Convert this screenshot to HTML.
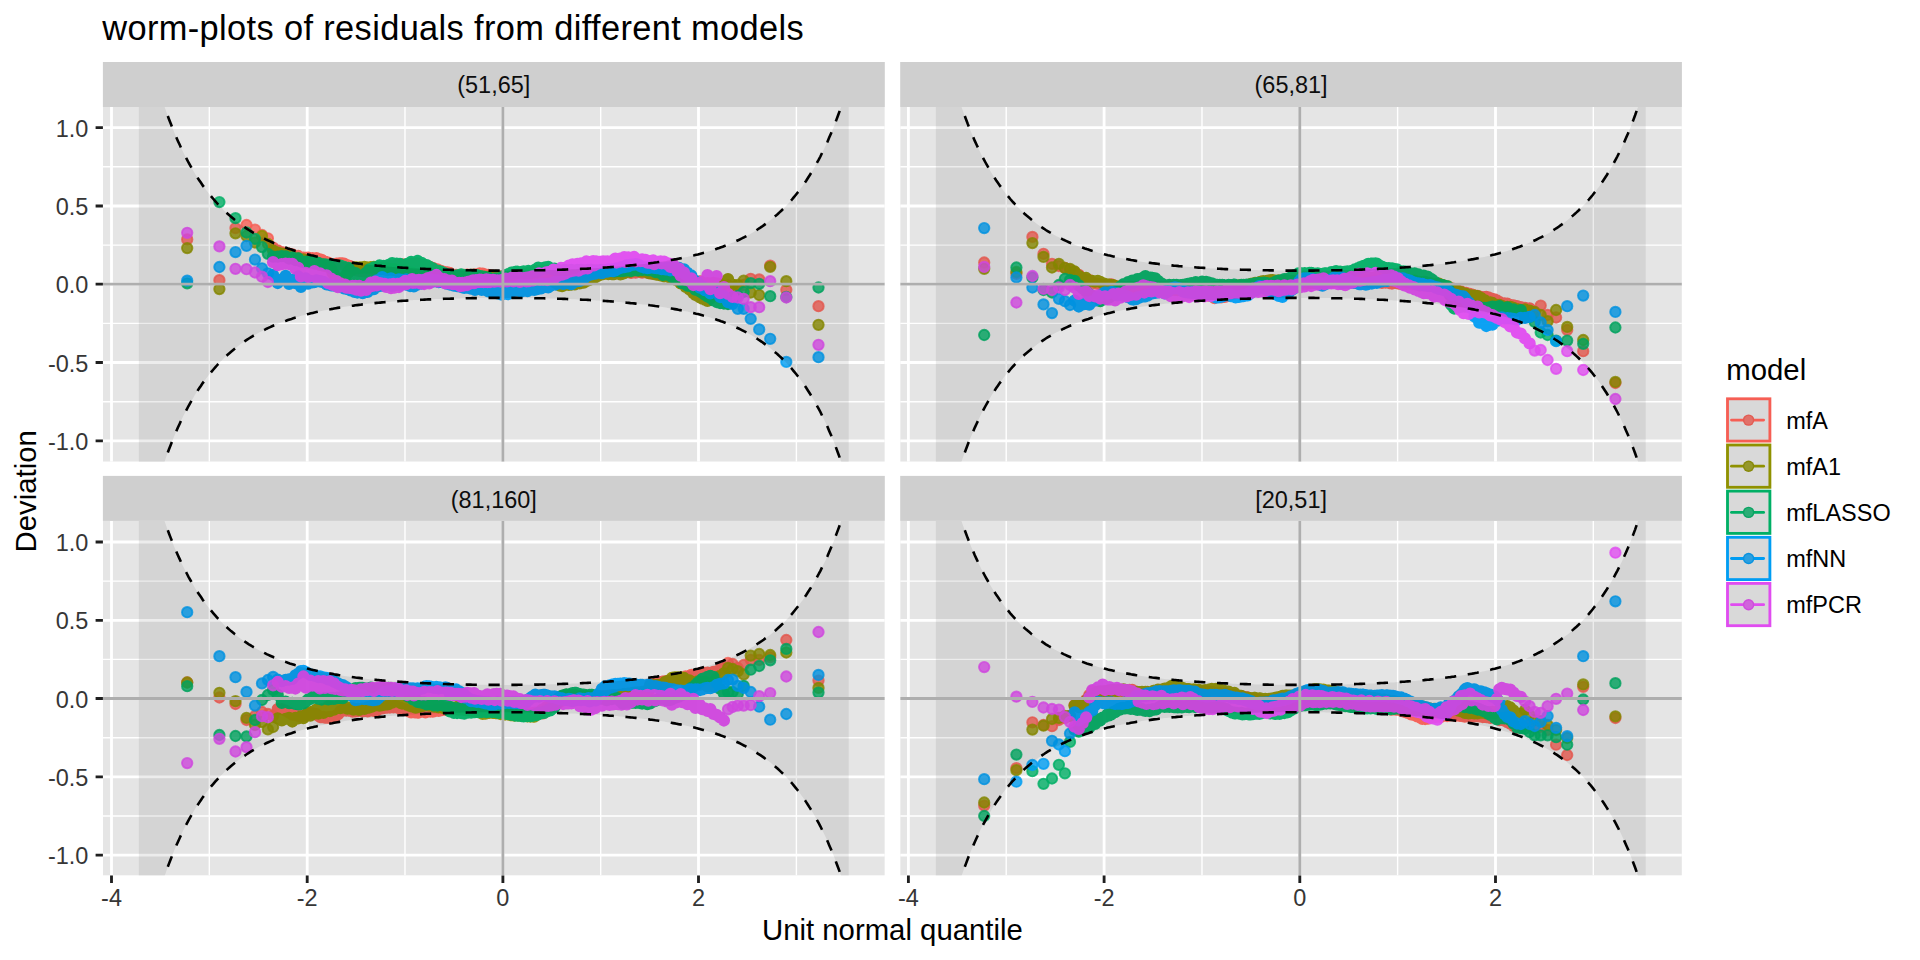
<!DOCTYPE html><html><head><meta charset="utf-8"><title>worm-plots</title><style>html,body{margin:0;padding:0;background:#fff;width:1920px;height:960px;overflow:hidden}svg{display:block}text{font-family:"Liberation Sans",Arial,sans-serif}</style></head><body><svg width="1920" height="960" viewBox="0 0 1920 960"><rect width="1920" height="960" fill="#fff"/><defs><clipPath id="cp00"><rect x="102.9" y="107" width="781.9" height="354.7"/></clipPath><clipPath id="cp01"><rect x="900.2" y="107" width="781.7" height="354.7"/></clipPath><clipPath id="cp10"><rect x="102.9" y="520.9" width="781.9" height="354.7"/></clipPath><clipPath id="cp11"><rect x="900.2" y="520.9" width="781.7" height="354.7"/></clipPath></defs><rect x="102.9" y="62" width="781.9" height="45" fill="#CFCFCF"/><text x="493.8" y="93" font-size="23.47" fill="#0D0D0D" text-anchor="middle">(51,65]</text><g clip-path="url(#cp00)"><rect x="102.9" y="107" width="781.9" height="354.7" fill="#E5E5E5"/><path d="M209.3 107V461.7M405 107V461.7M600.7 107V461.7M796.4 107V461.7M102.9 401.7H884.8M102.9 323.4H884.8M102.9 245.1H884.8M102.9 166.8H884.8" stroke="#fff" stroke-width="1.42" fill="none"/><path d="M111.5 107V461.7M307.2 107V461.7M502.9 107V461.7M698.5 107V461.7M102.9 440.8H884.8M102.9 362.5H884.8M102.9 284.2H884.8M102.9 206H884.8M102.9 127.7H884.8" stroke="#fff" stroke-width="2.84" fill="none"/><path d="M273.1 247.7h0M277.7 250.3h0M281.8 252.2h0M285.6 252.8h0M289.1 253.6h0M292.3 254.4h0M295.4 255.9h0M298.2 256h0M300.9 257.8h0M303.4 257.6h0M305.8 258h0M308.1 257.7h0M310.3 258.7h0M312.4 258.2h0M314.4 258.7h0M316.3 258.2h0M318.2 259.9h0M320 259.3h0M321.7 259.8h0M323.4 261.1h0M325 261.6h0M326.6 263.2h0M328.2 262.7h0M329.7 264.8h0M331.1 264.4h0M332.5 264.8h0M333.9 265h0M335.3 265h0M336.6 263.7h0M337.9 264.5h0M339.2 263.5h0M340.4 263.5h0M341.6 263.3h0M342.8 263.7h0M344 263.7h0M345.1 265.4h0M346.2 264.9h0M347.3 266h0M348.4 266h0M349.5 265.8h0M350.5 266.4h0M351.5 266.9h0M352.5 268h0M353.5 267.8h0M354.5 268.9h0M355.5 269.8h0M356.4 270.3h0M357.4 269.8h0M358.3 270.5h0M359.2 271h0M361 270.9h0M362.7 270.6h0M364.4 271.3h0M366.1 269.4h0M367.7 269.3h0M369.3 269.8h0M370.9 268.6h0M372.4 268.6h0M373.9 269.1h0M375.3 269h0M376.7 267.9h0M378.1 267.3h0M379.5 268.2h0M380.9 267.6h0M382.2 267.2h0M383.5 266.8h0M384.8 266.7h0M386.1 266.4h0M387.3 267h0M388.6 266.4h0M389.8 265.9h0M391 266.8h0M392.1 266.5h0M393.3 266.5h0M394.4 266.5h0M395.6 265.3h0M396.7 266.2h0M397.8 265.9h0M398.9 265.2h0M400 264.9h0M401 265.2h0M402.1 265.1h0M403.1 264.5h0M404.2 265.1h0M405.2 266h0M406.2 265.3h0M407.2 265.2h0M408.2 265.9h0M409.2 265.8h0M410.1 265.6h0M411.1 263.9h0M412.1 265.1h0M413 263.9h0M413.9 264.2h0M414.9 264.6h0M415.8 263.9h0M416.7 263.5h0M417.6 263.3h0M418.9 264.2h0M420.3 264.3h0M421.6 265.4h0M422.9 265.4h0M424.2 265.1h0M425.4 266.4h0M426.7 267.1h0M428 266.9h0M429.2 266.7h0M430.4 267.6h0M431.6 268.3h0M432.8 267.9h0M434 268.9h0M435.2 269.3h0M436.4 269.1h0M437.5 269.3h0M438.7 270.7h0M439.8 270.6h0M441 270.9h0M442.1 271.3h0M443.2 272.1h0M444.3 272.6h0M445.4 272.2h0M446.5 273.2h0M447.6 272.3h0M448.7 274h0M449.8 273h0M450.8 274.9h0M451.9 275.2h0M452.9 275h0M454 275.8h0M455 275.7h0M456.1 274.8h0M457.1 275.8h0M458.1 276.2h0M459.2 275.8h0M460.2 275h0M461.2 275.3h0M462.2 276h0M463.2 275.9h0M464.2 275h0M465.2 276h0M466.2 275.2h0M467.2 274.7h0M468.2 276.1h0M469.2 275.6h0M470.2 275.8h0M471.1 274.7h0M472.1 275.2h0M473.1 275.7h0M474.1 274.3h0M475 275.5h0M476 274.7h0M476.9 274.8h0M477.9 274.6h0M478.9 274.5h0M479.8 273.5h0M480.8 274.2h0M481.7 273.8h0M482.7 273.7h0M483.6 274.2h0M484.5 275.3h0M485.5 275.5h0M486.4 275h0M487.4 275.3h0M488.3 274.8h0M489.2 275.1h0M490.2 275.8h0M491.1 275.4h0M492 276.3h0M493 276.5h0M493.9 276h0M494.8 276.1h0M495.7 275.8h0M496.7 276h0M497.6 277.1h0M498.5 276.3h0M499.5 276.1h0M500.4 277.3h0M501.3 277.5h0M502.2 277.7h0M503.2 277.6h0M504.1 276.8h0M505 277.4h0M505.9 277.2h0M506.9 277.2h0M507.8 277.3h0M508.7 277.2h0M509.6 277h0M510.6 277.3h0M511.5 276.9h0M512.4 276.7h0M513.4 276h0M514.3 276.5h0M515.2 276.6h0M516.2 276h0M517.1 274.9h0M518 275.6h0M519 275.2h0M519.9 274.5h0M520.8 274.5h0M521.8 275h0M522.7 274.6h0M523.7 274h0M524.6 274.3h0M525.6 274.2h0M526.5 274.2h0M527.5 274.4h0M528.4 273.8h0M529.4 272.4h0M530.4 274.6h0M531.3 273.6h0M532.3 272.8h0M533.3 273.8h0M534.2 272.9h0M535.2 272h0M536.2 271h0M537.2 273.4h0M538.2 271.1h0M539.1 271.4h0M540.1 271.8h0M541.1 272.1h0M542.1 272.1h0M543.1 271.7h0M544.2 272.6h0M545.2 272.9h0M546.2 271.3h0M547.2 272.3h0M548.2 272.2h0M549.3 272.8h0M550.3 271.7h0M551.4 273h0M552.4 273.6h0M553.5 272.1h0M554.5 273.6h0M555.6 273h0M556.7 272.9h0M557.7 273.2h0M558.8 273.9h0M559.9 273.6h0M561 273.7h0M562.1 274.2h0M563.2 273.7h0M564.4 274.8h0M565.5 273.2h0M566.6 275h0M567.8 274.2h0M568.9 273.4h0M570.1 273.3h0M571.3 273.3h0M572.5 273.9h0M573.7 273.1h0M574.9 273.2h0M576.1 273.2h0M577.3 272.8h0M578.6 272.8h0M579.8 272.9h0M581.1 273.8h0M582.4 271.9h0M583.7 273.3h0M585 272.4h0M586.3 272.4h0M587.6 273.4h0M588.5 272.8h0M589.5 272.2h0M590.4 272.4h0M591.3 273.3h0M592.2 273.2h0M593.2 272.3h0M594.1 272.1h0M595.1 272.5h0M596 272.2h0M597 271h0M598 273.2h0M599 272.2h0M600 271.6h0M601 272.5h0M602 271.8h0M603.1 272.6h0M604.1 272.2h0M605.2 272.3h0M606.3 272.3h0M607.4 272.2h0M608.4 272.2h0M609.6 272.4h0M610.7 272.3h0M611.8 270.9h0M613 272h0M614.2 271.1h0M615.3 271.1h0M616.5 272.1h0M617.8 271.8h0M619 272.1h0M620.3 271.2h0M621.5 272.8h0M622.8 272h0M624.2 271.9h0M625.5 272.3h0M626.9 270.7h0M628.2 271.4h0M629.7 270.3h0M631.1 272.9h0M632.6 271.3h0M634.1 271.8h0M635.6 272.7h0M637.2 271.8h0M638.8 271.8h0M640.4 270.6h0M642.1 272.7h0M643.8 272.1h0M645.6 270.5h0M647.4 272.6h0M648.3 271.7h0M649.3 273h0M650.2 271.4h0M651.2 273.5h0M652.2 272.6h0M653.2 271.4h0M654.2 273.3h0M655.2 272.3h0M656.2 272.5h0M657.3 271.8h0M658.4 274.2h0M659.5 273.2h0M660.6 272.3h0M661.7 274h0M662.9 272.5h0M664.1 272.8h0M665.3 273.1h0M666.5 274.6h0M667.8 274h0M669.1 272.9h0M670.4 274.6h0M671.8 273.6h0M673.2 274.8h0M674.6 274.1h0M676 275.4h0M677.5 274.3h0M679.1 274.9h0M680.7 276.1h0M682.3 276.4h0M684 277.2h0M685.7 277.5h0M687.5 279.3h0M689.4 279.6h0M691.3 279.3h0M693.3 282.1h0M695.4 281.7h0M697.6 282.3h0M699.9 281.3h0M702.3 282.7h0M704.8 283.4h0M707.5 283.1h0M710.3 284.3h0M713.4 282.8h0M716.6 283.5h0M720.1 284.6h0M723.9 285.9h0M728 285.5h0M732.6 287.4h0" stroke="#F65E54" stroke-opacity="0.95" stroke-width="12.3" stroke-linecap="round" fill="none"/><circle cx="187.2" cy="239.4" r="5.2" fill="#F65E54" fill-opacity="0.8" stroke="#F65E54" stroke-opacity="0.8" stroke-width="1.9"/><circle cx="219.4" cy="280.2" r="5.2" fill="#F65E54" fill-opacity="0.8" stroke="#F65E54" stroke-opacity="0.8" stroke-width="1.9"/><circle cx="235.5" cy="228.1" r="5.2" fill="#F65E54" fill-opacity="0.8" stroke="#F65E54" stroke-opacity="0.8" stroke-width="1.9"/><circle cx="246.5" cy="225" r="5.2" fill="#F65E54" fill-opacity="0.8" stroke="#F65E54" stroke-opacity="0.8" stroke-width="1.9"/><circle cx="255" cy="229.6" r="5.2" fill="#F65E54" fill-opacity="0.8" stroke="#F65E54" stroke-opacity="0.8" stroke-width="1.9"/><circle cx="262" cy="235" r="5.2" fill="#F65E54" fill-opacity="0.8" stroke="#F65E54" stroke-opacity="0.8" stroke-width="1.9"/><circle cx="267.9" cy="238.3" r="5.2" fill="#F65E54" fill-opacity="0.8" stroke="#F65E54" stroke-opacity="0.8" stroke-width="1.9"/><circle cx="818.5" cy="306.2" r="5.2" fill="#F65E54" fill-opacity="0.8" stroke="#F65E54" stroke-opacity="0.8" stroke-width="1.9"/><circle cx="786.3" cy="289.8" r="5.2" fill="#F65E54" fill-opacity="0.8" stroke="#F65E54" stroke-opacity="0.8" stroke-width="1.9"/><circle cx="770.2" cy="265.6" r="5.2" fill="#F65E54" fill-opacity="0.8" stroke="#F65E54" stroke-opacity="0.8" stroke-width="1.9"/><circle cx="759.2" cy="279.4" r="5.2" fill="#F65E54" fill-opacity="0.8" stroke="#F65E54" stroke-opacity="0.8" stroke-width="1.9"/><circle cx="750.7" cy="278.8" r="5.2" fill="#F65E54" fill-opacity="0.8" stroke="#F65E54" stroke-opacity="0.8" stroke-width="1.9"/><circle cx="743.7" cy="285" r="5.2" fill="#F65E54" fill-opacity="0.8" stroke="#F65E54" stroke-opacity="0.8" stroke-width="1.9"/><circle cx="737.8" cy="288" r="5.2" fill="#F65E54" fill-opacity="0.8" stroke="#F65E54" stroke-opacity="0.8" stroke-width="1.9"/><path d="M273.1 250.7h0M277.7 252.6h0M281.8 253.7h0M285.6 256.2h0M289.1 255.6h0M292.3 258h0M295.4 258.3h0M298.2 258.4h0M300.9 260.4h0M303.4 259.4h0M305.8 260.6h0M308.1 260.8h0M310.3 262.5h0M312.4 262h0M314.4 262.5h0M316.3 263.6h0M318.2 263.4h0M320 264.9h0M321.7 264.5h0M323.4 265.7h0M325 265.1h0M326.6 266.3h0M328.2 266.1h0M329.7 267.1h0M331.1 269.1h0M332.5 272.3h0M333.9 274.3h0M335.3 277h0M336.6 277.8h0M337.9 279h0M339.2 278.9h0M340.4 279.1h0M341.6 280.5h0M342.8 280h0M344 277.8h0M345.1 277h0M346.2 274.9h0M347.3 272.9h0M348.4 272.4h0M349.5 270.1h0M350.5 268.9h0M351.5 269.4h0M352.5 269.4h0M353.5 268.5h0M354.5 268.4h0M355.5 267.3h0M356.4 267.4h0M357.4 268h0M358.3 268.2h0M359.2 267.6h0M361 267.5h0M362.7 267.5h0M364.4 267h0M366.1 267.5h0M367.7 267.7h0M369.3 267.7h0M370.9 267.2h0M372.4 267.4h0M373.9 266.9h0M375.3 267.4h0M376.7 267.9h0M378.1 268.6h0M379.5 268.7h0M380.9 269.2h0M382.2 268h0M383.5 268.1h0M384.8 269.4h0M386.1 268.5h0M387.3 270.1h0M388.6 268.8h0M389.8 269.3h0M391 269.3h0M392.1 269.8h0M393.3 269.4h0M394.4 269.4h0M395.6 270.1h0M396.7 270h0M397.8 271.2h0M398.9 270.6h0M400 271.3h0M401 271.1h0M402.1 271.7h0M403.1 270.6h0M404.2 270.6h0M405.2 271.8h0M406.2 272.5h0M407.2 271.9h0M408.2 272.2h0M409.2 272.9h0M410.1 273.1h0M411.1 273.8h0M412.1 273h0M413 273.4h0M413.9 274h0M414.9 274.2h0M415.8 274.7h0M416.7 275.2h0M417.6 275.9h0M418.9 274.8h0M420.3 275.7h0M421.6 275.4h0M422.9 274.3h0M424.2 275.1h0M425.4 274.8h0M426.7 273.3h0M428 273.7h0M429.2 273.4h0M430.4 274.2h0M431.6 274.5h0M432.8 273.6h0M434 275.5h0M435.2 275.8h0M436.4 275.9h0M437.5 275.9h0M438.7 275.7h0M439.8 275.6h0M441 275.7h0M442.1 276.5h0M443.2 275.6h0M444.3 275.6h0M445.4 276.4h0M446.5 276h0M447.6 276.6h0M448.7 276.8h0M449.8 277.5h0M450.8 277.6h0M451.9 277h0M452.9 277.7h0M454 276.6h0M455 277.2h0M456.1 277h0M457.1 277.5h0M458.1 278.1h0M459.2 278.2h0M460.2 278h0M461.2 277.6h0M462.2 276.7h0M463.2 277.5h0M464.2 277.8h0M465.2 277.5h0M466.2 277.5h0M467.2 277.9h0M468.2 277.6h0M469.2 277.1h0M470.2 277.4h0M471.1 277.4h0M472.1 276.7h0M473.1 277.4h0M474.1 277.4h0M475 278h0M476 276.8h0M476.9 277.7h0M477.9 278.1h0M478.9 276.9h0M479.8 276.8h0M480.8 277.3h0M481.7 277h0M482.7 276.9h0M483.6 277.3h0M484.5 277.6h0M485.5 277.5h0M486.4 277.4h0M487.4 277.1h0M488.3 277.3h0M489.2 277.3h0M490.2 277h0M491.1 276.3h0M492 276.2h0M493 276h0M493.9 276.5h0M494.8 276.9h0M495.7 275.9h0M496.7 277.1h0M497.6 276.7h0M498.5 276.9h0M499.5 276.9h0M500.4 277.3h0M501.3 277.3h0M502.2 276.7h0M503.2 277h0M504.1 277.7h0M505 277.8h0M505.9 277.9h0M506.9 278.1h0M507.8 277.1h0M508.7 277.5h0M509.6 277.2h0M510.6 277.4h0M511.5 277h0M512.4 276.9h0M513.4 276.8h0M514.3 278.2h0M515.2 276.9h0M516.2 277.6h0M517.1 277.9h0M518 278.1h0M519 277.5h0M519.9 277.5h0M520.8 276.4h0M521.8 276.4h0M522.7 276.4h0M523.7 275.4h0M524.6 276h0M525.6 276.2h0M526.5 275.3h0M527.5 275.1h0M528.4 275.2h0M529.4 275.2h0M530.4 276.5h0M531.3 275.4h0M532.3 276h0M533.3 276h0M534.2 276.5h0M535.2 275.4h0M536.2 277.3h0M537.2 276.4h0M538.2 277.4h0M539.1 276h0M540.1 277.1h0M541.1 277.7h0M542.1 277.7h0M543.1 277.9h0M544.2 276.9h0M545.2 278.4h0M546.2 277.2h0M547.2 278.5h0M548.2 277.8h0M549.3 277h0M550.3 278.9h0M551.4 278.9h0M552.4 280.6h0M553.5 280h0M554.5 282.1h0M555.6 282.7h0M556.7 282.3h0M557.7 284.1h0M558.8 283.9h0M559.9 285.6h0M561 285.8h0M562.1 286.2h0M563.2 285.7h0M564.4 284.4h0M565.5 284.4h0M566.6 284.3h0M567.8 283.8h0M568.9 284.9h0M570.1 284.3h0M571.3 284.7h0M572.5 283.4h0M573.7 284h0M574.9 284.3h0M576.1 283.2h0M577.3 283.1h0M578.6 283h0M579.8 283.3h0M581.1 282.1h0M582.4 282.2h0M583.7 282.6h0M585 281.7h0M586.3 281.2h0M587.6 279.9h0M588.5 278.9h0M589.5 280h0M590.4 278.5h0M591.3 278.8h0M592.2 277.9h0M593.2 277.7h0M594.1 276.6h0M595.1 277.4h0M596 276.7h0M597 275.2h0M598 275.9h0M599 275.3h0M600 274.8h0M601 273.4h0M602 273.9h0M603.1 274.2h0M604.1 273.7h0M605.2 273h0M606.3 273.7h0M607.4 273.6h0M608.4 274.2h0M609.6 272.8h0M610.7 272.8h0M611.8 274.2h0M613 274h0M614.2 274.1h0M615.3 273.3h0M616.5 273.2h0M617.8 272.8h0M619 273.7h0M620.3 274.3h0M621.5 274.1h0M622.8 273.7h0M624.2 273.1h0M625.5 272.2h0M626.9 271.7h0M628.2 271.1h0M629.7 271.8h0M631.1 271.2h0M632.6 270.7h0M634.1 270.2h0M635.6 269.2h0M637.2 270.4h0M638.8 270.6h0M640.4 271.3h0M642.1 271.3h0M643.8 271.3h0M645.6 271.4h0M647.4 271.7h0M648.3 273h0M649.3 272.6h0M650.2 273.1h0M651.2 272.1h0M652.2 273.1h0M653.2 273.2h0M654.2 274.1h0M655.2 273.7h0M656.2 274.5h0M657.3 273.4h0M658.4 274.4h0M659.5 275.1h0M660.6 274.2h0M661.7 275.7h0M662.9 275.8h0M664.1 276.3h0M665.3 276.1h0M666.5 275.8h0M667.8 276h0M669.1 277.1h0M670.4 277.9h0M671.8 277.6h0M673.2 277.4h0M674.6 278.8h0M676 279.8h0M677.5 279.6h0M679.1 281.5h0M680.7 283.3h0M682.3 283h0M684 284.2h0M685.7 286.8h0M687.5 286.8h0M689.4 289.3h0M691.3 290.6h0M693.3 293.1h0M695.4 294.9h0M697.6 296h0M699.9 297.3h0M702.3 298.7h0M704.8 299.6h0M707.5 300.9h0M710.3 298.3h0M713.4 296.2h0M716.6 290.2h0M720.1 290.7h0M723.9 284.4h0M728 279.1h0M732.6 284.6h0" stroke="#8F9100" stroke-opacity="0.95" stroke-width="12.3" stroke-linecap="round" fill="none"/><circle cx="187.2" cy="248.1" r="5.2" fill="#8F9100" fill-opacity="0.8" stroke="#8F9100" stroke-opacity="0.8" stroke-width="1.9"/><circle cx="219.4" cy="289.1" r="5.2" fill="#8F9100" fill-opacity="0.8" stroke="#8F9100" stroke-opacity="0.8" stroke-width="1.9"/><circle cx="235.5" cy="233.3" r="5.2" fill="#8F9100" fill-opacity="0.8" stroke="#8F9100" stroke-opacity="0.8" stroke-width="1.9"/><circle cx="246.5" cy="236" r="5.2" fill="#8F9100" fill-opacity="0.8" stroke="#8F9100" stroke-opacity="0.8" stroke-width="1.9"/><circle cx="255" cy="242.5" r="5.2" fill="#8F9100" fill-opacity="0.8" stroke="#8F9100" stroke-opacity="0.8" stroke-width="1.9"/><circle cx="262" cy="236" r="5.2" fill="#8F9100" fill-opacity="0.8" stroke="#8F9100" stroke-opacity="0.8" stroke-width="1.9"/><circle cx="267.9" cy="244" r="5.2" fill="#8F9100" fill-opacity="0.8" stroke="#8F9100" stroke-opacity="0.8" stroke-width="1.9"/><circle cx="818.5" cy="324.8" r="5.2" fill="#8F9100" fill-opacity="0.8" stroke="#8F9100" stroke-opacity="0.8" stroke-width="1.9"/><circle cx="786.3" cy="281.2" r="5.2" fill="#8F9100" fill-opacity="0.8" stroke="#8F9100" stroke-opacity="0.8" stroke-width="1.9"/><circle cx="770.2" cy="266.9" r="5.2" fill="#8F9100" fill-opacity="0.8" stroke="#8F9100" stroke-opacity="0.8" stroke-width="1.9"/><circle cx="759.2" cy="295" r="5.2" fill="#8F9100" fill-opacity="0.8" stroke="#8F9100" stroke-opacity="0.8" stroke-width="1.9"/><circle cx="750.7" cy="292.5" r="5.2" fill="#8F9100" fill-opacity="0.8" stroke="#8F9100" stroke-opacity="0.8" stroke-width="1.9"/><circle cx="743.7" cy="280.6" r="5.2" fill="#8F9100" fill-opacity="0.8" stroke="#8F9100" stroke-opacity="0.8" stroke-width="1.9"/><circle cx="737.8" cy="285" r="5.2" fill="#8F9100" fill-opacity="0.8" stroke="#8F9100" stroke-opacity="0.8" stroke-width="1.9"/><path d="M273.1 256.7h0M277.7 256.7h0M281.8 256.1h0M285.6 256.4h0M289.1 258.5h0M292.3 257.4h0M295.4 260h0M298.2 258.5h0M300.9 261.3h0M303.4 262h0M305.8 261.7h0M308.1 262.6h0M310.3 261.9h0M312.4 262.2h0M314.4 263.3h0M316.3 262.3h0M318.2 262.8h0M320 263.9h0M321.7 264.5h0M323.4 264.4h0M325 264.3h0M326.6 265.1h0M328.2 264.8h0M329.7 266.6h0M331.1 265.4h0M332.5 268.8h0M333.9 267.5h0M335.3 266h0M336.6 269h0M337.9 266.3h0M339.2 269.4h0M340.4 265.7h0M341.6 271.5h0M342.8 268.5h0M344 266.9h0M345.1 272.3h0M346.2 270.1h0M347.3 271.8h0M348.4 267.9h0M349.5 275.3h0M350.5 272.4h0M351.5 271.7h0M352.5 275.9h0M353.5 273.2h0M354.5 274.7h0M355.5 273.1h0M356.4 276h0M357.4 276.6h0M358.3 275.4h0M359.2 277.3h0M361 277.4h0M362.7 276.9h0M364.4 274.4h0M366.1 272.9h0M367.7 272.5h0M369.3 269.5h0M370.9 271.6h0M372.4 269h0M373.9 267.5h0M375.3 269.3h0M376.7 268.2h0M378.1 268h0M379.5 265.5h0M380.9 268.9h0M382.2 266.9h0M383.5 265.9h0M384.8 268.1h0M386.1 266.5h0M387.3 267h0M388.6 264.9h0M389.8 268.9h0M391 266h0M392.1 263.2h0M393.3 268h0M394.4 265.6h0M395.6 265.9h0M396.7 263.7h0M397.8 268.2h0M398.9 265.9h0M400 264h0M401 268.2h0M402.1 266.2h0M403.1 268.3h0M404.2 264.8h0M405.2 269.8h0M406.2 266.3h0M407.2 263.8h0M408.2 268.3h0M409.2 265.6h0M410.1 266.8h0M411.1 261.9h0M412.1 269.8h0M413 265.3h0M413.9 263h0M414.9 268.4h0M415.8 263.4h0M416.7 266.9h0M417.6 260.9h0M418.9 269.5h0M420.3 266.2h0M421.6 262.9h0M422.9 267.1h0M424.2 265.8h0M425.4 266.7h0M426.7 265.1h0M428 267.1h0M429.2 266.6h0M430.4 267.6h0M431.6 267.9h0M432.8 268.4h0M434 269.4h0M435.2 270.5h0M436.4 270.7h0M437.5 271.7h0M438.7 270.8h0M439.8 272.3h0M441 271.7h0M442.1 273h0M443.2 273.2h0M444.3 273.1h0M445.4 273.7h0M446.5 274.8h0M447.6 274.6h0M448.7 275.2h0M449.8 274.9h0M450.8 276.4h0M451.9 275.8h0M452.9 276.2h0M454 276.2h0M455 276h0M456.1 276h0M457.1 276.2h0M458.1 275.1h0M459.2 274.8h0M460.2 274.6h0M461.2 274.5h0M462.2 275.5h0M463.2 275.2h0M464.2 275.6h0M465.2 275.1h0M466.2 275.6h0M467.2 275.5h0M468.2 275.5h0M469.2 275.6h0M470.2 275h0M471.1 274.9h0M472.1 275.2h0M473.1 274.8h0M474.1 274.9h0M475 275.1h0M476 276.3h0M476.9 275.2h0M477.9 276.1h0M478.9 276h0M479.8 276.7h0M480.8 276.2h0M481.7 276.3h0M482.7 276.9h0M483.6 277.7h0M484.5 277h0M485.5 277.5h0M486.4 278.4h0M487.4 278.5h0M488.3 277.7h0M489.2 278.2h0M490.2 278.6h0M491.1 278.9h0M492 279.1h0M493 279.1h0M493.9 278.8h0M494.8 279.6h0M495.7 278.5h0M496.7 279.3h0M497.6 279.9h0M498.5 278.7h0M499.5 278.7h0M500.4 279h0M501.3 277.5h0M502.2 277.4h0M503.2 276.9h0M504.1 275.8h0M505 275.6h0M505.9 275.1h0M506.9 274.6h0M507.8 274.9h0M508.7 273.8h0M509.6 274.2h0M510.6 273.4h0M511.5 272.7h0M512.4 273.4h0M513.4 272.5h0M514.3 273.4h0M515.2 272h0M516.2 272.1h0M517.1 271.6h0M518 272.9h0M519 272.6h0M519.9 272.7h0M520.8 272.1h0M521.8 272.4h0M522.7 271.6h0M523.7 271.4h0M524.6 271.9h0M525.6 273.6h0M526.5 273.2h0M527.5 273.5h0M528.4 270.9h0M529.4 273.4h0M530.4 272h0M531.3 271.1h0M532.3 272.3h0M533.3 270.9h0M534.2 270.8h0M535.2 269.7h0M536.2 272.1h0M537.2 269.9h0M538.2 267.7h0M539.1 270.5h0M540.1 268.9h0M541.1 269.6h0M542.1 268.1h0M543.1 268.5h0M544.2 268.6h0M545.2 267.5h0M546.2 267.6h0M547.2 268.3h0M548.2 266.8h0M549.3 267.7h0M550.3 268.3h0M551.4 268.7h0M552.4 268.7h0M553.5 269.4h0M554.5 268.7h0M555.6 269.9h0M556.7 270.3h0M557.7 270h0M558.8 270.4h0M559.9 271.7h0M561 271.1h0M562.1 271.5h0M563.2 271.9h0M564.4 270h0M565.5 270.6h0M566.6 270.1h0M567.8 271.2h0M568.9 271.2h0M570.1 270.1h0M571.3 269.9h0M572.5 270.6h0M573.7 270.8h0M574.9 270.8h0M576.1 270.3h0M577.3 269.9h0M578.6 270.9h0M579.8 270.1h0M581.1 269.9h0M582.4 270.1h0M583.7 271.1h0M585 270.7h0M586.3 270.5h0M587.6 269.9h0M588.5 271.2h0M589.5 270.4h0M590.4 269.9h0M591.3 270h0M592.2 270.7h0M593.2 271.1h0M594.1 270.3h0M595.1 270.9h0M596 270.4h0M597 270.6h0M598 270.8h0M599 270.4h0M600 270.3h0M601 270h0M602 270.3h0M603.1 270.2h0M604.1 271h0M605.2 270.9h0M606.3 270.7h0M607.4 270.4h0M608.4 270.8h0M609.6 270.2h0M610.7 270.9h0M611.8 270.8h0M613 269.8h0M614.2 271.3h0M615.3 271.2h0M616.5 271.2h0M617.8 270.3h0M619 270.2h0M620.3 271.1h0M621.5 270.7h0M622.8 271.1h0M624.2 270.5h0M625.5 270.6h0M626.9 270.3h0M628.2 269.8h0M629.7 270.6h0M631.1 270.8h0M632.6 269.8h0M634.1 270h0M635.6 269.1h0M637.2 270.3h0M638.8 269.2h0M640.4 269.3h0M642.1 269.8h0M643.8 269.4h0M645.6 268.9h0M647.4 270.1h0M648.3 270.1h0M649.3 270.2h0M650.2 268.9h0M651.2 270h0M652.2 270.5h0M653.2 270.5h0M654.2 269.8h0M655.2 272h0M656.2 270.4h0M657.3 270.5h0M658.4 272.4h0M659.5 271.5h0M660.6 272.3h0M661.7 270.9h0M662.9 275h0M664.1 273.2h0M665.3 272.5h0M666.5 274.7h0M667.8 273.2h0M669.1 274.1h0M670.4 272h0M671.8 276.9h0M673.2 275.7h0M674.6 273.5h0M676 277.6h0M677.5 277.5h0M679.1 279.8h0M680.7 277.3h0M682.3 283.2h0M684 282.5h0M685.7 281.3h0M687.5 285.7h0M689.4 285.3h0M691.3 286.3h0M693.3 285.9h0M695.4 289.6h0M697.6 290h0M699.9 291.4h0M702.3 293h0M704.8 294.7h0M707.5 296.4h0M710.3 297.9h0M713.4 300.4h0M716.6 302h0M720.1 303h0M723.9 303.5h0M728 304h0M732.6 297h0" stroke="#00AF65" stroke-opacity="0.95" stroke-width="12.3" stroke-linecap="round" fill="none"/><circle cx="187.2" cy="283.3" r="5.2" fill="#00AF65" fill-opacity="0.8" stroke="#00AF65" stroke-opacity="0.8" stroke-width="1.9"/><circle cx="219.4" cy="202.1" r="5.2" fill="#00AF65" fill-opacity="0.8" stroke="#00AF65" stroke-opacity="0.8" stroke-width="1.9"/><circle cx="235.5" cy="218.2" r="5.2" fill="#00AF65" fill-opacity="0.8" stroke="#00AF65" stroke-opacity="0.8" stroke-width="1.9"/><circle cx="246.5" cy="232.5" r="5.2" fill="#00AF65" fill-opacity="0.8" stroke="#00AF65" stroke-opacity="0.8" stroke-width="1.9"/><circle cx="255" cy="238.8" r="5.2" fill="#00AF65" fill-opacity="0.8" stroke="#00AF65" stroke-opacity="0.8" stroke-width="1.9"/><circle cx="262" cy="247.1" r="5.2" fill="#00AF65" fill-opacity="0.8" stroke="#00AF65" stroke-opacity="0.8" stroke-width="1.9"/><circle cx="267.9" cy="253.8" r="5.2" fill="#00AF65" fill-opacity="0.8" stroke="#00AF65" stroke-opacity="0.8" stroke-width="1.9"/><circle cx="818.5" cy="287.5" r="5.2" fill="#00AF65" fill-opacity="0.8" stroke="#00AF65" stroke-opacity="0.8" stroke-width="1.9"/><circle cx="786.3" cy="297" r="5.2" fill="#00AF65" fill-opacity="0.8" stroke="#00AF65" stroke-opacity="0.8" stroke-width="1.9"/><circle cx="770.2" cy="296.2" r="5.2" fill="#00AF65" fill-opacity="0.8" stroke="#00AF65" stroke-opacity="0.8" stroke-width="1.9"/><circle cx="759.2" cy="283.8" r="5.2" fill="#00AF65" fill-opacity="0.8" stroke="#00AF65" stroke-opacity="0.8" stroke-width="1.9"/><circle cx="750.7" cy="283.1" r="5.2" fill="#00AF65" fill-opacity="0.8" stroke="#00AF65" stroke-opacity="0.8" stroke-width="1.9"/><circle cx="743.7" cy="292" r="5.2" fill="#00AF65" fill-opacity="0.8" stroke="#00AF65" stroke-opacity="0.8" stroke-width="1.9"/><circle cx="737.8" cy="296" r="5.2" fill="#00AF65" fill-opacity="0.8" stroke="#00AF65" stroke-opacity="0.8" stroke-width="1.9"/><path d="M273.1 275h0M277.7 283h0M281.8 279.5h0M285.6 275.9h0M289.1 283.9h0M292.3 279.9h0M295.4 283.2h0M298.2 276.5h0M300.9 286.8h0M303.4 280.8h0M305.8 278.5h0M308.1 283.6h0M310.3 280.9h0M312.4 282.4h0M314.4 282.1h0M316.3 280.5h0M318.2 281h0M320 281.2h0M321.7 281.9h0M323.4 281.9h0M325 283h0M326.6 284.3h0M328.2 284.5h0M329.7 285h0M331.1 285.3h0M332.5 285.3h0M333.9 285.4h0M335.3 285.8h0M336.6 286.1h0M337.9 285.7h0M339.2 286.1h0M340.4 286.7h0M341.6 287.3h0M342.8 287h0M344 288.3h0M345.1 288.2h0M346.2 288.1h0M347.3 289.1h0M348.4 288.4h0M349.5 289.3h0M350.5 290.3h0M351.5 289.5h0M352.5 289.7h0M353.5 289.1h0M354.5 291.8h0M355.5 290.9h0M356.4 290h0M357.4 292.5h0M358.3 290.1h0M359.2 291h0M361 288.7h0M362.7 293.2h0M364.4 291.2h0M366.1 290.5h0M367.7 291.8h0M369.3 289.2h0M370.9 288.8h0M372.4 283.8h0M373.9 289.1h0M375.3 285.3h0M376.7 280.5h0M378.1 286.4h0M379.5 281.2h0M380.9 283.2h0M382.2 277.2h0M383.5 285.9h0M384.8 281.3h0M386.1 279.1h0M387.3 283.9h0M388.6 280.8h0M389.8 283.6h0M391 278.3h0M392.1 286.1h0M393.3 281.2h0M394.4 279.9h0M395.6 285h0M396.7 281.4h0M397.8 283.1h0M398.9 279.3h0M400 285.4h0M401 281.1h0M402.1 279.9h0M403.1 283.4h0M404.2 281.8h0M405.2 282.6h0M406.2 279.3h0M407.2 284.8h0M408.2 282.7h0M409.2 281.7h0M410.1 286h0M411.1 282.7h0M412.1 284.8h0M413 280.5h0M413.9 286.4h0M414.9 283.6h0M415.8 281.2h0M416.7 284.9h0M417.6 281.4h0M418.9 282.2h0M420.3 280.7h0M421.6 283.5h0M422.9 281.7h0M424.2 279.7h0M425.4 282.4h0M426.7 280.1h0M428 280.8h0M429.2 279.3h0M430.4 282.2h0M431.6 280.5h0M432.8 280.1h0M434 281.3h0M435.2 280.5h0M436.4 281.1h0M437.5 280.5h0M438.7 282.1h0M439.8 281.4h0M441 281.8h0M442.1 282.1h0M443.2 282.1h0M444.3 282.5h0M445.4 282.5h0M446.5 283.6h0M447.6 282.9h0M448.7 282.7h0M449.8 284.5h0M450.8 283.3h0M451.9 284.4h0M452.9 282.6h0M454 285.7h0M455 284h0M456.1 284.7h0M457.1 286.2h0M458.1 285h0M459.2 286.2h0M460.2 284.1h0M461.2 287h0M462.2 285.6h0M463.2 285.5h0M464.2 287.8h0M465.2 286.8h0M466.2 287.4h0M467.2 285.3h0M468.2 287.8h0M469.2 286.9h0M470.2 286.1h0M471.1 288.7h0M472.1 286.8h0M473.1 287.8h0M474.1 286h0M475 289.8h0M476 286.9h0M476.9 286.7h0M477.9 288.6h0M478.9 286.5h0M479.8 288.2h0M480.8 285.3h0M481.7 289.8h0M482.7 288h0M483.6 286.8h0M484.5 289.2h0M485.5 286.8h0M486.4 289.9h0M487.4 286.4h0M488.3 291.4h0M489.2 288.1h0M490.2 286.5h0M491.1 291.2h0M492 288.2h0M493 289.9h0M493.9 287.3h0M494.8 292.4h0M495.7 289.9h0M496.7 287.6h0M497.6 293.3h0M498.5 290.6h0M499.5 292.3h0M500.4 287.4h0M501.3 294.5h0M502.2 290.8h0M503.2 288.1h0M504.1 293.9h0M505 290.5h0M505.9 292.2h0M506.9 287.6h0M507.8 294.2h0M508.7 289.7h0M509.6 287.5h0M510.6 291h0M511.5 287.7h0M512.4 289.5h0M513.4 286.7h0M514.3 290.8h0M515.2 288.4h0M516.2 286.9h0M517.1 290.4h0M518 287.8h0M519 288.3h0M519.9 284.8h0M520.8 291.6h0M521.8 289h0M522.7 286.9h0M523.7 290.9h0M524.6 287h0M525.6 289.4h0M526.5 285.5h0M527.5 291.1h0M528.4 288.1h0M529.4 285.5h0M530.4 289.8h0M531.3 287.5h0M532.3 289.3h0M533.3 285.6h0M534.2 289.9h0M535.2 287.4h0M536.2 284.7h0M537.2 289.2h0M538.2 285.6h0M539.1 286.7h0M540.1 284.3h0M541.1 288.3h0M542.1 286.8h0M543.1 283.9h0M544.2 287.1h0M545.2 285.3h0M546.2 286h0M547.2 284h0M548.2 287.4h0M549.3 284.4h0M550.3 283.7h0M551.4 285.3h0M552.4 283.5h0M553.5 284.7h0M554.5 282.1h0M555.6 284.5h0M556.7 283h0M557.7 282.2h0M558.8 283.4h0M559.9 283h0M561 283.2h0M562.1 281.8h0M563.2 283.9h0M564.4 282.4h0M565.5 282.2h0M566.6 282.6h0M567.8 282.8h0M568.9 283.4h0M570.1 281.5h0M571.3 284.2h0M572.5 281.5h0M573.7 280.3h0M574.9 281.9h0M576.1 281h0M577.3 281h0M578.6 279.4h0M579.8 280.8h0M581.1 278.2h0M582.4 276.9h0M583.7 278.8h0M585 276.1h0M586.3 276.3h0M587.6 275.6h0M588.5 274.8h0M589.5 274.9h0M590.4 274.4h0M591.3 274.4h0M592.2 273.6h0M593.2 272.9h0M594.1 272.8h0M595.1 273.7h0M596 272.9h0M597 271.3h0M598 272h0M599 271.5h0M600 272.8h0M601 271.3h0M602 273.1h0M603.1 270.6h0M604.1 271.3h0M605.2 271.4h0M606.3 270.6h0M607.4 271.7h0M608.4 269.4h0M609.6 271.2h0M610.7 270.2h0M611.8 269.4h0M613 271.1h0M614.2 270.6h0M615.3 270.4h0M616.5 268.4h0M617.8 268.7h0M619 268.5h0M620.3 267.9h0M621.5 267.2h0M622.8 267.1h0M624.2 267.2h0M625.5 266.8h0M626.9 265.2h0M628.2 266.3h0M629.7 265.7h0M631.1 264.6h0M632.6 264.7h0M634.1 264.7h0M635.6 264.1h0M637.2 264.5h0M638.8 264.8h0M640.4 266.2h0M642.1 266.9h0M643.8 267.5h0M645.6 267.5h0M647.4 268.1h0M648.3 267.1h0M649.3 267.8h0M650.2 266.9h0M651.2 266.9h0M652.2 267h0M653.2 267.5h0M654.2 267.9h0M655.2 267.6h0M656.2 268.2h0M657.3 267.9h0M658.4 268h0M659.5 268.5h0M660.6 268.1h0M661.7 269.2h0M662.9 268.9h0M664.1 268.4h0M665.3 269.4h0M666.5 267.9h0M667.8 269.5h0M669.1 267.6h0M670.4 270.3h0M671.8 267.7h0M673.2 266.8h0M674.6 270.1h0M676 268.2h0M677.5 270.5h0M679.1 268h0M680.7 272h0M682.3 270.8h0M684 269.4h0M685.7 274.3h0M687.5 272.9h0M689.4 276.3h0M691.3 275.5h0M693.3 281.8h0M695.4 281h0M697.6 282.2h0M699.9 287.6h0M702.3 286.3h0M704.8 290.1h0M707.5 290.8h0M710.3 293.4h0M713.4 291.5h0M716.6 289.7h0M720.1 297h0M723.9 296.1h0M728 302.1h0M732.6 303.8h0" stroke="#009DF3" stroke-opacity="0.95" stroke-width="12.3" stroke-linecap="round" fill="none"/><circle cx="187.2" cy="280.7" r="5.2" fill="#009DF3" fill-opacity="0.8" stroke="#009DF3" stroke-opacity="0.8" stroke-width="1.9"/><circle cx="219.4" cy="267" r="5.2" fill="#009DF3" fill-opacity="0.8" stroke="#009DF3" stroke-opacity="0.8" stroke-width="1.9"/><circle cx="235.5" cy="252.1" r="5.2" fill="#009DF3" fill-opacity="0.8" stroke="#009DF3" stroke-opacity="0.8" stroke-width="1.9"/><circle cx="246.5" cy="245.8" r="5.2" fill="#009DF3" fill-opacity="0.8" stroke="#009DF3" stroke-opacity="0.8" stroke-width="1.9"/><circle cx="255" cy="259.6" r="5.2" fill="#009DF3" fill-opacity="0.8" stroke="#009DF3" stroke-opacity="0.8" stroke-width="1.9"/><circle cx="262" cy="268.3" r="5.2" fill="#009DF3" fill-opacity="0.8" stroke="#009DF3" stroke-opacity="0.8" stroke-width="1.9"/><circle cx="267.9" cy="273.3" r="5.2" fill="#009DF3" fill-opacity="0.8" stroke="#009DF3" stroke-opacity="0.8" stroke-width="1.9"/><circle cx="818.5" cy="357.2" r="5.2" fill="#009DF3" fill-opacity="0.8" stroke="#009DF3" stroke-opacity="0.8" stroke-width="1.9"/><circle cx="786.3" cy="361.9" r="5.2" fill="#009DF3" fill-opacity="0.8" stroke="#009DF3" stroke-opacity="0.8" stroke-width="1.9"/><circle cx="770.2" cy="338.8" r="5.2" fill="#009DF3" fill-opacity="0.8" stroke="#009DF3" stroke-opacity="0.8" stroke-width="1.9"/><circle cx="759.2" cy="329.4" r="5.2" fill="#009DF3" fill-opacity="0.8" stroke="#009DF3" stroke-opacity="0.8" stroke-width="1.9"/><circle cx="750.7" cy="318.8" r="5.2" fill="#009DF3" fill-opacity="0.8" stroke="#009DF3" stroke-opacity="0.8" stroke-width="1.9"/><circle cx="743.7" cy="308.8" r="5.2" fill="#009DF3" fill-opacity="0.8" stroke="#009DF3" stroke-opacity="0.8" stroke-width="1.9"/><circle cx="737.8" cy="308.8" r="5.2" fill="#009DF3" fill-opacity="0.8" stroke="#009DF3" stroke-opacity="0.8" stroke-width="1.9"/><path d="M273.1 262.2h0M277.7 265.1h0M281.8 264.1h0M285.6 263.6h0M289.1 264h0M292.3 263.8h0M295.4 268.6h0M298.2 267.9h0M300.9 276.4h0M303.4 274.4h0M305.8 272.9h0M308.1 277h0M310.3 273.9h0M312.4 275.9h0M314.4 271.2h0M316.3 277.6h0M318.2 274.9h0M320 273.4h0M321.7 278.9h0M323.4 275.9h0M325 279.3h0M326.6 275.3h0M328.2 283.2h0M329.7 281h0M331.1 278.6h0M332.5 284.9h0M333.9 282.4h0M335.3 284.9h0M336.6 281.1h0M337.9 287.2h0M339.2 285h0M340.4 283.5h0M341.6 286.1h0M342.8 284.6h0M344 285.4h0M345.1 284.7h0M346.2 287.6h0M347.3 286.6h0M348.4 287.5h0M349.5 287.8h0M350.5 286.5h0M351.5 287.8h0M352.5 285.9h0M353.5 288.6h0M354.5 287.3h0M355.5 285.8h0M356.4 289.6h0M357.4 287.6h0M358.3 288.7h0M359.2 286h0M361 290.7h0M362.7 288.8h0M364.4 286.9h0M366.1 289.9h0M367.7 286.2h0M369.3 286.7h0M370.9 282.6h0M372.4 285.9h0M373.9 283.1h0M375.3 281.7h0M376.7 285.4h0M378.1 283h0M379.5 284h0M380.9 283.5h0M382.2 284.5h0M383.5 284.9h0M384.8 283.8h0M386.1 286.8h0M387.3 285.6h0M388.6 285.8h0M389.8 284.3h0M391 288.1h0M392.1 285.4h0M393.3 284h0M394.4 287.6h0M395.6 284.7h0M396.7 286.3h0M397.8 283.8h0M398.9 287h0M400 284.9h0M401 283.8h0M402.1 284.7h0M403.1 282.5h0M404.2 284.2h0M405.2 281h0M406.2 284.1h0M407.2 283.2h0M408.2 281.2h0M409.2 282.4h0M410.1 280.6h0M411.1 282.2h0M412.1 279.1h0M413 282.9h0M413.9 281.7h0M414.9 280.4h0M415.8 282.5h0M416.7 281.1h0M417.6 282h0M418.9 279.8h0M420.3 283.5h0M421.6 281.8h0M422.9 280.1h0M424.2 284h0M425.4 280.5h0M426.7 281.7h0M428 278.1h0M429.2 283.4h0M430.4 280h0M431.6 277.2h0M432.8 280.4h0M434 277h0M435.2 278.7h0M436.4 275h0M437.5 281.6h0M438.7 278.8h0M439.8 278.1h0M441 280.3h0M442.1 279.9h0M443.2 281.4h0M444.3 279.2h0M445.4 283.4h0M446.5 281.5h0M447.6 280.4h0M448.7 283.4h0M449.8 281.6h0M450.8 282.3h0M451.9 280.7h0M452.9 284.1h0M454 283.5h0M455 282.6h0M456.1 284.1h0M457.1 284h0M458.1 283.7h0M459.2 283h0M460.2 286.2h0M461.2 284.7h0M462.2 282.9h0M463.2 285.7h0M464.2 283.8h0M465.2 284.1h0M466.2 282.4h0M467.2 285h0M468.2 282.2h0M469.2 281.6h0M470.2 283.5h0M471.1 281.6h0M472.1 282.1h0M473.1 280.4h0M474.1 283.2h0M475 281.1h0M476 280.1h0M476.9 281.5h0M477.9 281h0M478.9 281.9h0M479.8 279.6h0M480.8 281.9h0M481.7 280h0M482.7 280.4h0M483.6 282.2h0M484.5 280.2h0M485.5 281.5h0M486.4 279.3h0M487.4 282h0M488.3 280.7h0M489.2 279.8h0M490.2 282h0M491.1 280.4h0M492 281.2h0M493 279.9h0M493.9 281.7h0M494.8 281.6h0M495.7 280.3h0M496.7 281.2h0M497.6 280.3h0M498.5 281.1h0M499.5 280.6h0M500.4 281.5h0M501.3 281.1h0M502.2 279.8h0M503.2 281.3h0M504.1 280.8h0M505 280.3h0M505.9 278.7h0M506.9 281.4h0M507.8 280.6h0M508.7 278.9h0M509.6 280.2h0M510.6 279.4h0M511.5 280.2h0M512.4 277.4h0M513.4 281.4h0M514.3 279.5h0M515.2 277.7h0M516.2 280.5h0M517.1 279.8h0M518 280.8h0M519 277.3h0M519.9 281.9h0M520.8 280.1h0M521.8 278.2h0M522.7 280.7h0M523.7 278.8h0M524.6 279.4h0M525.6 277.8h0M526.5 281.3h0M527.5 280h0M528.4 277.5h0M529.4 281h0M530.4 278.4h0M531.3 278.7h0M532.3 276.3h0M533.3 280.4h0M534.2 277.3h0M535.2 276.1h0M536.2 279.4h0M537.2 277.3h0M538.2 277.5h0M539.1 273.5h0M540.1 279.7h0M541.1 277h0M542.1 274.1h0M543.1 279.6h0M544.2 275.5h0M545.2 276.3h0M546.2 272.3h0M547.2 280h0M548.2 275.8h0M549.3 272h0M550.3 277.8h0M551.4 272.7h0M552.4 275.3h0M553.5 269.6h0M554.5 278.2h0M555.6 274.2h0M556.7 270.2h0M557.7 275.9h0M558.8 270.7h0M559.9 272.8h0M561 268h0M562.1 274.6h0M563.2 271.1h0M564.4 267.8h0M565.5 273.5h0M566.6 269.1h0M567.8 270.2h0M568.9 265.7h0M570.1 271.3h0M571.3 268.2h0M572.5 264.5h0M573.7 270.6h0M574.9 265.8h0M576.1 268.7h0M577.3 263.8h0M578.6 270.6h0M579.8 265.9h0M581.1 263.4h0M582.4 268.9h0M583.7 264.2h0M585 266.3h0M586.3 261.5h0M587.6 268.3h0M588.5 264.3h0M589.5 262.5h0M590.4 265.4h0M591.3 262.8h0M592.2 265.5h0M593.2 261.1h0M594.1 265.4h0M595.1 263h0M596 261.3h0M597 264h0M598 263h0M599 262.6h0M600 261.8h0M601 262.4h0M602 262.7h0M603.1 261.4h0M604.1 261.8h0M605.2 261.6h0M606.3 262.7h0M607.4 261.5h0M608.4 262.2h0M609.6 261.8h0M610.7 261.6h0M611.8 261.5h0M613 260.5h0M614.2 261.4h0M615.3 258.7h0M616.5 262.5h0M617.8 260.6h0M619 258.8h0M620.3 261.5h0M621.5 258.4h0M622.8 261.2h0M624.2 257.2h0M625.5 261.9h0M626.9 258.8h0M628.2 257.5h0M629.7 261h0M631.1 258.4h0M632.6 260.4h0M634.1 257h0M635.6 261.3h0M637.2 260.2h0M638.8 259.6h0M640.4 261h0M642.1 259.5h0M643.8 261.2h0M645.6 260h0M647.4 262.6h0M648.3 262.1h0M649.3 261.4h0M650.2 262.9h0M651.2 260.8h0M652.2 261.9h0M653.2 260.5h0M654.2 264.2h0M655.2 261.8h0M656.2 261.6h0M657.3 262.3h0M658.4 262.7h0M659.5 262.7h0M660.6 261.3h0M661.7 263.3h0M662.9 261.8h0M664.1 261.6h0M665.3 262.9h0M666.5 262.9h0M667.8 264.6h0M669.1 263.7h0M670.4 266.9h0M671.8 266.1h0M673.2 264.5h0M674.6 268h0M676 267.3h0M677.5 271.3h0M679.1 268.7h0M680.7 275.7h0M682.3 273.8h0M684 272.6h0M685.7 279.6h0M687.5 278.1h0M689.4 280.8h0M691.3 278.3h0M693.3 285h0M695.4 284.2h0M697.6 283.5h0M699.9 285.4h0M702.3 281.6h0M704.8 284.3h0M707.5 275.2h0M710.3 289.1h0M713.4 282.4h0M716.6 276.1h0M720.1 293.2h0M723.9 287.2h0M728 293.9h0M732.6 296.9h0" stroke="#E04CF0" stroke-opacity="0.95" stroke-width="12.3" stroke-linecap="round" fill="none"/><circle cx="187.2" cy="232.8" r="5.2" fill="#E04CF0" fill-opacity="0.8" stroke="#E04CF0" stroke-opacity="0.8" stroke-width="1.9"/><circle cx="219.4" cy="246.4" r="5.2" fill="#E04CF0" fill-opacity="0.8" stroke="#E04CF0" stroke-opacity="0.8" stroke-width="1.9"/><circle cx="235.5" cy="268.8" r="5.2" fill="#E04CF0" fill-opacity="0.8" stroke="#E04CF0" stroke-opacity="0.8" stroke-width="1.9"/><circle cx="246.5" cy="269.2" r="5.2" fill="#E04CF0" fill-opacity="0.8" stroke="#E04CF0" stroke-opacity="0.8" stroke-width="1.9"/><circle cx="255" cy="272.5" r="5.2" fill="#E04CF0" fill-opacity="0.8" stroke="#E04CF0" stroke-opacity="0.8" stroke-width="1.9"/><circle cx="262" cy="276.7" r="5.2" fill="#E04CF0" fill-opacity="0.8" stroke="#E04CF0" stroke-opacity="0.8" stroke-width="1.9"/><circle cx="267.9" cy="282" r="5.2" fill="#E04CF0" fill-opacity="0.8" stroke="#E04CF0" stroke-opacity="0.8" stroke-width="1.9"/><circle cx="818.5" cy="344.8" r="5.2" fill="#E04CF0" fill-opacity="0.8" stroke="#E04CF0" stroke-opacity="0.8" stroke-width="1.9"/><circle cx="786.3" cy="297.5" r="5.2" fill="#E04CF0" fill-opacity="0.8" stroke="#E04CF0" stroke-opacity="0.8" stroke-width="1.9"/><circle cx="770.2" cy="281.2" r="5.2" fill="#E04CF0" fill-opacity="0.8" stroke="#E04CF0" stroke-opacity="0.8" stroke-width="1.9"/><circle cx="759.2" cy="307.2" r="5.2" fill="#E04CF0" fill-opacity="0.8" stroke="#E04CF0" stroke-opacity="0.8" stroke-width="1.9"/><circle cx="750.7" cy="307.2" r="5.2" fill="#E04CF0" fill-opacity="0.8" stroke="#E04CF0" stroke-opacity="0.8" stroke-width="1.9"/><circle cx="743.7" cy="298.8" r="5.2" fill="#E04CF0" fill-opacity="0.8" stroke="#E04CF0" stroke-opacity="0.8" stroke-width="1.9"/><circle cx="737.8" cy="297.5" r="5.2" fill="#E04CF0" fill-opacity="0.8" stroke="#E04CF0" stroke-opacity="0.8" stroke-width="1.9"/><path d="M138.8 8.9L140.6 17.4L142.4 25.6L144.2 33.6L145.9 41.2L147.7 48.6L149.5 55.7L151.3 62.5L153 69.2L154.8 75.5L156.6 81.7L158.4 87.6L160.1 93.4L161.9 98.9L163.7 104.2L165.5 109.4L167.2 114.4L169 119.2L170.8 123.8L172.6 128.3L174.3 132.6L176.1 136.8L177.9 140.9L179.7 144.8L181.4 148.6L183.2 152.2L185 155.8L186.8 159.2L188.5 162.5L190.3 165.7L192.1 168.8L193.9 171.8L195.6 174.7L197.4 177.5L199.2 180.2L201 182.8L202.7 185.4L204.5 187.8L206.3 190.2L208.1 192.5L209.8 194.8L211.6 196.9L213.4 199L215.2 201.1L216.9 203L218.7 205L220.5 206.8L222.3 208.6L224 210.4L225.8 212.1L227.6 213.7L229.4 215.3L231.1 216.8L232.9 218.3L234.7 219.8L236.5 221.2L238.2 222.6L240 223.9L241.8 225.2L243.6 226.4L245.3 227.6L247.1 228.8L248.9 230L250.7 231.1L252.4 232.2L254.2 233.2L256 234.2L257.8 235.2L259.5 236.2L261.3 237.1L263.1 238L264.9 238.9L266.6 239.8L268.4 240.6L270.2 241.4L272 242.2L273.7 243L275.5 243.7L277.3 244.5L279.1 245.2L280.8 245.9L282.6 246.5L284.4 247.2L286.2 247.8L287.9 248.5L289.7 249.1L291.5 249.6L293.3 250.2L295 250.8L296.8 251.3L298.6 251.8L300.4 252.4L302.1 252.9L303.9 253.3L305.7 253.8L307.4 254.3L309.2 254.7L311 255.2L312.8 255.6L314.5 256L316.3 256.4L318.1 256.8L319.9 257.2L321.6 257.6L323.4 257.9L325.2 258.3L327 258.6L328.7 259L330.5 259.3L332.3 259.6L334.1 260L335.8 260.3L337.6 260.6L339.4 260.9L341.2 261.1L342.9 261.4L344.7 261.7L346.5 262L348.3 262.2L350 262.5L351.8 262.7L353.6 262.9L355.4 263.2L357.1 263.4L358.9 263.6L360.7 263.8L362.5 264.1L364.2 264.3L366 264.5L367.8 264.7L369.6 264.9L371.3 265L373.1 265.2L374.9 265.4L376.7 265.6L378.4 265.7L380.2 265.9L382 266.1L383.8 266.2L385.5 266.4L387.3 266.5L389.1 266.7L390.9 266.8L392.6 267L394.4 267.1L396.2 267.2L398 267.3L399.7 267.5L401.5 267.6L403.3 267.7L405.1 267.8L406.8 267.9L408.6 268L410.4 268.2L412.2 268.3L413.9 268.4L415.7 268.5L417.5 268.5L419.3 268.6L421 268.7L422.8 268.8L424.6 268.9L426.4 269L428.1 269.1L429.9 269.1L431.7 269.2L433.5 269.3L435.2 269.4L437 269.4L438.8 269.5L440.6 269.6L442.3 269.6L444.1 269.7L445.9 269.7L447.7 269.8L449.4 269.8L451.2 269.9L453 269.9L454.8 270L456.5 270L458.3 270.1L460.1 270.1L461.9 270.2L463.6 270.2L465.4 270.2L467.2 270.3L469 270.3L470.7 270.3L472.5 270.4L474.3 270.4L476.1 270.4L477.8 270.4L479.6 270.5L481.4 270.5L483.2 270.5L484.9 270.5L486.7 270.5L488.5 270.6L490.2 270.6L492 270.6L493.8 270.6L495.6 270.6L497.3 270.6L499.1 270.6L500.9 270.6L502.7 270.6L504.4 270.6L506.2 270.6L508 270.6L509.8 270.6L511.5 270.6L513.3 270.6L515.1 270.6L516.9 270.6L518.6 270.5L520.4 270.5L522.2 270.5L524 270.5L525.7 270.5L527.5 270.5L529.3 270.4L531.1 270.4L532.8 270.4L534.6 270.3L536.4 270.3L538.2 270.3L539.9 270.2L541.7 270.2L543.5 270.2L545.3 270.1L547 270.1L548.8 270.1L550.6 270L552.4 270L554.1 269.9L555.9 269.9L557.7 269.8L559.5 269.7L561.2 269.7L563 269.6L564.8 269.6L566.6 269.5L568.3 269.4L570.1 269.4L571.9 269.3L573.7 269.2L575.4 269.2L577.2 269.1L579 269L580.8 268.9L582.5 268.8L584.3 268.7L586.1 268.7L587.9 268.6L589.6 268.5L591.4 268.4L593.2 268.3L595 268.2L596.7 268.1L598.5 268L600.3 267.8L602.1 267.7L603.8 267.6L605.6 267.5L607.4 267.4L609.2 267.2L610.9 267.1L612.7 267L614.5 266.8L616.3 266.7L618 266.6L619.8 266.4L621.6 266.3L623.4 266.1L625.1 265.9L626.9 265.8L628.7 265.6L630.5 265.4L632.2 265.3L634 265.1L635.8 264.9L637.6 264.7L639.3 264.5L641.1 264.3L642.9 264.1L644.7 263.9L646.4 263.7L648.2 263.5L650 263.2L651.8 263L653.5 262.8L655.3 262.5L657.1 262.3L658.9 262L660.6 261.7L662.4 261.5L664.2 261.2L666 260.9L667.7 260.6L669.5 260.3L671.3 260L673 259.7L674.8 259.4L676.6 259.1L678.4 258.7L680.1 258.4L681.9 258L683.7 257.6L685.5 257.3L687.2 256.9L689 256.5L690.8 256.1L692.6 255.7L694.3 255.3L696.1 254.8L697.9 254.4L699.7 253.9L701.4 253.4L703.2 252.9L705 252.5L706.8 251.9L708.5 251.4L710.3 250.9L712.1 250.3L713.9 249.8L715.6 249.2L717.4 248.6L719.2 248L721 247.3L722.7 246.7L724.5 246L726.3 245.3L728.1 244.6L729.8 243.9L731.6 243.1L733.4 242.4L735.2 241.6L736.9 240.8L738.7 240L740.5 239.1L742.3 238.2L744 237.3L745.8 236.4L747.6 235.4L749.4 234.4L751.1 233.4L752.9 232.4L754.7 231.3L756.5 230.2L758.2 229L760 227.9L761.8 226.7L763.6 225.4L765.3 224.1L767.1 222.8L768.9 221.5L770.7 220.1L772.4 218.6L774.2 217.1L776 215.6L777.8 214L779.5 212.4L781.3 210.7L783.1 209L784.9 207.2L786.6 205.3L788.4 203.4L790.2 201.5L792 199.5L793.7 197.4L795.5 195.2L797.3 193L799.1 190.7L800.8 188.3L802.6 185.9L804.4 183.3L806.2 180.7L807.9 178L809.7 175.2L811.5 172.4L813.3 169.4L815 166.3L816.8 163.1L818.6 159.9L820.4 156.5L822.1 152.9L823.9 149.3L825.7 145.6L827.5 141.7L829.2 137.6L831 133.5L832.8 129.2L834.6 124.7L836.3 120.1L838.1 115.3L839.9 110.4L841.7 105.3L843.4 100L845.2 94.5L847 88.8L848.7 82.9L848.7 485.6L847 479.7L845.2 474L843.4 468.5L841.7 463.2L839.9 458.1L838.1 453.2L836.3 448.4L834.6 443.8L832.8 439.3L831 435L829.2 430.9L827.5 426.8L825.7 422.9L823.9 419.2L822.1 415.6L820.4 412L818.6 408.6L816.8 405.4L815 402.2L813.3 399.1L811.5 396.1L809.7 393.3L807.9 390.5L806.2 387.8L804.4 385.2L802.6 382.6L800.8 380.2L799.1 377.8L797.3 375.5L795.5 373.3L793.7 371.1L792 369L790.2 367L788.4 365.1L786.6 363.2L784.9 361.3L783.1 359.5L781.3 357.8L779.5 356.1L777.8 354.5L776 352.9L774.2 351.4L772.4 349.9L770.7 348.4L768.9 347L767.1 345.7L765.3 344.4L763.6 343.1L761.8 341.8L760 340.6L758.2 339.5L756.5 338.3L754.7 337.2L752.9 336.1L751.1 335.1L749.4 334.1L747.6 333.1L745.8 332.1L744 331.2L742.3 330.3L740.5 329.4L738.7 328.5L736.9 327.7L735.2 326.9L733.4 326.1L731.6 325.4L729.8 324.6L728.1 323.9L726.3 323.2L724.5 322.5L722.7 321.8L721 321.2L719.2 320.5L717.4 319.9L715.6 319.3L713.9 318.7L712.1 318.2L710.3 317.6L708.5 317.1L706.8 316.6L705 316L703.2 315.6L701.4 315.1L699.7 314.6L697.9 314.1L696.1 313.7L694.3 313.2L692.6 312.8L690.8 312.4L689 312L687.2 311.6L685.5 311.2L683.7 310.9L681.9 310.5L680.1 310.1L678.4 309.8L676.6 309.4L674.8 309.1L673 308.8L671.3 308.5L669.5 308.2L667.7 307.9L666 307.6L664.2 307.3L662.4 307L660.6 306.8L658.9 306.5L657.1 306.2L655.3 306L653.5 305.7L651.8 305.5L650 305.3L648.2 305L646.4 304.8L644.7 304.6L642.9 304.4L641.1 304.2L639.3 304L637.6 303.8L635.8 303.6L634 303.4L632.2 303.2L630.5 303.1L628.7 302.9L626.9 302.7L625.1 302.6L623.4 302.4L621.6 302.2L619.8 302.1L618 301.9L616.3 301.8L614.5 301.7L612.7 301.5L610.9 301.4L609.2 301.3L607.4 301.1L605.6 301L603.8 300.9L602.1 300.8L600.3 300.7L598.5 300.5L596.7 300.4L595 300.3L593.2 300.2L591.4 300.1L589.6 300L587.9 299.9L586.1 299.8L584.3 299.8L582.5 299.7L580.8 299.6L579 299.5L577.2 299.4L575.4 299.3L573.7 299.3L571.9 299.2L570.1 299.1L568.3 299.1L566.6 299L564.8 298.9L563 298.9L561.2 298.8L559.5 298.8L557.7 298.7L555.9 298.6L554.1 298.6L552.4 298.5L550.6 298.5L548.8 298.4L547 298.4L545.3 298.4L543.5 298.3L541.7 298.3L539.9 298.3L538.2 298.2L536.4 298.2L534.6 298.2L532.8 298.1L531.1 298.1L529.3 298.1L527.5 298L525.7 298L524 298L522.2 298L520.4 298L518.6 298L516.9 297.9L515.1 297.9L513.3 297.9L511.5 297.9L509.8 297.9L508 297.9L506.2 297.9L504.4 297.9L502.7 297.9L500.9 297.9L499.1 297.9L497.3 297.9L495.6 297.9L493.8 297.9L492 297.9L490.2 297.9L488.5 297.9L486.7 298L484.9 298L483.2 298L481.4 298L479.6 298L477.8 298.1L476.1 298.1L474.3 298.1L472.5 298.1L470.7 298.2L469 298.2L467.2 298.2L465.4 298.3L463.6 298.3L461.9 298.3L460.1 298.4L458.3 298.4L456.5 298.5L454.8 298.5L453 298.6L451.2 298.6L449.4 298.7L447.7 298.7L445.9 298.8L444.1 298.8L442.3 298.9L440.6 298.9L438.8 299L437 299.1L435.2 299.1L433.5 299.2L431.7 299.3L429.9 299.4L428.1 299.4L426.4 299.5L424.6 299.6L422.8 299.7L421 299.8L419.3 299.9L417.5 300L415.7 300L413.9 300.1L412.2 300.2L410.4 300.3L408.6 300.5L406.8 300.6L405.1 300.7L403.3 300.8L401.5 300.9L399.7 301L398 301.2L396.2 301.3L394.4 301.4L392.6 301.5L390.9 301.7L389.1 301.8L387.3 302L385.5 302.1L383.8 302.3L382 302.4L380.2 302.6L378.4 302.8L376.7 302.9L374.9 303.1L373.1 303.3L371.3 303.5L369.6 303.6L367.8 303.8L366 304L364.2 304.2L362.5 304.4L360.7 304.7L358.9 304.9L357.1 305.1L355.4 305.3L353.6 305.6L351.8 305.8L350 306L348.3 306.3L346.5 306.5L344.7 306.8L342.9 307.1L341.2 307.4L339.4 307.6L337.6 307.9L335.8 308.2L334.1 308.5L332.3 308.9L330.5 309.2L328.7 309.5L327 309.9L325.2 310.2L323.4 310.6L321.6 310.9L319.9 311.3L318.1 311.7L316.3 312.1L314.5 312.5L312.8 312.9L311 313.3L309.2 313.8L307.4 314.2L305.7 314.7L303.9 315.2L302.1 315.6L300.4 316.1L298.6 316.7L296.8 317.2L295 317.7L293.3 318.3L291.5 318.9L289.7 319.4L287.9 320L286.2 320.7L284.4 321.3L282.6 322L280.8 322.6L279.1 323.3L277.3 324L275.5 324.8L273.7 325.5L272 326.3L270.2 327.1L268.4 327.9L266.6 328.7L264.9 329.6L263.1 330.5L261.3 331.4L259.5 332.3L257.8 333.3L256 334.3L254.2 335.3L252.4 336.3L250.7 337.4L248.9 338.5L247.1 339.7L245.3 340.9L243.6 342.1L241.8 343.3L240 344.6L238.2 345.9L236.5 347.3L234.7 348.7L232.9 350.2L231.1 351.7L229.4 353.2L227.6 354.8L225.8 356.4L224 358.1L222.3 359.9L220.5 361.7L218.7 363.5L216.9 365.5L215.2 367.4L213.4 369.5L211.6 371.6L209.8 373.7L208.1 376L206.3 378.3L204.5 380.7L202.7 383.1L201 385.7L199.2 388.3L197.4 391L195.6 393.8L193.9 396.7L192.1 399.7L190.3 402.8L188.5 406L186.8 409.3L185 412.7L183.2 416.3L181.4 419.9L179.7 423.7L177.9 427.6L176.1 431.7L174.3 435.9L172.6 440.2L170.8 444.7L169 449.3L167.2 454.1L165.5 459.1L163.7 464.3L161.9 469.6L160.1 475.1L158.4 480.9L156.6 486.8L154.8 493L153 499.3L151.3 506L149.5 512.8L147.7 519.9L145.9 527.3L144.2 534.9L142.4 542.9L140.6 551.1L138.8 559.6Z" fill="#000000" fill-opacity="0.074"/><path d="M138.8 8.9L140.6 17.4L142.4 25.6L144.2 33.6L145.9 41.2L147.7 48.6L149.5 55.7L151.3 62.5L153 69.2L154.8 75.5L156.6 81.7L158.4 87.6L160.1 93.4L161.9 98.9L163.7 104.2L165.5 109.4L167.2 114.4L169 119.2L170.8 123.8L172.6 128.3L174.3 132.6L176.1 136.8L177.9 140.9L179.7 144.8L181.4 148.6L183.2 152.2L185 155.8L186.8 159.2L188.5 162.5L190.3 165.7L192.1 168.8L193.9 171.8L195.6 174.7L197.4 177.5L199.2 180.2L201 182.8L202.7 185.4L204.5 187.8L206.3 190.2L208.1 192.5L209.8 194.8L211.6 196.9L213.4 199L215.2 201.1L216.9 203L218.7 205L220.5 206.8L222.3 208.6L224 210.4L225.8 212.1L227.6 213.7L229.4 215.3L231.1 216.8L232.9 218.3L234.7 219.8L236.5 221.2L238.2 222.6L240 223.9L241.8 225.2L243.6 226.4L245.3 227.6L247.1 228.8L248.9 230L250.7 231.1L252.4 232.2L254.2 233.2L256 234.2L257.8 235.2L259.5 236.2L261.3 237.1L263.1 238L264.9 238.9L266.6 239.8L268.4 240.6L270.2 241.4L272 242.2L273.7 243L275.5 243.7L277.3 244.5L279.1 245.2L280.8 245.9L282.6 246.5L284.4 247.2L286.2 247.8L287.9 248.5L289.7 249.1L291.5 249.6L293.3 250.2L295 250.8L296.8 251.3L298.6 251.8L300.4 252.4L302.1 252.9L303.9 253.3L305.7 253.8L307.4 254.3L309.2 254.7L311 255.2L312.8 255.6L314.5 256L316.3 256.4L318.1 256.8L319.9 257.2L321.6 257.6L323.4 257.9L325.2 258.3L327 258.6L328.7 259L330.5 259.3L332.3 259.6L334.1 260L335.8 260.3L337.6 260.6L339.4 260.9L341.2 261.1L342.9 261.4L344.7 261.7L346.5 262L348.3 262.2L350 262.5L351.8 262.7L353.6 262.9L355.4 263.2L357.1 263.4L358.9 263.6L360.7 263.8L362.5 264.1L364.2 264.3L366 264.5L367.8 264.7L369.6 264.9L371.3 265L373.1 265.2L374.9 265.4L376.7 265.6L378.4 265.7L380.2 265.9L382 266.1L383.8 266.2L385.5 266.4L387.3 266.5L389.1 266.7L390.9 266.8L392.6 267L394.4 267.1L396.2 267.2L398 267.3L399.7 267.5L401.5 267.6L403.3 267.7L405.1 267.8L406.8 267.9L408.6 268L410.4 268.2L412.2 268.3L413.9 268.4L415.7 268.5L417.5 268.5L419.3 268.6L421 268.7L422.8 268.8L424.6 268.9L426.4 269L428.1 269.1L429.9 269.1L431.7 269.2L433.5 269.3L435.2 269.4L437 269.4L438.8 269.5L440.6 269.6L442.3 269.6L444.1 269.7L445.9 269.7L447.7 269.8L449.4 269.8L451.2 269.9L453 269.9L454.8 270L456.5 270L458.3 270.1L460.1 270.1L461.9 270.2L463.6 270.2L465.4 270.2L467.2 270.3L469 270.3L470.7 270.3L472.5 270.4L474.3 270.4L476.1 270.4L477.8 270.4L479.6 270.5L481.4 270.5L483.2 270.5L484.9 270.5L486.7 270.5L488.5 270.6L490.2 270.6L492 270.6L493.8 270.6L495.6 270.6L497.3 270.6L499.1 270.6L500.9 270.6L502.7 270.6L504.4 270.6L506.2 270.6L508 270.6L509.8 270.6L511.5 270.6L513.3 270.6L515.1 270.6L516.9 270.6L518.6 270.5L520.4 270.5L522.2 270.5L524 270.5L525.7 270.5L527.5 270.5L529.3 270.4L531.1 270.4L532.8 270.4L534.6 270.3L536.4 270.3L538.2 270.3L539.9 270.2L541.7 270.2L543.5 270.2L545.3 270.1L547 270.1L548.8 270.1L550.6 270L552.4 270L554.1 269.9L555.9 269.9L557.7 269.8L559.5 269.7L561.2 269.7L563 269.6L564.8 269.6L566.6 269.5L568.3 269.4L570.1 269.4L571.9 269.3L573.7 269.2L575.4 269.2L577.2 269.1L579 269L580.8 268.9L582.5 268.8L584.3 268.7L586.1 268.7L587.9 268.6L589.6 268.5L591.4 268.4L593.2 268.3L595 268.2L596.7 268.1L598.5 268L600.3 267.8L602.1 267.7L603.8 267.6L605.6 267.5L607.4 267.4L609.2 267.2L610.9 267.1L612.7 267L614.5 266.8L616.3 266.7L618 266.6L619.8 266.4L621.6 266.3L623.4 266.1L625.1 265.9L626.9 265.8L628.7 265.6L630.5 265.4L632.2 265.3L634 265.1L635.8 264.9L637.6 264.7L639.3 264.5L641.1 264.3L642.9 264.1L644.7 263.9L646.4 263.7L648.2 263.5L650 263.2L651.8 263L653.5 262.8L655.3 262.5L657.1 262.3L658.9 262L660.6 261.7L662.4 261.5L664.2 261.2L666 260.9L667.7 260.6L669.5 260.3L671.3 260L673 259.7L674.8 259.4L676.6 259.1L678.4 258.7L680.1 258.4L681.9 258L683.7 257.6L685.5 257.3L687.2 256.9L689 256.5L690.8 256.1L692.6 255.7L694.3 255.3L696.1 254.8L697.9 254.4L699.7 253.9L701.4 253.4L703.2 252.9L705 252.5L706.8 251.9L708.5 251.4L710.3 250.9L712.1 250.3L713.9 249.8L715.6 249.2L717.4 248.6L719.2 248L721 247.3L722.7 246.7L724.5 246L726.3 245.3L728.1 244.6L729.8 243.9L731.6 243.1L733.4 242.4L735.2 241.6L736.9 240.8L738.7 240L740.5 239.1L742.3 238.2L744 237.3L745.8 236.4L747.6 235.4L749.4 234.4L751.1 233.4L752.9 232.4L754.7 231.3L756.5 230.2L758.2 229L760 227.9L761.8 226.7L763.6 225.4L765.3 224.1L767.1 222.8L768.9 221.5L770.7 220.1L772.4 218.6L774.2 217.1L776 215.6L777.8 214L779.5 212.4L781.3 210.7L783.1 209L784.9 207.2L786.6 205.3L788.4 203.4L790.2 201.5L792 199.5L793.7 197.4L795.5 195.2L797.3 193L799.1 190.7L800.8 188.3L802.6 185.9L804.4 183.3L806.2 180.7L807.9 178L809.7 175.2L811.5 172.4L813.3 169.4L815 166.3L816.8 163.1L818.6 159.9L820.4 156.5L822.1 152.9L823.9 149.3L825.7 145.6L827.5 141.7L829.2 137.6L831 133.5L832.8 129.2L834.6 124.7L836.3 120.1L838.1 115.3L839.9 110.4L841.7 105.3L843.4 100L845.2 94.5L847 88.8L848.7 82.9" stroke="#000" stroke-width="2.6" fill="none" stroke-dasharray="11.2 11.65" stroke-dashoffset="3.2"/><path d="M138.8 559.6L140.6 551.1L142.4 542.9L144.2 534.9L145.9 527.3L147.7 519.9L149.5 512.8L151.3 506L153 499.3L154.8 493L156.6 486.8L158.4 480.9L160.1 475.1L161.9 469.6L163.7 464.3L165.5 459.1L167.2 454.1L169 449.3L170.8 444.7L172.6 440.2L174.3 435.9L176.1 431.7L177.9 427.6L179.7 423.7L181.4 419.9L183.2 416.3L185 412.7L186.8 409.3L188.5 406L190.3 402.8L192.1 399.7L193.9 396.7L195.6 393.8L197.4 391L199.2 388.3L201 385.7L202.7 383.1L204.5 380.7L206.3 378.3L208.1 376L209.8 373.7L211.6 371.6L213.4 369.5L215.2 367.4L216.9 365.5L218.7 363.5L220.5 361.7L222.3 359.9L224 358.1L225.8 356.4L227.6 354.8L229.4 353.2L231.1 351.7L232.9 350.2L234.7 348.7L236.5 347.3L238.2 345.9L240 344.6L241.8 343.3L243.6 342.1L245.3 340.9L247.1 339.7L248.9 338.5L250.7 337.4L252.4 336.3L254.2 335.3L256 334.3L257.8 333.3L259.5 332.3L261.3 331.4L263.1 330.5L264.9 329.6L266.6 328.7L268.4 327.9L270.2 327.1L272 326.3L273.7 325.5L275.5 324.8L277.3 324L279.1 323.3L280.8 322.6L282.6 322L284.4 321.3L286.2 320.7L287.9 320L289.7 319.4L291.5 318.9L293.3 318.3L295 317.7L296.8 317.2L298.6 316.7L300.4 316.1L302.1 315.6L303.9 315.2L305.7 314.7L307.4 314.2L309.2 313.8L311 313.3L312.8 312.9L314.5 312.5L316.3 312.1L318.1 311.7L319.9 311.3L321.6 310.9L323.4 310.6L325.2 310.2L327 309.9L328.7 309.5L330.5 309.2L332.3 308.9L334.1 308.5L335.8 308.2L337.6 307.9L339.4 307.6L341.2 307.4L342.9 307.1L344.7 306.8L346.5 306.5L348.3 306.3L350 306L351.8 305.8L353.6 305.6L355.4 305.3L357.1 305.1L358.9 304.9L360.7 304.7L362.5 304.4L364.2 304.2L366 304L367.8 303.8L369.6 303.6L371.3 303.5L373.1 303.3L374.9 303.1L376.7 302.9L378.4 302.8L380.2 302.6L382 302.4L383.8 302.3L385.5 302.1L387.3 302L389.1 301.8L390.9 301.7L392.6 301.5L394.4 301.4L396.2 301.3L398 301.2L399.7 301L401.5 300.9L403.3 300.8L405.1 300.7L406.8 300.6L408.6 300.5L410.4 300.3L412.2 300.2L413.9 300.1L415.7 300L417.5 300L419.3 299.9L421 299.8L422.8 299.7L424.6 299.6L426.4 299.5L428.1 299.4L429.9 299.4L431.7 299.3L433.5 299.2L435.2 299.1L437 299.1L438.8 299L440.6 298.9L442.3 298.9L444.1 298.8L445.9 298.8L447.7 298.7L449.4 298.7L451.2 298.6L453 298.6L454.8 298.5L456.5 298.5L458.3 298.4L460.1 298.4L461.9 298.3L463.6 298.3L465.4 298.3L467.2 298.2L469 298.2L470.7 298.2L472.5 298.1L474.3 298.1L476.1 298.1L477.8 298.1L479.6 298L481.4 298L483.2 298L484.9 298L486.7 298L488.5 297.9L490.2 297.9L492 297.9L493.8 297.9L495.6 297.9L497.3 297.9L499.1 297.9L500.9 297.9L502.7 297.9L504.4 297.9L506.2 297.9L508 297.9L509.8 297.9L511.5 297.9L513.3 297.9L515.1 297.9L516.9 297.9L518.6 298L520.4 298L522.2 298L524 298L525.7 298L527.5 298L529.3 298.1L531.1 298.1L532.8 298.1L534.6 298.2L536.4 298.2L538.2 298.2L539.9 298.3L541.7 298.3L543.5 298.3L545.3 298.4L547 298.4L548.8 298.4L550.6 298.5L552.4 298.5L554.1 298.6L555.9 298.6L557.7 298.7L559.5 298.8L561.2 298.8L563 298.9L564.8 298.9L566.6 299L568.3 299.1L570.1 299.1L571.9 299.2L573.7 299.3L575.4 299.3L577.2 299.4L579 299.5L580.8 299.6L582.5 299.7L584.3 299.8L586.1 299.8L587.9 299.9L589.6 300L591.4 300.1L593.2 300.2L595 300.3L596.7 300.4L598.5 300.5L600.3 300.7L602.1 300.8L603.8 300.9L605.6 301L607.4 301.1L609.2 301.3L610.9 301.4L612.7 301.5L614.5 301.7L616.3 301.8L618 301.9L619.8 302.1L621.6 302.2L623.4 302.4L625.1 302.6L626.9 302.7L628.7 302.9L630.5 303.1L632.2 303.2L634 303.4L635.8 303.6L637.6 303.8L639.3 304L641.1 304.2L642.9 304.4L644.7 304.6L646.4 304.8L648.2 305L650 305.3L651.8 305.5L653.5 305.7L655.3 306L657.1 306.2L658.9 306.5L660.6 306.8L662.4 307L664.2 307.3L666 307.6L667.7 307.9L669.5 308.2L671.3 308.5L673 308.8L674.8 309.1L676.6 309.4L678.4 309.8L680.1 310.1L681.9 310.5L683.7 310.9L685.5 311.2L687.2 311.6L689 312L690.8 312.4L692.6 312.8L694.3 313.2L696.1 313.7L697.9 314.1L699.7 314.6L701.4 315.1L703.2 315.6L705 316L706.8 316.6L708.5 317.1L710.3 317.6L712.1 318.2L713.9 318.7L715.6 319.3L717.4 319.9L719.2 320.5L721 321.2L722.7 321.8L724.5 322.5L726.3 323.2L728.1 323.9L729.8 324.6L731.6 325.4L733.4 326.1L735.2 326.9L736.9 327.7L738.7 328.5L740.5 329.4L742.3 330.3L744 331.2L745.8 332.1L747.6 333.1L749.4 334.1L751.1 335.1L752.9 336.1L754.7 337.2L756.5 338.3L758.2 339.5L760 340.6L761.8 341.8L763.6 343.1L765.3 344.4L767.1 345.7L768.9 347L770.7 348.4L772.4 349.9L774.2 351.4L776 352.9L777.8 354.5L779.5 356.1L781.3 357.8L783.1 359.5L784.9 361.3L786.6 363.2L788.4 365.1L790.2 367L792 369L793.7 371.1L795.5 373.3L797.3 375.5L799.1 377.8L800.8 380.2L802.6 382.6L804.4 385.2L806.2 387.8L807.9 390.5L809.7 393.3L811.5 396.1L813.3 399.1L815 402.2L816.8 405.4L818.6 408.6L820.4 412L822.1 415.6L823.9 419.2L825.7 422.9L827.5 426.8L829.2 430.9L831 435L832.8 439.3L834.6 443.8L836.3 448.4L838.1 453.2L839.9 458.1L841.7 463.2L843.4 468.5L845.2 474L847 479.7L848.7 485.6" stroke="#000" stroke-width="2.6" fill="none" stroke-dasharray="11.2 11.65" stroke-dashoffset="3.2"/><path d="M502.9 107V461.7M102.9 284.2H884.8" stroke="#AEAEAE" stroke-width="2.84" fill="none"/></g><rect x="900.2" y="62" width="781.7" height="45" fill="#CFCFCF"/><text x="1291.1" y="93" font-size="23.47" fill="#0D0D0D" text-anchor="middle">(65,81]</text><g clip-path="url(#cp01)"><rect x="900.2" y="107" width="781.7" height="354.7" fill="#E5E5E5"/><path d="M1006.2 107V461.7M1202 107V461.7M1397.6 107V461.7M1593.3 107V461.7M900.2 401.7H1681.9M900.2 323.4H1681.9M900.2 245.1H1681.9M900.2 166.8H1681.9" stroke="#fff" stroke-width="1.42" fill="none"/><path d="M908.4 107V461.7M1104.1 107V461.7M1299.8 107V461.7M1495.5 107V461.7M900.2 440.8H1681.9M900.2 362.5H1681.9M900.2 284.2H1681.9M900.2 206H1681.9M900.2 127.7H1681.9" stroke="#fff" stroke-width="2.84" fill="none"/><path d="M1074.6 272.3h0M1078.8 274.8h0M1082.6 278.5h0M1086.1 280.1h0M1089.3 280.1h0M1092.3 282.6h0M1095.1 283.4h0M1097.8 283.8h0M1100.3 284.6h0M1102.7 285.7h0M1105 285.2h0M1107.2 285.4h0M1109.3 285.3h0M1111.3 284.4h0M1113.3 285.7h0M1115.1 286.1h0M1116.9 286.9h0M1118.7 287h0M1120.4 287.3h0M1122 287.8h0M1123.6 287h0M1125.1 287.5h0M1126.6 288.1h0M1128.1 288.1h0M1129.5 286.7h0M1130.9 288.1h0M1132.2 287.7h0M1133.5 287.3h0M1134.8 286.9h0M1136.1 288h0M1137.3 287.1h0M1138.6 287.6h0M1139.7 286.8h0M1140.9 287.5h0M1142 287.3h0M1143.2 287.1h0M1144.3 286.9h0M1145.4 286.7h0M1146.4 288h0M1147.5 287.6h0M1148.5 286.7h0M1149.5 287.6h0M1150.5 287.9h0M1151.5 287h0M1152.4 288.1h0M1153.4 288h0M1154.3 287.5h0M1155.3 288.2h0M1156.2 287h0M1158 286.7h0M1159.7 287.2h0M1161.4 286.9h0M1163.1 288.2h0M1164.7 286.8h0M1166.3 287.2h0M1167.8 288h0M1169.3 286.7h0M1170.8 286.8h0M1172.3 287.5h0M1173.7 287.2h0M1175.1 286.7h0M1176.5 287.7h0M1177.8 288h0M1179.2 286.7h0M1180.5 286.9h0M1181.8 286.8h0M1183 287.4h0M1184.3 287.7h0M1185.5 287.2h0M1186.7 288.4h0M1187.9 287.6h0M1189.1 289.1h0M1190.2 288.4h0M1191.4 288.5h0M1192.5 288.9h0M1193.6 289.8h0M1194.8 290.7h0M1195.8 289.7h0M1196.9 291.1h0M1198 291h0M1199 291.5h0M1200.1 291.8h0M1201.1 292.1h0M1202.1 293h0M1203.1 292h0M1204.1 293.3h0M1205.1 293.1h0M1206.1 293.9h0M1207.1 293.5h0M1208.1 295.6h0M1209 295.2h0M1209.9 293.6h0M1210.9 295.3h0M1211.8 295.5h0M1212.7 296.5h0M1213.6 294.4h0M1214.6 298.1h0M1215.9 297.3h0M1217.2 295.1h0M1218.5 296.7h0M1219.8 295.5h0M1221.1 297.3h0M1222.4 296h0M1223.7 296.6h0M1224.9 296.8h0M1226.1 295.2h0M1227.4 296.2h0M1228.6 295.2h0M1229.8 295.1h0M1231 293.3h0M1232.1 293.4h0M1233.3 293.9h0M1234.5 293.1h0M1235.6 292.4h0M1236.8 292h0M1237.9 291.8h0M1239 290.1h0M1240.2 290h0M1241.3 290.4h0M1242.4 289.8h0M1243.5 289.1h0M1244.6 288.2h0M1245.6 287.7h0M1246.7 287.6h0M1247.8 287.7h0M1248.8 287.3h0M1249.9 287.5h0M1250.9 287.9h0M1252 287.1h0M1253 286.6h0M1254.1 287.5h0M1255.1 287.5h0M1256.1 286.7h0M1257.1 287.3h0M1258.2 286.4h0M1259.2 285.8h0M1260.2 286.4h0M1261.2 286.9h0M1262.2 286.5h0M1263.2 285.6h0M1264.2 285.3h0M1265.2 286.6h0M1266.1 286h0M1267.1 285.9h0M1268.1 286h0M1269.1 286.2h0M1270 285.9h0M1271 285.4h0M1272 284.9h0M1272.9 284.7h0M1273.9 285.3h0M1274.9 284.7h0M1275.8 285.9h0M1276.8 284.9h0M1277.7 285.4h0M1278.7 284.3h0M1279.6 284.2h0M1280.5 285.5h0M1281.5 284.5h0M1282.4 284.7h0M1283.4 284.8h0M1284.3 284.1h0M1285.2 284.8h0M1286.2 284.9h0M1287.1 284.5h0M1288 284.1h0M1289 284.6h0M1289.9 284h0M1290.8 283.9h0M1291.8 283.9h0M1292.7 283.8h0M1293.6 284.7h0M1294.6 283.7h0M1295.5 284.1h0M1296.4 283.1h0M1297.3 282.5h0M1298.3 283.9h0M1299.2 282.9h0M1300.1 283.5h0M1301 282.4h0M1302 284.3h0M1302.9 282.7h0M1303.8 283.1h0M1304.7 283.4h0M1305.7 283.3h0M1306.6 284h0M1307.5 282.4h0M1308.4 282.8h0M1309.4 282.8h0M1310.3 283.1h0M1311.2 283.1h0M1312.2 282.7h0M1313.1 282.1h0M1314 281.4h0M1315 282.3h0M1315.9 282.8h0M1316.9 281.8h0M1317.8 283.3h0M1318.7 282.3h0M1319.7 281.7h0M1320.6 282.4h0M1321.6 282.8h0M1322.5 281.3h0M1323.5 281h0M1324.4 282.8h0M1325.4 282.3h0M1326.3 282.3h0M1327.3 280.6h0M1328.3 281.9h0M1329.2 281.8h0M1330.2 281.8h0M1331.2 282.1h0M1332.2 281.3h0M1333.1 281.2h0M1334.1 280.8h0M1335.1 281.6h0M1336.1 280.8h0M1337.1 280.2h0M1338.1 280.7h0M1339.1 280.8h0M1340.1 281.6h0M1341.1 279.7h0M1342.1 282.1h0M1343.1 281.1h0M1344.2 280.6h0M1345.2 280.7h0M1346.2 280.8h0M1347.3 280.8h0M1348.3 279.8h0M1349.4 280.1h0M1350.4 279.6h0M1351.5 280h0M1352.5 279.8h0M1353.6 280.5h0M1354.7 279.5h0M1355.8 280.1h0M1356.9 280.9h0M1358 280.4h0M1359.1 280.1h0M1360.2 280h0M1361.3 280.5h0M1362.4 280.4h0M1363.6 280.6h0M1364.7 281.1h0M1365.9 280h0M1367.1 280.5h0M1368.2 281.5h0M1369.4 281.3h0M1370.6 281.9h0M1371.8 281.2h0M1373.1 281.7h0M1374.3 280.7h0M1375.5 280.6h0M1376.8 282.1h0M1378 281.4h0M1379.3 281.4h0M1380.6 280.5h0M1381.9 282.8h0M1383.3 281.9h0M1384.6 281.7h0M1385.5 282.6h0M1386.4 281.7h0M1387.3 281.9h0M1388.2 282.2h0M1389.2 283h0M1390.1 281.8h0M1391.1 282.7h0M1392 283.5h0M1393 282.4h0M1394 282.1h0M1395 282.4h0M1396 282.5h0M1397 283.2h0M1398 282.5h0M1399 283.6h0M1400 283.2h0M1401.1 283.9h0M1402.1 283.3h0M1403.2 284h0M1404.3 283.6h0M1405.4 283.2h0M1406.5 283.9h0M1407.6 283.5h0M1408.8 283.6h0M1409.9 282.9h0M1411.1 283.7h0M1412.3 284.1h0M1413.5 283.8h0M1414.7 284.1h0M1415.9 283h0M1417.2 284.3h0M1418.5 283.5h0M1419.8 285.5h0M1421.1 284.3h0M1422.4 284.3h0M1423.8 284.5h0M1425.2 285.3h0M1426.6 284.3h0M1428.1 285.4h0M1429.5 286h0M1431 285.3h0M1432.6 285.2h0M1434.1 285.3h0M1435.7 285.1h0M1437.4 286.5h0M1439 285.8h0M1440.8 286.8h0M1442.5 286.3h0M1444.3 286.6h0M1445.3 287h0M1446.2 287.5h0M1447.2 287.8h0M1448.1 287.5h0M1449.1 287.6h0M1450.1 288.9h0M1451.1 289.2h0M1452.1 288.7h0M1453.2 289.4h0M1454.2 289h0M1455.3 289.4h0M1456.4 291.2h0M1457.6 290.2h0M1458.7 290.9h0M1459.9 291.1h0M1461 291.3h0M1462.3 292.6h0M1463.5 293.4h0M1464.8 294.1h0M1466.1 293h0M1467.4 293.7h0M1468.7 293.6h0M1470.1 294.9h0M1471.5 294.4h0M1473 294.9h0M1474.5 296.1h0M1476 296.9h0M1477.6 296h0M1479.2 296.6h0M1480.9 296.8h0M1482.7 297.2h0M1484.5 297.4h0M1486.3 297h0M1488.3 297.3h0M1490.3 298.8h0M1492.4 298.9h0M1494.6 299.4h0M1496.9 300.5h0M1499.3 301.9h0M1501.8 303.7h0M1504.5 303.4h0M1507.3 303.6h0M1510.3 304.9h0M1513.5 305.3h0M1517 306.2h0M1520.8 307.2h0M1525 308h0M1529.6 308.4h0" stroke="#F65E54" stroke-opacity="0.95" stroke-width="12.3" stroke-linecap="round" fill="none"/><circle cx="984.2" cy="262.5" r="5.2" fill="#F65E54" fill-opacity="0.8" stroke="#F65E54" stroke-opacity="0.8" stroke-width="1.9"/><circle cx="1016.4" cy="273.8" r="5.2" fill="#F65E54" fill-opacity="0.8" stroke="#F65E54" stroke-opacity="0.8" stroke-width="1.9"/><circle cx="1032.4" cy="236.9" r="5.2" fill="#F65E54" fill-opacity="0.8" stroke="#F65E54" stroke-opacity="0.8" stroke-width="1.9"/><circle cx="1043.5" cy="253.8" r="5.2" fill="#F65E54" fill-opacity="0.8" stroke="#F65E54" stroke-opacity="0.8" stroke-width="1.9"/><circle cx="1052" cy="263.8" r="5.2" fill="#F65E54" fill-opacity="0.8" stroke="#F65E54" stroke-opacity="0.8" stroke-width="1.9"/><circle cx="1058.9" cy="266" r="5.2" fill="#F65E54" fill-opacity="0.8" stroke="#F65E54" stroke-opacity="0.8" stroke-width="1.9"/><circle cx="1064.9" cy="268" r="5.2" fill="#F65E54" fill-opacity="0.8" stroke="#F65E54" stroke-opacity="0.8" stroke-width="1.9"/><circle cx="1070" cy="270" r="5.2" fill="#F65E54" fill-opacity="0.8" stroke="#F65E54" stroke-opacity="0.8" stroke-width="1.9"/><circle cx="1615.4" cy="383" r="5.2" fill="#F65E54" fill-opacity="0.8" stroke="#F65E54" stroke-opacity="0.8" stroke-width="1.9"/><circle cx="1583.2" cy="351.2" r="5.2" fill="#F65E54" fill-opacity="0.8" stroke="#F65E54" stroke-opacity="0.8" stroke-width="1.9"/><circle cx="1567.2" cy="330" r="5.2" fill="#F65E54" fill-opacity="0.8" stroke="#F65E54" stroke-opacity="0.8" stroke-width="1.9"/><circle cx="1556.1" cy="317.5" r="5.2" fill="#F65E54" fill-opacity="0.8" stroke="#F65E54" stroke-opacity="0.8" stroke-width="1.9"/><circle cx="1547.6" cy="315" r="5.2" fill="#F65E54" fill-opacity="0.8" stroke="#F65E54" stroke-opacity="0.8" stroke-width="1.9"/><circle cx="1540.7" cy="305.6" r="5.2" fill="#F65E54" fill-opacity="0.8" stroke="#F65E54" stroke-opacity="0.8" stroke-width="1.9"/><circle cx="1534.7" cy="312" r="5.2" fill="#F65E54" fill-opacity="0.8" stroke="#F65E54" stroke-opacity="0.8" stroke-width="1.9"/><path d="M1074.6 271.5h0M1078.8 275.8h0M1082.6 278.4h0M1086.1 278h0M1089.3 280.6h0M1092.3 280.8h0M1095.1 281.6h0M1097.8 281h0M1100.3 281.9h0M1102.7 283.1h0M1105 283.9h0M1107.2 284.3h0M1109.3 284.6h0M1111.3 285.3h0M1113.3 285.1h0M1115.1 286.6h0M1116.9 286.3h0M1118.7 286.8h0M1120.4 286.5h0M1122 288h0M1123.6 287.7h0M1125.1 287.8h0M1126.6 287.8h0M1128.1 287.5h0M1129.5 288.2h0M1130.9 287.4h0M1132.2 287.2h0M1133.5 288h0M1134.8 287.7h0M1136.1 287.7h0M1137.3 287.8h0M1138.6 286.8h0M1139.7 286.9h0M1140.9 288h0M1142 287.5h0M1143.2 287h0M1144.3 287.3h0M1145.4 287.6h0M1146.4 288.1h0M1147.5 288.4h0M1148.5 288.5h0M1149.5 288.4h0M1150.5 287.4h0M1151.5 287.7h0M1152.4 289h0M1153.4 288.4h0M1154.3 288.7h0M1155.3 288.5h0M1156.2 288.8h0M1158 289.6h0M1159.7 288.4h0M1161.4 289.4h0M1163.1 288.9h0M1164.7 289.6h0M1166.3 290h0M1167.8 289.9h0M1169.3 289.7h0M1170.8 289.2h0M1172.3 289.9h0M1173.7 288.8h0M1175.1 289.9h0M1176.5 288.8h0M1177.8 290h0M1179.2 289.8h0M1180.5 290.1h0M1181.8 288.9h0M1183 289.9h0M1184.3 289.3h0M1185.5 290h0M1186.7 289.8h0M1187.9 288.9h0M1189.1 289.2h0M1190.2 288.7h0M1191.4 288.7h0M1192.5 289.1h0M1193.6 288.2h0M1194.8 288.4h0M1195.8 288.4h0M1196.9 288.7h0M1198 288.3h0M1199 287.9h0M1200.1 289.2h0M1201.1 288.1h0M1202.1 288.3h0M1203.1 288.8h0M1204.1 288h0M1205.1 288.3h0M1206.1 287.9h0M1207.1 288.4h0M1208.1 288.6h0M1209 288.7h0M1209.9 288.4h0M1210.9 288h0M1211.8 288.1h0M1212.7 287.9h0M1213.6 287.4h0M1214.6 287.7h0M1215.9 287.2h0M1217.2 288.1h0M1218.5 288.1h0M1219.8 286.6h0M1221.1 286.5h0M1222.4 287.3h0M1223.7 287h0M1224.9 287.1h0M1226.1 286.1h0M1227.4 287.2h0M1228.6 286.8h0M1229.8 287h0M1231 286.7h0M1232.1 286.1h0M1233.3 286.2h0M1234.5 286.7h0M1235.6 287h0M1236.8 286.8h0M1237.9 285.6h0M1239 285.7h0M1240.2 285.5h0M1241.3 286.5h0M1242.4 286.3h0M1243.5 286.3h0M1244.6 285.5h0M1245.6 286h0M1246.7 285.9h0M1247.8 285.7h0M1248.8 285.5h0M1249.9 284.4h0M1250.9 284h0M1252 284.7h0M1253 283.7h0M1254.1 284.4h0M1255.1 283h0M1256.1 283.6h0M1257.1 283.5h0M1258.2 283.1h0M1259.2 282.5h0M1260.2 281.8h0M1261.2 282.3h0M1262.2 282.3h0M1263.2 281.2h0M1264.2 281.5h0M1265.2 281.4h0M1266.1 281.5h0M1267.1 282h0M1268.1 280.7h0M1269.1 281.1h0M1270 280.5h0M1271 280.1h0M1272 280.4h0M1272.9 280.5h0M1273.9 280.3h0M1274.9 281.5h0M1275.8 281h0M1276.8 281h0M1277.7 281.1h0M1278.7 280.4h0M1279.6 281.6h0M1280.5 281h0M1281.5 281.2h0M1282.4 282h0M1283.4 280.9h0M1284.3 282h0M1285.2 280.5h0M1286.2 282h0M1287.1 281.4h0M1288 280.7h0M1289 281.8h0M1289.9 282.5h0M1290.8 282.6h0M1291.8 280.8h0M1292.7 283.2h0M1293.6 281.5h0M1294.6 281.3h0M1295.5 281.7h0M1296.4 282.6h0M1297.3 281.7h0M1298.3 282.2h0M1299.2 282.5h0M1300.1 281.5h0M1301 280.9h0M1302 282.9h0M1302.9 281.7h0M1303.8 282h0M1304.7 281.8h0M1305.7 281.9h0M1306.6 282.5h0M1307.5 281.5h0M1308.4 282.9h0M1309.4 282.1h0M1310.3 282.9h0M1311.2 281.9h0M1312.2 282.5h0M1313.1 281.8h0M1314 281.4h0M1315 283h0M1315.9 281.4h0M1316.9 281.9h0M1317.8 281.5h0M1318.7 282.9h0M1319.7 281.7h0M1320.6 282.2h0M1321.6 282.4h0M1322.5 282.4h0M1323.5 282.8h0M1324.4 281h0M1325.4 282.3h0M1326.3 282.3h0M1327.3 281.1h0M1328.3 282h0M1329.2 281.1h0M1330.2 280.5h0M1331.2 279.9h0M1332.2 281.7h0M1333.1 281.3h0M1334.1 280.6h0M1335.1 280.2h0M1336.1 280.8h0M1337.1 280.8h0M1338.1 279.1h0M1339.1 280.8h0M1340.1 280h0M1341.1 280.1h0M1342.1 280.1h0M1343.1 279.1h0M1344.2 279.2h0M1345.2 279h0M1346.2 279.9h0M1347.3 278.8h0M1348.3 278.5h0M1349.4 278.5h0M1350.4 278.8h0M1351.5 278.2h0M1352.5 277.6h0M1353.6 278.3h0M1354.7 277.4h0M1355.8 277.1h0M1356.9 278.5h0M1358 278.4h0M1359.1 277.9h0M1360.2 276.8h0M1361.3 278.6h0M1362.4 277.8h0M1363.6 277.6h0M1364.7 277.7h0M1365.9 277.8h0M1367.1 277.4h0M1368.2 277.8h0M1369.4 278.9h0M1370.6 277.9h0M1371.8 278.3h0M1373.1 277.9h0M1374.3 277.9h0M1375.5 278.3h0M1376.8 276.8h0M1378 277.8h0M1379.3 278.3h0M1380.6 278.1h0M1381.9 278.4h0M1383.3 278.4h0M1384.6 278h0M1385.5 277.6h0M1386.4 279.1h0M1387.3 278.8h0M1388.2 278.1h0M1389.2 279.2h0M1390.1 277.9h0M1391.1 278.6h0M1392 277.9h0M1393 279.8h0M1394 279.3h0M1395 278.7h0M1396 279.7h0M1397 279.9h0M1398 280.4h0M1399 279h0M1400 280.5h0M1401.1 280h0M1402.1 279h0M1403.2 281.2h0M1404.3 279.9h0M1405.4 281.4h0M1406.5 280.9h0M1407.6 281.5h0M1408.8 281.4h0M1409.9 281.5h0M1411.1 281.2h0M1412.3 280.9h0M1413.5 281.7h0M1414.7 280.6h0M1415.9 282.4h0M1417.2 281.9h0M1418.5 282.5h0M1419.8 281.9h0M1421.1 282.2h0M1422.4 283.1h0M1423.8 281.8h0M1425.2 281.9h0M1426.6 283.3h0M1428.1 283.5h0M1429.5 282.8h0M1431 283.3h0M1432.6 284h0M1434.1 284.2h0M1435.7 283.9h0M1437.4 284.5h0M1439 283.6h0M1440.8 285.3h0M1442.5 285h0M1444.3 286.6h0M1445.3 286.4h0M1446.2 286.7h0M1447.2 286.8h0M1448.1 286.5h0M1449.1 288h0M1450.1 288.3h0M1451.1 288.4h0M1452.1 289.5h0M1453.2 289.8h0M1454.2 289.4h0M1455.3 291h0M1456.4 290.2h0M1457.6 291.6h0M1458.7 292.1h0M1459.9 292.2h0M1461 292.2h0M1462.3 294.4h0M1463.5 293.5h0M1464.8 294.6h0M1466.1 293.8h0M1467.4 295.9h0M1468.7 295.5h0M1470.1 295.3h0M1471.5 295.5h0M1473 295.8h0M1474.5 295.7h0M1476 297h0M1477.6 296.2h0M1479.2 297.1h0M1480.9 297.9h0M1482.7 299.5h0M1484.5 300.1h0M1486.3 301.8h0M1488.3 302.8h0M1490.3 302.5h0M1492.4 303h0M1494.6 304.4h0M1496.9 305.1h0M1499.3 304.8h0M1501.8 305.8h0M1504.5 306.8h0M1507.3 306.9h0M1510.3 306.8h0M1513.5 307.8h0M1517 309.2h0M1520.8 309.8h0M1525 309.3h0M1529.6 310.7h0" stroke="#8F9100" stroke-opacity="0.95" stroke-width="12.3" stroke-linecap="round" fill="none"/><circle cx="984.2" cy="268.8" r="5.2" fill="#8F9100" fill-opacity="0.8" stroke="#8F9100" stroke-opacity="0.8" stroke-width="1.9"/><circle cx="1016.4" cy="272" r="5.2" fill="#8F9100" fill-opacity="0.8" stroke="#8F9100" stroke-opacity="0.8" stroke-width="1.9"/><circle cx="1032.4" cy="243.1" r="5.2" fill="#8F9100" fill-opacity="0.8" stroke="#8F9100" stroke-opacity="0.8" stroke-width="1.9"/><circle cx="1043.5" cy="256.9" r="5.2" fill="#8F9100" fill-opacity="0.8" stroke="#8F9100" stroke-opacity="0.8" stroke-width="1.9"/><circle cx="1052" cy="267.5" r="5.2" fill="#8F9100" fill-opacity="0.8" stroke="#8F9100" stroke-opacity="0.8" stroke-width="1.9"/><circle cx="1058.9" cy="263.8" r="5.2" fill="#8F9100" fill-opacity="0.8" stroke="#8F9100" stroke-opacity="0.8" stroke-width="1.9"/><circle cx="1064.9" cy="268" r="5.2" fill="#8F9100" fill-opacity="0.8" stroke="#8F9100" stroke-opacity="0.8" stroke-width="1.9"/><circle cx="1070" cy="268.8" r="5.2" fill="#8F9100" fill-opacity="0.8" stroke="#8F9100" stroke-opacity="0.8" stroke-width="1.9"/><circle cx="1615.4" cy="381.9" r="5.2" fill="#8F9100" fill-opacity="0.8" stroke="#8F9100" stroke-opacity="0.8" stroke-width="1.9"/><circle cx="1583.2" cy="340" r="5.2" fill="#8F9100" fill-opacity="0.8" stroke="#8F9100" stroke-opacity="0.8" stroke-width="1.9"/><circle cx="1567.2" cy="326.9" r="5.2" fill="#8F9100" fill-opacity="0.8" stroke="#8F9100" stroke-opacity="0.8" stroke-width="1.9"/><circle cx="1556.1" cy="310" r="5.2" fill="#8F9100" fill-opacity="0.8" stroke="#8F9100" stroke-opacity="0.8" stroke-width="1.9"/><circle cx="1547.6" cy="321.2" r="5.2" fill="#8F9100" fill-opacity="0.8" stroke="#8F9100" stroke-opacity="0.8" stroke-width="1.9"/><circle cx="1540.7" cy="315" r="5.2" fill="#8F9100" fill-opacity="0.8" stroke="#8F9100" stroke-opacity="0.8" stroke-width="1.9"/><circle cx="1534.7" cy="312" r="5.2" fill="#8F9100" fill-opacity="0.8" stroke="#8F9100" stroke-opacity="0.8" stroke-width="1.9"/><path d="M1074.6 280.8h0M1078.8 285.3h0M1082.6 288.3h0M1086.1 291.3h0M1089.3 294.2h0M1092.3 295.9h0M1095.1 297.4h0M1097.8 297.8h0M1100.3 301.1h0M1102.7 299.2h0M1105 299.1h0M1107.2 298.3h0M1109.3 297.3h0M1111.3 295.4h0M1113.3 294.9h0M1115.1 291.7h0M1116.9 291h0M1118.7 288.5h0M1120.4 286.7h0M1122 285.7h0M1123.6 284.1h0M1125.1 284.7h0M1126.6 284.1h0M1128.1 282.2h0M1129.5 283.6h0M1130.9 283h0M1132.2 280.7h0M1133.5 282.6h0M1134.8 281.1h0M1136.1 280.7h0M1137.3 279.2h0M1138.6 281h0M1139.7 279.4h0M1140.9 278.6h0M1142 280.4h0M1143.2 277.7h0M1144.3 278.5h0M1145.4 276.2h0M1146.4 280h0M1147.5 278.4h0M1148.5 278.1h0M1149.5 280.1h0M1150.5 277.7h0M1151.5 279.5h0M1152.4 277.9h0M1153.4 280.9h0M1154.3 279.9h0M1155.3 278.4h0M1156.2 281h0M1158 280.8h0M1159.7 282.9h0M1161.4 283.4h0M1163.1 284.9h0M1164.7 285.4h0M1166.3 285.7h0M1167.8 285.4h0M1169.3 284.8h0M1170.8 285.7h0M1172.3 285.1h0M1173.7 284.8h0M1175.1 285.6h0M1176.5 285h0M1177.8 286.2h0M1179.2 286.1h0M1180.5 285.2h0M1181.8 286.2h0M1183 284.9h0M1184.3 285.7h0M1185.5 284.9h0M1186.7 284.2h0M1187.9 285h0M1189.1 283.7h0M1190.2 284.8h0M1191.4 283.1h0M1192.5 283.9h0M1193.6 283.8h0M1194.8 283.5h0M1195.8 282.2h0M1196.9 283.3h0M1198 283.3h0M1199 283.1h0M1200.1 283.3h0M1201.1 282.8h0M1202.1 281.7h0M1203.1 282.9h0M1204.1 282.5h0M1205.1 282.2h0M1206.1 281.8h0M1207.1 283.3h0M1208.1 282.5h0M1209 283h0M1209.9 284h0M1210.9 283.7h0M1211.8 283.4h0M1212.7 284.1h0M1213.6 285.4h0M1214.6 284.8h0M1215.9 285h0M1217.2 285h0M1218.5 285.6h0M1219.8 284.8h0M1221.1 285.9h0M1222.4 284.9h0M1223.7 285.9h0M1224.9 285.5h0M1226.1 286.1h0M1227.4 285.8h0M1228.6 284.9h0M1229.8 285.4h0M1231 285.1h0M1232.1 285.4h0M1233.3 284.9h0M1234.5 284.7h0M1235.6 286.1h0M1236.8 285.5h0M1237.9 285.6h0M1239 285.8h0M1240.2 286h0M1241.3 284.8h0M1242.4 285.1h0M1243.5 284.8h0M1244.6 285.4h0M1245.6 285h0M1246.7 284.7h0M1247.8 285.6h0M1248.8 285.8h0M1249.9 284.4h0M1250.9 284.4h0M1252 285.6h0M1253 283.9h0M1254.1 283.7h0M1255.1 284.2h0M1256.1 284.2h0M1257.1 283.2h0M1258.2 284.3h0M1259.2 283h0M1260.2 283.6h0M1261.2 283.1h0M1262.2 283.7h0M1263.2 284.2h0M1264.2 282.7h0M1265.2 283.8h0M1266.1 283.2h0M1267.1 283.2h0M1268.1 284.1h0M1269.1 283.8h0M1270 284h0M1271 283.7h0M1272 283.8h0M1272.9 283.1h0M1273.9 283.4h0M1274.9 282.3h0M1275.8 281.6h0M1276.8 282.4h0M1277.7 281h0M1278.7 280.9h0M1279.6 281.9h0M1280.5 281.3h0M1281.5 280.9h0M1282.4 280h0M1283.4 280.3h0M1284.3 279.2h0M1285.2 279.8h0M1286.2 279.9h0M1287.1 278.8h0M1288 279h0M1289 279h0M1289.9 277.8h0M1290.8 277.7h0M1291.8 276.9h0M1292.7 278h0M1293.6 276.8h0M1294.6 275.1h0M1295.5 277.6h0M1296.4 275.4h0M1297.3 274.9h0M1298.3 273.5h0M1299.2 275h0M1300.1 274.6h0M1301 273.5h0M1302 273.5h0M1302.9 273.7h0M1303.8 273.5h0M1304.7 273.1h0M1305.7 275.1h0M1306.6 273.9h0M1307.5 273.3h0M1308.4 274.8h0M1309.4 273h0M1310.3 273.6h0M1311.2 273h0M1312.2 274.8h0M1313.1 274.2h0M1314 273.6h0M1315 274.1h0M1315.9 274.7h0M1316.9 273.8h0M1317.8 273.4h0M1318.7 275.3h0M1319.7 274h0M1320.6 274.4h0M1321.6 275.1h0M1322.5 274.2h0M1323.5 274.4h0M1324.4 273.3h0M1325.4 273.5h0M1326.3 273.4h0M1327.3 273.7h0M1328.3 273.4h0M1329.2 273.1h0M1330.2 273.1h0M1331.2 272.1h0M1332.2 272.8h0M1333.1 272.3h0M1334.1 272.2h0M1335.1 272.2h0M1336.1 271.2h0M1337.1 273h0M1338.1 271.7h0M1339.1 272.2h0M1340.1 271.7h0M1341.1 272.5h0M1342.1 272.6h0M1343.1 273.1h0M1344.2 272h0M1345.2 271.9h0M1346.2 271.6h0M1347.3 271.3h0M1348.3 271.6h0M1349.4 271.7h0M1350.4 271.1h0M1351.5 271.8h0M1352.5 271.1h0M1353.6 271.1h0M1354.7 269.5h0M1355.8 269.4h0M1356.9 269.6h0M1358 268.2h0M1359.1 268.5h0M1360.2 267.2h0M1361.3 267.8h0M1362.4 266.3h0M1363.6 265.8h0M1364.7 266.5h0M1365.9 265.6h0M1367.1 266h0M1368.2 263.9h0M1369.4 265.1h0M1370.6 264h0M1371.8 263.6h0M1373.1 264.4h0M1374.3 263.6h0M1375.5 264h0M1376.8 263.6h0M1378 265.7h0M1379.3 265.3h0M1380.6 266.4h0M1381.9 266.6h0M1383.3 267.4h0M1384.6 267.9h0M1385.5 268.2h0M1386.4 268.1h0M1387.3 269.3h0M1388.2 268.1h0M1389.2 268.7h0M1390.1 268.5h0M1391.1 269.3h0M1392 268.5h0M1393 270.5h0M1394 268.9h0M1395 269.7h0M1396 270.2h0M1397 269.4h0M1398 270.6h0M1399 270.9h0M1400 271.3h0M1401.1 271.3h0M1402.1 271.6h0M1403.2 271.4h0M1404.3 272.5h0M1405.4 271.6h0M1406.5 273.1h0M1407.6 272.9h0M1408.8 272.9h0M1409.9 273.2h0M1411.1 274.7h0M1412.3 274.4h0M1413.5 275.1h0M1414.7 273.5h0M1415.9 276.4h0M1417.2 275.4h0M1418.5 274.5h0M1419.8 277.3h0M1421.1 276.3h0M1422.4 276.4h0M1423.8 275.6h0M1425.2 279.1h0M1426.6 276.6h0M1428.1 277h0M1429.5 278.3h0M1431 278.8h0M1432.6 280h0M1434.1 281.6h0M1435.7 282.5h0M1437.4 284.4h0M1439 285h0M1440.8 285h0M1442.5 285.1h0M1444.3 285.6h0M1445.3 286.8h0M1446.2 286.9h0M1447.2 286.4h0M1448.1 288.5h0M1449.1 290.8h0M1450.1 295.2h0M1451.1 304.7h0M1452.1 305.6h0M1453.2 303.4h0M1454.2 308.5h0M1455.3 304.3h0M1456.4 306.5h0M1457.6 303.6h0M1458.7 307.3h0M1459.9 305h0M1461 304.1h0M1462.3 306.5h0M1463.5 305.7h0M1464.8 306.7h0M1466.1 305.8h0M1467.4 306.3h0M1468.7 306.6h0M1470.1 306.2h0M1471.5 306.9h0M1473 306.1h0M1474.5 306.7h0M1476 307.6h0M1477.6 307.5h0M1479.2 307h0M1480.9 307.9h0M1482.7 308.2h0M1484.5 308h0M1486.3 308.2h0M1488.3 307.6h0M1490.3 307.1h0M1492.4 306.6h0M1494.6 306.8h0M1496.9 307.9h0M1499.3 306.1h0M1501.8 310h0M1504.5 309.1h0M1507.3 307.3h0M1510.3 310.7h0M1513.5 309.3h0M1517 310.9h0M1520.8 310.2h0M1525 316.9h0M1529.6 317h0" stroke="#00AF65" stroke-opacity="0.95" stroke-width="12.3" stroke-linecap="round" fill="none"/><circle cx="984.2" cy="335" r="5.2" fill="#00AF65" fill-opacity="0.8" stroke="#00AF65" stroke-opacity="0.8" stroke-width="1.9"/><circle cx="1016.4" cy="267.5" r="5.2" fill="#00AF65" fill-opacity="0.8" stroke="#00AF65" stroke-opacity="0.8" stroke-width="1.9"/><circle cx="1032.4" cy="277.5" r="5.2" fill="#00AF65" fill-opacity="0.8" stroke="#00AF65" stroke-opacity="0.8" stroke-width="1.9"/><circle cx="1043.5" cy="290" r="5.2" fill="#00AF65" fill-opacity="0.8" stroke="#00AF65" stroke-opacity="0.8" stroke-width="1.9"/><circle cx="1052" cy="292.5" r="5.2" fill="#00AF65" fill-opacity="0.8" stroke="#00AF65" stroke-opacity="0.8" stroke-width="1.9"/><circle cx="1058.9" cy="285" r="5.2" fill="#00AF65" fill-opacity="0.8" stroke="#00AF65" stroke-opacity="0.8" stroke-width="1.9"/><circle cx="1064.9" cy="278.8" r="5.2" fill="#00AF65" fill-opacity="0.8" stroke="#00AF65" stroke-opacity="0.8" stroke-width="1.9"/><circle cx="1070" cy="280" r="5.2" fill="#00AF65" fill-opacity="0.8" stroke="#00AF65" stroke-opacity="0.8" stroke-width="1.9"/><circle cx="1615.4" cy="327.5" r="5.2" fill="#00AF65" fill-opacity="0.8" stroke="#00AF65" stroke-opacity="0.8" stroke-width="1.9"/><circle cx="1583.2" cy="343.8" r="5.2" fill="#00AF65" fill-opacity="0.8" stroke="#00AF65" stroke-opacity="0.8" stroke-width="1.9"/><circle cx="1567.2" cy="340.6" r="5.2" fill="#00AF65" fill-opacity="0.8" stroke="#00AF65" stroke-opacity="0.8" stroke-width="1.9"/><circle cx="1556.1" cy="340.6" r="5.2" fill="#00AF65" fill-opacity="0.8" stroke="#00AF65" stroke-opacity="0.8" stroke-width="1.9"/><circle cx="1547.6" cy="335" r="5.2" fill="#00AF65" fill-opacity="0.8" stroke="#00AF65" stroke-opacity="0.8" stroke-width="1.9"/><circle cx="1540.7" cy="332.5" r="5.2" fill="#00AF65" fill-opacity="0.8" stroke="#00AF65" stroke-opacity="0.8" stroke-width="1.9"/><circle cx="1534.7" cy="322" r="5.2" fill="#00AF65" fill-opacity="0.8" stroke="#00AF65" stroke-opacity="0.8" stroke-width="1.9"/><path d="M1074.6 300.7h0M1078.8 306.5h0M1082.6 304.5h0M1086.1 302.4h0M1089.3 304.7h0M1092.3 301.3h0M1095.1 300.6h0M1097.8 296.6h0M1100.3 295.9h0M1102.7 293.9h0M1105 292.3h0M1107.2 293.9h0M1109.3 292.5h0M1111.3 291.8h0M1113.3 292.5h0M1115.1 293h0M1116.9 295.2h0M1118.7 295.1h0M1120.4 294.9h0M1122 295.2h0M1123.6 295.6h0M1125.1 295.9h0M1126.6 296.2h0M1128.1 297.1h0M1129.5 297.5h0M1130.9 298.2h0M1132.2 299.4h0M1133.5 299.5h0M1134.8 299.1h0M1136.1 299.1h0M1137.3 297.5h0M1138.6 297.9h0M1139.7 297.1h0M1140.9 297h0M1142 296.7h0M1143.2 296.4h0M1144.3 295.9h0M1145.4 296.3h0M1146.4 295.1h0M1147.5 295.7h0M1148.5 294.9h0M1149.5 293.6h0M1150.5 293.4h0M1151.5 293.3h0M1152.4 293.4h0M1153.4 292.4h0M1154.3 292.5h0M1155.3 292.9h0M1156.2 291.8h0M1158 292.3h0M1159.7 291.3h0M1161.4 291.5h0M1163.1 290.8h0M1164.7 293.3h0M1166.3 291.9h0M1167.8 291.7h0M1169.3 289.6h0M1170.8 288.9h0M1172.3 288.2h0M1173.7 288.3h0M1175.1 287.3h0M1176.5 288h0M1177.8 288.3h0M1179.2 288.3h0M1180.5 288.9h0M1181.8 289.9h0M1183 291.5h0M1184.3 290.9h0M1185.5 292.2h0M1186.7 291.8h0M1187.9 292.4h0M1189.1 292.2h0M1190.2 292.4h0M1191.4 292.8h0M1192.5 292h0M1193.6 292.9h0M1194.8 292.8h0M1195.8 292.4h0M1196.9 292.9h0M1198 292.2h0M1199 292.5h0M1200.1 293.3h0M1201.1 292.7h0M1202.1 293h0M1203.1 292.5h0M1204.1 292.6h0M1205.1 293.1h0M1206.1 293.1h0M1207.1 293.6h0M1208.1 293.8h0M1209 293.9h0M1209.9 295.1h0M1210.9 294.4h0M1211.8 296.1h0M1212.7 295.9h0M1213.6 296.2h0M1214.6 296.2h0M1215.9 297.5h0M1217.2 296.7h0M1218.5 297.4h0M1219.8 296.9h0M1221.1 295.7h0M1222.4 296.5h0M1223.7 295.9h0M1224.9 294.3h0M1226.1 295.2h0M1227.4 294.7h0M1228.6 295.4h0M1229.8 294.7h0M1231 296.2h0M1232.1 295.5h0M1233.3 296.2h0M1234.5 296.4h0M1235.6 297.4h0M1236.8 296.4h0M1237.9 296.9h0M1239 296.8h0M1240.2 296h0M1241.3 296.4h0M1242.4 295.4h0M1243.5 296.2h0M1244.6 295.7h0M1245.6 294.9h0M1246.7 294.6h0M1247.8 295.3h0M1248.8 293.3h0M1249.9 293.1h0M1250.9 292.8h0M1252 291.4h0M1253 291.6h0M1254.1 291.1h0M1255.1 290.1h0M1256.1 290.1h0M1257.1 288.7h0M1258.2 288.1h0M1259.2 286.2h0M1260.2 286.1h0M1261.2 286.4h0M1262.2 287.5h0M1263.2 287.9h0M1264.2 286.4h0M1265.2 288.8h0M1266.1 287h0M1267.1 288.7h0M1268.1 287.3h0M1269.1 291.6h0M1270 289.1h0M1271 287.4h0M1272 292.4h0M1272.9 290h0M1273.9 291.9h0M1274.9 291.2h0M1275.8 294.4h0M1276.8 293.4h0M1277.7 293.3h0M1278.7 295.9h0M1279.6 294.5h0M1280.5 295.7h0M1281.5 294.8h0M1282.4 296.9h0M1283.4 295.5h0M1284.3 294.2h0M1285.2 294.2h0M1286.2 293.6h0M1287.1 293.2h0M1288 291.3h0M1289 292.3h0M1289.9 290.8h0M1290.8 290.5h0M1291.8 289.9h0M1292.7 288.5h0M1293.6 288.7h0M1294.6 287.5h0M1295.5 286.4h0M1296.4 284.7h0M1297.3 284.1h0M1298.3 283.6h0M1299.2 281.3h0M1300.1 281.9h0M1301 279.3h0M1302 280.2h0M1302.9 279h0M1303.8 278.3h0M1304.7 279.4h0M1305.7 278.5h0M1306.6 279h0M1307.5 278.3h0M1308.4 280.2h0M1309.4 279.4h0M1310.3 278.8h0M1311.2 279.2h0M1312.2 279.2h0M1313.1 280.6h0M1314 279.4h0M1315 281.2h0M1315.9 281.1h0M1316.9 281.5h0M1317.8 283.6h0M1318.7 283.3h0M1319.7 283.2h0M1320.6 283.9h0M1321.6 285.4h0M1322.5 285.6h0M1323.5 284.8h0M1324.4 284.7h0M1325.4 283.5h0M1326.3 283.6h0M1327.3 282.8h0M1328.3 281.8h0M1329.2 280.5h0M1330.2 280.2h0M1331.2 280.2h0M1332.2 278.8h0M1333.1 279.4h0M1334.1 277.7h0M1335.1 280.1h0M1336.1 278.8h0M1337.1 278.1h0M1338.1 281.2h0M1339.1 279.9h0M1340.1 280.8h0M1341.1 277.3h0M1342.1 283.4h0M1343.1 280.5h0M1344.2 278.7h0M1345.2 282.7h0M1346.2 281.1h0M1347.3 282h0M1348.3 279.8h0M1349.4 283h0M1350.4 282.5h0M1351.5 281.4h0M1352.5 282h0M1353.6 282.9h0M1354.7 282.6h0M1355.8 282.8h0M1356.9 282.7h0M1358 283.4h0M1359.1 284.2h0M1360.2 283.7h0M1361.3 284.1h0M1362.4 283.9h0M1363.6 283.9h0M1364.7 283.3h0M1365.9 284.7h0M1367.1 284.3h0M1368.2 283.2h0M1369.4 283.4h0M1370.6 283.4h0M1371.8 283.5h0M1373.1 282.2h0M1374.3 282.9h0M1375.5 282.2h0M1376.8 282.8h0M1378 282.4h0M1379.3 281.2h0M1380.6 281.1h0M1381.9 281.3h0M1383.3 280.1h0M1384.6 280.2h0M1385.5 280.2h0M1386.4 280.8h0M1387.3 280.9h0M1388.2 279.8h0M1389.2 280h0M1390.1 279.8h0M1391.1 279.7h0M1392 280.1h0M1393 279.3h0M1394 278.5h0M1395 278.9h0M1396 278.4h0M1397 277.6h0M1398 278.4h0M1399 278.6h0M1400 279.3h0M1401.1 278.6h0M1402.1 278.4h0M1403.2 278.5h0M1404.3 280.1h0M1405.4 279.3h0M1406.5 279.9h0M1407.6 279.8h0M1408.8 280.7h0M1409.9 280.6h0M1411.1 281.3h0M1412.3 282.4h0M1413.5 282.8h0M1414.7 282.7h0M1415.9 284.1h0M1417.2 284.4h0M1418.5 283.4h0M1419.8 284.4h0M1421.1 284.9h0M1422.4 284h0M1423.8 285.4h0M1425.2 284.9h0M1426.6 285.4h0M1428.1 286h0M1429.5 285.2h0M1431 285.5h0M1432.6 286.2h0M1434.1 286.6h0M1435.7 287.7h0M1437.4 287.4h0M1439 288.9h0M1440.8 288.6h0M1442.5 289.6h0M1444.3 289.3h0M1445.3 290.6h0M1446.2 290.2h0M1447.2 291.2h0M1448.1 290.9h0M1449.1 292.5h0M1450.1 292.3h0M1451.1 293.7h0M1452.1 294.9h0M1453.2 294.4h0M1454.2 294.5h0M1455.3 294.6h0M1456.4 294.9h0M1457.6 295.5h0M1458.7 295.7h0M1459.9 297h0M1461 296.7h0M1462.3 296.7h0M1463.5 296.5h0M1464.8 297.9h0M1466.1 299.8h0M1467.4 301.6h0M1468.7 302.3h0M1470.1 306.2h0M1471.5 308.3h0M1473 309h0M1474.5 316.5h0M1476 317.5h0M1477.6 317.2h0M1479.2 322.6h0M1480.9 319.5h0M1482.7 321.8h0M1484.5 319.4h0M1486.3 326h0M1488.3 325.1h0M1490.3 323.4h0M1492.4 324.6h0M1494.6 321.7h0M1496.9 320.8h0M1499.3 318.3h0M1501.8 317.5h0M1504.5 318.3h0M1507.3 318.1h0M1510.3 318.3h0M1513.5 318.8h0M1517 319.7h0M1520.8 317.8h0M1525 317.8h0M1529.6 316.8h0" stroke="#009DF3" stroke-opacity="0.95" stroke-width="12.3" stroke-linecap="round" fill="none"/><circle cx="984.2" cy="228.1" r="5.2" fill="#009DF3" fill-opacity="0.8" stroke="#009DF3" stroke-opacity="0.8" stroke-width="1.9"/><circle cx="1016.4" cy="277.5" r="5.2" fill="#009DF3" fill-opacity="0.8" stroke="#009DF3" stroke-opacity="0.8" stroke-width="1.9"/><circle cx="1032.4" cy="287.5" r="5.2" fill="#009DF3" fill-opacity="0.8" stroke="#009DF3" stroke-opacity="0.8" stroke-width="1.9"/><circle cx="1043.5" cy="304.4" r="5.2" fill="#009DF3" fill-opacity="0.8" stroke="#009DF3" stroke-opacity="0.8" stroke-width="1.9"/><circle cx="1052" cy="313.1" r="5.2" fill="#009DF3" fill-opacity="0.8" stroke="#009DF3" stroke-opacity="0.8" stroke-width="1.9"/><circle cx="1058.9" cy="298.8" r="5.2" fill="#009DF3" fill-opacity="0.8" stroke="#009DF3" stroke-opacity="0.8" stroke-width="1.9"/><circle cx="1064.9" cy="301.2" r="5.2" fill="#009DF3" fill-opacity="0.8" stroke="#009DF3" stroke-opacity="0.8" stroke-width="1.9"/><circle cx="1070" cy="305" r="5.2" fill="#009DF3" fill-opacity="0.8" stroke="#009DF3" stroke-opacity="0.8" stroke-width="1.9"/><circle cx="1615.4" cy="311.9" r="5.2" fill="#009DF3" fill-opacity="0.8" stroke="#009DF3" stroke-opacity="0.8" stroke-width="1.9"/><circle cx="1583.2" cy="295.6" r="5.2" fill="#009DF3" fill-opacity="0.8" stroke="#009DF3" stroke-opacity="0.8" stroke-width="1.9"/><circle cx="1567.2" cy="306.2" r="5.2" fill="#009DF3" fill-opacity="0.8" stroke="#009DF3" stroke-opacity="0.8" stroke-width="1.9"/><circle cx="1556.1" cy="341.2" r="5.2" fill="#009DF3" fill-opacity="0.8" stroke="#009DF3" stroke-opacity="0.8" stroke-width="1.9"/><circle cx="1547.6" cy="330" r="5.2" fill="#009DF3" fill-opacity="0.8" stroke="#009DF3" stroke-opacity="0.8" stroke-width="1.9"/><circle cx="1540.7" cy="322.5" r="5.2" fill="#009DF3" fill-opacity="0.8" stroke="#009DF3" stroke-opacity="0.8" stroke-width="1.9"/><circle cx="1534.7" cy="315" r="5.2" fill="#009DF3" fill-opacity="0.8" stroke="#009DF3" stroke-opacity="0.8" stroke-width="1.9"/><path d="M1074.6 287.6h0M1078.8 293.9h0M1082.6 292.3h0M1086.1 291.7h0M1089.3 296h0M1092.3 295.3h0M1095.1 296.4h0M1097.8 295.5h0M1100.3 298.5h0M1102.7 296.8h0M1105 296.3h0M1107.2 299.4h0M1109.3 296.8h0M1111.3 299.3h0M1113.3 294.2h0M1115.1 300.3h0M1116.9 296.5h0M1118.7 293.6h0M1120.4 297.6h0M1122 294.1h0M1123.6 295.1h0M1125.1 292h0M1126.6 296.3h0M1128.1 293h0M1129.5 290.2h0M1130.9 294.9h0M1132.2 290.8h0M1133.5 293.2h0M1134.8 288.9h0M1136.1 294.6h0M1137.3 291.4h0M1138.6 287.7h0M1139.7 291.8h0M1140.9 288.4h0M1142 290.1h0M1143.2 285.3h0M1144.3 292.5h0M1145.4 289h0M1146.4 286.3h0M1147.5 291h0M1148.5 288.5h0M1149.5 289.7h0M1150.5 287.1h0M1151.5 291.3h0M1152.4 289.2h0M1153.4 287.6h0M1154.3 290.6h0M1155.3 289.6h0M1156.2 290.9h0M1158 289h0M1159.7 292.4h0M1161.4 290.9h0M1163.1 291.5h0M1164.7 293.4h0M1166.3 291.8h0M1167.8 294.2h0M1169.3 291.8h0M1170.8 296.1h0M1172.3 295.1h0M1173.7 293.1h0M1175.1 296.9h0M1176.5 294.9h0M1177.8 295.6h0M1179.2 292.2h0M1180.5 297.1h0M1181.8 294.7h0M1183 293.1h0M1184.3 295.9h0M1185.5 294.4h0M1186.7 295.2h0M1187.9 292.3h0M1189.1 297h0M1190.2 294.1h0M1191.4 292.5h0M1192.5 295.2h0M1193.6 293.7h0M1194.8 293.8h0M1195.8 291.4h0M1196.9 296.5h0M1198 293.6h0M1199 292h0M1200.1 296h0M1201.1 292.8h0M1202.1 293.8h0M1203.1 291.8h0M1204.1 296.3h0M1205.1 293.2h0M1206.1 291.4h0M1207.1 294.9h0M1208.1 292.5h0M1209 294.7h0M1209.9 291.9h0M1210.9 295.8h0M1211.8 293.1h0M1212.7 292.1h0M1213.6 294.6h0M1214.6 292.9h0M1215.9 294h0M1217.2 291.5h0M1218.5 294.8h0M1219.8 293.4h0M1221.1 291.7h0M1222.4 293.3h0M1223.7 291.6h0M1224.9 292.9h0M1226.1 290.5h0M1227.4 293.7h0M1228.6 292h0M1229.8 289.9h0M1231 293.1h0M1232.1 290.6h0M1233.3 292.3h0M1234.5 289.1h0M1235.6 292.3h0M1236.8 291.2h0M1237.9 289.2h0M1239 292.6h0M1240.2 289.4h0M1241.3 291.8h0M1242.4 289.2h0M1243.5 293.4h0M1244.6 291.2h0M1245.6 290.1h0M1246.7 292.5h0M1247.8 290.2h0M1248.8 291.5h0M1249.9 289.5h0M1250.9 292.8h0M1252 290.8h0M1253 288.7h0M1254.1 291.6h0M1255.1 289.7h0M1256.1 290.7h0M1257.1 288.1h0M1258.2 291.9h0M1259.2 288.9h0M1260.2 287.1h0M1261.2 291.4h0M1262.2 289.1h0M1263.2 290.3h0M1264.2 286.7h0M1265.2 291h0M1266.1 287.6h0M1267.1 286h0M1268.1 289.8h0M1269.1 286.9h0M1270 288.7h0M1271 285.8h0M1272 289.1h0M1272.9 287.6h0M1273.9 286.1h0M1274.9 289.8h0M1275.8 287.3h0M1276.8 288h0M1277.7 285.7h0M1278.7 291.1h0M1279.6 287.6h0M1280.5 287.2h0M1281.5 290.2h0M1282.4 287.4h0M1283.4 289.3h0M1284.3 285.3h0M1285.2 289.6h0M1286.2 288.6h0M1287.1 286.9h0M1288 288.6h0M1289 287.3h0M1289.9 288.5h0M1290.8 285.3h0M1291.8 289.3h0M1292.7 287.6h0M1293.6 286.5h0M1294.6 287.3h0M1295.5 286.9h0M1296.4 287.4h0M1297.3 284.6h0M1298.3 286.9h0M1299.2 286.4h0M1300.1 285.5h0M1301 287h0M1302 284.8h0M1302.9 285.4h0M1303.8 283.4h0M1304.7 286.3h0M1305.7 284.8h0M1306.6 283.3h0M1307.5 285.2h0M1308.4 283.5h0M1309.4 283.7h0M1310.3 281.2h0M1311.2 286h0M1312.2 282.2h0M1313.1 279.9h0M1314 284.9h0M1315 282.2h0M1315.9 283.4h0M1316.9 279.9h0M1317.8 284.6h0M1318.7 281.8h0M1319.7 279.3h0M1320.6 283.5h0M1321.6 280.4h0M1322.5 282.6h0M1323.5 278.4h0M1324.4 284.1h0M1325.4 281.2h0M1326.3 280.4h0M1327.3 283h0M1328.3 281.5h0M1329.2 283.1h0M1330.2 280.8h0M1331.2 283.3h0M1332.2 282.8h0M1333.1 280.5h0M1334.1 283.1h0M1335.1 281.6h0M1336.1 282.8h0M1337.1 280.4h0M1338.1 284.1h0M1339.1 282.9h0M1340.1 280.6h0M1341.1 283.8h0M1342.1 281.2h0M1343.1 282.8h0M1344.2 279h0M1345.2 285.2h0M1346.2 280.6h0M1347.3 278.6h0M1348.3 283.4h0M1349.4 279.8h0M1350.4 280.9h0M1351.5 276.9h0M1352.5 282.6h0M1353.6 278h0M1354.7 277.1h0M1355.8 280.7h0M1356.9 276.8h0M1358 278.3h0M1359.1 274h0M1360.2 280.7h0M1361.3 276.8h0M1362.4 275.5h0M1363.6 279.8h0M1364.7 276h0M1365.9 277h0M1367.1 273.4h0M1368.2 279.2h0M1369.4 275.4h0M1370.6 274.3h0M1371.8 277.6h0M1373.1 274.6h0M1374.3 275.6h0M1375.5 273h0M1376.8 277.6h0M1378 276.5h0M1379.3 274.6h0M1380.6 277.6h0M1381.9 276.7h0M1383.3 276.8h0M1384.6 275h0M1385.5 278.9h0M1386.4 277.4h0M1387.3 277h0M1388.2 278.5h0M1389.2 276.9h0M1390.1 278.1h0M1391.1 275.5h0M1392 280.2h0M1393 278.2h0M1394 276.7h0M1395 280.9h0M1396 278.6h0M1397 280.5h0M1398 278.3h0M1399 282.3h0M1400 281.8h0M1401.1 281.4h0M1402.1 283.9h0M1403.2 283.3h0M1404.3 285.4h0M1405.4 284h0M1406.5 286h0M1407.6 285.3h0M1408.8 285.4h0M1409.9 287.6h0M1411.1 286.9h0M1412.3 287.8h0M1413.5 287.2h0M1414.7 289.4h0M1415.9 289.3h0M1417.2 289.4h0M1418.5 290.8h0M1419.8 290.1h0M1421.1 292h0M1422.4 289.4h0M1423.8 293.1h0M1425.2 291.8h0M1426.6 290h0M1428.1 293.2h0M1429.5 291.5h0M1431 293.6h0M1432.6 291.2h0M1434.1 296.5h0M1435.7 294.1h0M1437.4 292.5h0M1439 296.4h0M1440.8 294.8h0M1442.5 297h0M1444.3 294.7h0M1445.3 300.2h0M1446.2 297.4h0M1447.2 296.5h0M1448.1 301.3h0M1449.1 299.1h0M1450.1 300.5h0M1451.1 298.9h0M1452.1 302.2h0M1453.2 302h0M1454.2 301.8h0M1455.3 304.4h0M1456.4 303h0M1457.6 306.3h0M1458.7 301.6h0M1459.9 309.8h0M1461 306.4h0M1462.3 304.2h0M1463.5 313.1h0M1464.8 307.3h0M1466.1 310.5h0M1467.4 303.8h0M1468.7 313.9h0M1470.1 308.8h0M1471.5 305.7h0M1473 311.5h0M1474.5 308.1h0M1476 309.7h0M1477.6 306.6h0M1479.2 312.3h0M1480.9 310.7h0M1482.7 310.8h0M1484.5 312.4h0M1486.3 312.3h0M1488.3 313.8h0M1490.3 315.4h0M1492.4 315.2h0M1494.6 316.6h0M1496.9 317.8h0M1499.3 319h0M1501.8 319.2h0M1504.5 322h0M1507.3 323.3h0M1510.3 326.4h0M1513.5 326.5h0M1517 332.5h0M1520.8 333.7h0M1525 338.5h0M1529.6 343.4h0" stroke="#E04CF0" stroke-opacity="0.95" stroke-width="12.3" stroke-linecap="round" fill="none"/><circle cx="984.2" cy="266.9" r="5.2" fill="#E04CF0" fill-opacity="0.8" stroke="#E04CF0" stroke-opacity="0.8" stroke-width="1.9"/><circle cx="1016.4" cy="302.5" r="5.2" fill="#E04CF0" fill-opacity="0.8" stroke="#E04CF0" stroke-opacity="0.8" stroke-width="1.9"/><circle cx="1032.4" cy="276" r="5.2" fill="#E04CF0" fill-opacity="0.8" stroke="#E04CF0" stroke-opacity="0.8" stroke-width="1.9"/><circle cx="1043.5" cy="288.8" r="5.2" fill="#E04CF0" fill-opacity="0.8" stroke="#E04CF0" stroke-opacity="0.8" stroke-width="1.9"/><circle cx="1052" cy="290" r="5.2" fill="#E04CF0" fill-opacity="0.8" stroke="#E04CF0" stroke-opacity="0.8" stroke-width="1.9"/><circle cx="1058.9" cy="287.5" r="5.2" fill="#E04CF0" fill-opacity="0.8" stroke="#E04CF0" stroke-opacity="0.8" stroke-width="1.9"/><circle cx="1064.9" cy="290" r="5.2" fill="#E04CF0" fill-opacity="0.8" stroke="#E04CF0" stroke-opacity="0.8" stroke-width="1.9"/><circle cx="1070" cy="285" r="5.2" fill="#E04CF0" fill-opacity="0.8" stroke="#E04CF0" stroke-opacity="0.8" stroke-width="1.9"/><circle cx="1615.4" cy="399" r="5.2" fill="#E04CF0" fill-opacity="0.8" stroke="#E04CF0" stroke-opacity="0.8" stroke-width="1.9"/><circle cx="1583.2" cy="370" r="5.2" fill="#E04CF0" fill-opacity="0.8" stroke="#E04CF0" stroke-opacity="0.8" stroke-width="1.9"/><circle cx="1567.2" cy="351.2" r="5.2" fill="#E04CF0" fill-opacity="0.8" stroke="#E04CF0" stroke-opacity="0.8" stroke-width="1.9"/><circle cx="1556.1" cy="368.8" r="5.2" fill="#E04CF0" fill-opacity="0.8" stroke="#E04CF0" stroke-opacity="0.8" stroke-width="1.9"/><circle cx="1547.6" cy="360" r="5.2" fill="#E04CF0" fill-opacity="0.8" stroke="#E04CF0" stroke-opacity="0.8" stroke-width="1.9"/><circle cx="1540.7" cy="350" r="5.2" fill="#E04CF0" fill-opacity="0.8" stroke="#E04CF0" stroke-opacity="0.8" stroke-width="1.9"/><circle cx="1534.7" cy="350.6" r="5.2" fill="#E04CF0" fill-opacity="0.8" stroke="#E04CF0" stroke-opacity="0.8" stroke-width="1.9"/><path d="M935.8 8.9L937.6 17.4L939.3 25.6L941.1 33.6L942.9 41.2L944.7 48.6L946.4 55.7L948.2 62.5L950 69.2L951.8 75.5L953.5 81.7L955.3 87.6L957.1 93.4L958.9 98.9L960.6 104.2L962.4 109.4L964.2 114.4L966 119.2L967.7 123.8L969.5 128.3L971.3 132.6L973.1 136.8L974.8 140.9L976.6 144.8L978.4 148.6L980.2 152.2L981.9 155.8L983.7 159.2L985.5 162.5L987.3 165.7L989 168.8L990.8 171.8L992.6 174.7L994.4 177.5L996.1 180.2L997.9 182.8L999.7 185.4L1001.5 187.8L1003.2 190.2L1005 192.5L1006.8 194.8L1008.6 196.9L1010.3 199L1012.1 201.1L1013.9 203L1015.7 205L1017.4 206.8L1019.2 208.6L1021 210.4L1022.8 212.1L1024.5 213.7L1026.3 215.3L1028.1 216.8L1029.9 218.3L1031.6 219.8L1033.4 221.2L1035.2 222.6L1037 223.9L1038.7 225.2L1040.5 226.4L1042.3 227.6L1044.1 228.8L1045.8 230L1047.6 231.1L1049.4 232.2L1051.2 233.2L1052.9 234.2L1054.7 235.2L1056.5 236.2L1058.3 237.1L1060 238L1061.8 238.9L1063.6 239.8L1065.4 240.6L1067.1 241.4L1068.9 242.2L1070.7 243L1072.5 243.7L1074.2 244.5L1076 245.2L1077.8 245.9L1079.6 246.5L1081.3 247.2L1083.1 247.8L1084.9 248.5L1086.7 249.1L1088.4 249.6L1090.2 250.2L1092 250.8L1093.8 251.3L1095.5 251.8L1097.3 252.4L1099.1 252.9L1100.9 253.3L1102.6 253.8L1104.4 254.3L1106.2 254.7L1107.9 255.2L1109.7 255.6L1111.5 256L1113.3 256.4L1115 256.8L1116.8 257.2L1118.6 257.6L1120.4 257.9L1122.1 258.3L1123.9 258.6L1125.7 259L1127.5 259.3L1129.2 259.6L1131 260L1132.8 260.3L1134.6 260.6L1136.3 260.9L1138.1 261.1L1139.9 261.4L1141.7 261.7L1143.4 262L1145.2 262.2L1147 262.5L1148.8 262.7L1150.5 262.9L1152.3 263.2L1154.1 263.4L1155.9 263.6L1157.6 263.8L1159.4 264.1L1161.2 264.3L1163 264.5L1164.7 264.7L1166.5 264.9L1168.3 265L1170.1 265.2L1171.8 265.4L1173.6 265.6L1175.4 265.7L1177.2 265.9L1178.9 266.1L1180.7 266.2L1182.5 266.4L1184.3 266.5L1186 266.7L1187.8 266.8L1189.6 267L1191.4 267.1L1193.1 267.2L1194.9 267.3L1196.7 267.5L1198.5 267.6L1200.2 267.7L1202 267.8L1203.8 267.9L1205.6 268L1207.3 268.2L1209.1 268.3L1210.9 268.4L1212.7 268.5L1214.4 268.5L1216.2 268.6L1218 268.7L1219.8 268.8L1221.5 268.9L1223.3 269L1225.1 269.1L1226.9 269.1L1228.6 269.2L1230.4 269.3L1232.2 269.4L1234 269.4L1235.7 269.5L1237.5 269.6L1239.3 269.6L1241.1 269.7L1242.8 269.7L1244.6 269.8L1246.4 269.8L1248.2 269.9L1249.9 269.9L1251.7 270L1253.5 270L1255.3 270.1L1257 270.1L1258.8 270.2L1260.6 270.2L1262.4 270.2L1264.1 270.3L1265.9 270.3L1267.7 270.3L1269.5 270.4L1271.2 270.4L1273 270.4L1274.8 270.4L1276.6 270.5L1278.3 270.5L1280.1 270.5L1281.9 270.5L1283.6 270.5L1285.4 270.6L1287.2 270.6L1289 270.6L1290.7 270.6L1292.5 270.6L1294.3 270.6L1296.1 270.6L1297.8 270.6L1299.6 270.6L1301.4 270.6L1303.2 270.6L1304.9 270.6L1306.7 270.6L1308.5 270.6L1310.3 270.6L1312 270.6L1313.8 270.6L1315.6 270.5L1317.4 270.5L1319.1 270.5L1320.9 270.5L1322.7 270.5L1324.5 270.5L1326.2 270.4L1328 270.4L1329.8 270.4L1331.6 270.3L1333.3 270.3L1335.1 270.3L1336.9 270.2L1338.7 270.2L1340.4 270.2L1342.2 270.1L1344 270.1L1345.8 270.1L1347.5 270L1349.3 270L1351.1 269.9L1352.9 269.9L1354.6 269.8L1356.4 269.7L1358.2 269.7L1360 269.6L1361.7 269.6L1363.5 269.5L1365.3 269.4L1367.1 269.4L1368.8 269.3L1370.6 269.2L1372.4 269.2L1374.2 269.1L1375.9 269L1377.7 268.9L1379.5 268.8L1381.3 268.7L1383 268.7L1384.8 268.6L1386.6 268.5L1388.4 268.4L1390.1 268.3L1391.9 268.2L1393.7 268.1L1395.5 268L1397.2 267.8L1399 267.7L1400.8 267.6L1402.6 267.5L1404.3 267.4L1406.1 267.2L1407.9 267.1L1409.7 267L1411.4 266.8L1413.2 266.7L1415 266.6L1416.8 266.4L1418.5 266.3L1420.3 266.1L1422.1 265.9L1423.9 265.8L1425.6 265.6L1427.4 265.4L1429.2 265.3L1431 265.1L1432.7 264.9L1434.5 264.7L1436.3 264.5L1438.1 264.3L1439.8 264.1L1441.6 263.9L1443.4 263.7L1445.2 263.5L1446.9 263.2L1448.7 263L1450.5 262.8L1452.3 262.5L1454 262.3L1455.8 262L1457.6 261.7L1459.4 261.5L1461.1 261.2L1462.9 260.9L1464.7 260.6L1466.4 260.3L1468.2 260L1470 259.7L1471.8 259.4L1473.5 259.1L1475.3 258.7L1477.1 258.4L1478.9 258L1480.6 257.6L1482.4 257.3L1484.2 256.9L1486 256.5L1487.7 256.1L1489.5 255.7L1491.3 255.3L1493.1 254.8L1494.8 254.4L1496.6 253.9L1498.4 253.4L1500.2 252.9L1501.9 252.5L1503.7 251.9L1505.5 251.4L1507.3 250.9L1509 250.3L1510.8 249.8L1512.6 249.2L1514.4 248.6L1516.1 248L1517.9 247.3L1519.7 246.7L1521.5 246L1523.2 245.3L1525 244.6L1526.8 243.9L1528.6 243.1L1530.3 242.4L1532.1 241.6L1533.9 240.8L1535.7 240L1537.4 239.1L1539.2 238.2L1541 237.3L1542.8 236.4L1544.5 235.4L1546.3 234.4L1548.1 233.4L1549.9 232.4L1551.6 231.3L1553.4 230.2L1555.2 229L1557 227.9L1558.7 226.7L1560.5 225.4L1562.3 224.1L1564.1 222.8L1565.8 221.5L1567.6 220.1L1569.4 218.6L1571.2 217.1L1572.9 215.6L1574.7 214L1576.5 212.4L1578.3 210.7L1580 209L1581.8 207.2L1583.6 205.3L1585.4 203.4L1587.1 201.5L1588.9 199.5L1590.7 197.4L1592.5 195.2L1594.2 193L1596 190.7L1597.8 188.3L1599.6 185.9L1601.3 183.3L1603.1 180.7L1604.9 178L1606.7 175.2L1608.4 172.4L1610.2 169.4L1612 166.3L1613.8 163.1L1615.5 159.9L1617.3 156.5L1619.1 152.9L1620.9 149.3L1622.6 145.6L1624.4 141.7L1626.2 137.6L1628 133.5L1629.7 129.2L1631.5 124.7L1633.3 120.1L1635.1 115.3L1636.8 110.4L1638.6 105.3L1640.4 100L1642.2 94.5L1643.9 88.8L1645.7 82.9L1645.7 485.6L1643.9 479.7L1642.2 474L1640.4 468.5L1638.6 463.2L1636.8 458.1L1635.1 453.2L1633.3 448.4L1631.5 443.8L1629.7 439.3L1628 435L1626.2 430.9L1624.4 426.8L1622.6 422.9L1620.9 419.2L1619.1 415.6L1617.3 412L1615.5 408.6L1613.8 405.4L1612 402.2L1610.2 399.1L1608.4 396.1L1606.7 393.3L1604.9 390.5L1603.1 387.8L1601.3 385.2L1599.6 382.6L1597.8 380.2L1596 377.8L1594.2 375.5L1592.5 373.3L1590.7 371.1L1588.9 369L1587.1 367L1585.4 365.1L1583.6 363.2L1581.8 361.3L1580 359.5L1578.3 357.8L1576.5 356.1L1574.7 354.5L1572.9 352.9L1571.2 351.4L1569.4 349.9L1567.6 348.4L1565.8 347L1564.1 345.7L1562.3 344.4L1560.5 343.1L1558.7 341.8L1557 340.6L1555.2 339.5L1553.4 338.3L1551.6 337.2L1549.9 336.1L1548.1 335.1L1546.3 334.1L1544.5 333.1L1542.8 332.1L1541 331.2L1539.2 330.3L1537.4 329.4L1535.7 328.5L1533.9 327.7L1532.1 326.9L1530.3 326.1L1528.6 325.4L1526.8 324.6L1525 323.9L1523.2 323.2L1521.5 322.5L1519.7 321.8L1517.9 321.2L1516.1 320.5L1514.4 319.9L1512.6 319.3L1510.8 318.7L1509 318.2L1507.3 317.6L1505.5 317.1L1503.7 316.6L1501.9 316L1500.2 315.6L1498.4 315.1L1496.6 314.6L1494.8 314.1L1493.1 313.7L1491.3 313.2L1489.5 312.8L1487.7 312.4L1486 312L1484.2 311.6L1482.4 311.2L1480.6 310.9L1478.9 310.5L1477.1 310.1L1475.3 309.8L1473.5 309.4L1471.8 309.1L1470 308.8L1468.2 308.5L1466.4 308.2L1464.7 307.9L1462.9 307.6L1461.1 307.3L1459.4 307L1457.6 306.8L1455.8 306.5L1454 306.2L1452.3 306L1450.5 305.7L1448.7 305.5L1446.9 305.3L1445.2 305L1443.4 304.8L1441.6 304.6L1439.8 304.4L1438.1 304.2L1436.3 304L1434.5 303.8L1432.7 303.6L1431 303.4L1429.2 303.2L1427.4 303.1L1425.6 302.9L1423.9 302.7L1422.1 302.6L1420.3 302.4L1418.5 302.2L1416.8 302.1L1415 301.9L1413.2 301.8L1411.4 301.7L1409.7 301.5L1407.9 301.4L1406.1 301.3L1404.3 301.1L1402.6 301L1400.8 300.9L1399 300.8L1397.2 300.7L1395.5 300.5L1393.7 300.4L1391.9 300.3L1390.1 300.2L1388.4 300.1L1386.6 300L1384.8 299.9L1383 299.8L1381.3 299.8L1379.5 299.7L1377.7 299.6L1375.9 299.5L1374.2 299.4L1372.4 299.3L1370.6 299.3L1368.8 299.2L1367.1 299.1L1365.3 299.1L1363.5 299L1361.7 298.9L1360 298.9L1358.2 298.8L1356.4 298.8L1354.6 298.7L1352.9 298.6L1351.1 298.6L1349.3 298.5L1347.5 298.5L1345.8 298.4L1344 298.4L1342.2 298.4L1340.4 298.3L1338.7 298.3L1336.9 298.3L1335.1 298.2L1333.3 298.2L1331.6 298.2L1329.8 298.1L1328 298.1L1326.2 298.1L1324.5 298L1322.7 298L1320.9 298L1319.1 298L1317.4 298L1315.6 298L1313.8 297.9L1312 297.9L1310.3 297.9L1308.5 297.9L1306.7 297.9L1304.9 297.9L1303.2 297.9L1301.4 297.9L1299.6 297.9L1297.8 297.9L1296.1 297.9L1294.3 297.9L1292.5 297.9L1290.7 297.9L1289 297.9L1287.2 297.9L1285.4 297.9L1283.6 298L1281.9 298L1280.1 298L1278.3 298L1276.6 298L1274.8 298.1L1273 298.1L1271.2 298.1L1269.5 298.1L1267.7 298.2L1265.9 298.2L1264.1 298.2L1262.4 298.3L1260.6 298.3L1258.8 298.3L1257 298.4L1255.3 298.4L1253.5 298.5L1251.7 298.5L1249.9 298.6L1248.2 298.6L1246.4 298.7L1244.6 298.7L1242.8 298.8L1241.1 298.8L1239.3 298.9L1237.5 298.9L1235.7 299L1234 299.1L1232.2 299.1L1230.4 299.2L1228.6 299.3L1226.9 299.4L1225.1 299.4L1223.3 299.5L1221.5 299.6L1219.8 299.7L1218 299.8L1216.2 299.9L1214.4 300L1212.7 300L1210.9 300.1L1209.1 300.2L1207.3 300.3L1205.6 300.5L1203.8 300.6L1202 300.7L1200.2 300.8L1198.5 300.9L1196.7 301L1194.9 301.2L1193.1 301.3L1191.4 301.4L1189.6 301.5L1187.8 301.7L1186 301.8L1184.3 302L1182.5 302.1L1180.7 302.3L1178.9 302.4L1177.2 302.6L1175.4 302.8L1173.6 302.9L1171.8 303.1L1170.1 303.3L1168.3 303.5L1166.5 303.6L1164.7 303.8L1163 304L1161.2 304.2L1159.4 304.4L1157.6 304.7L1155.9 304.9L1154.1 305.1L1152.3 305.3L1150.5 305.6L1148.8 305.8L1147 306L1145.2 306.3L1143.4 306.5L1141.7 306.8L1139.9 307.1L1138.1 307.4L1136.3 307.6L1134.6 307.9L1132.8 308.2L1131 308.5L1129.2 308.9L1127.5 309.2L1125.7 309.5L1123.9 309.9L1122.1 310.2L1120.4 310.6L1118.6 310.9L1116.8 311.3L1115 311.7L1113.3 312.1L1111.5 312.5L1109.7 312.9L1107.9 313.3L1106.2 313.8L1104.4 314.2L1102.6 314.7L1100.9 315.2L1099.1 315.6L1097.3 316.1L1095.5 316.7L1093.8 317.2L1092 317.7L1090.2 318.3L1088.4 318.9L1086.7 319.4L1084.9 320L1083.1 320.7L1081.3 321.3L1079.6 322L1077.8 322.6L1076 323.3L1074.2 324L1072.5 324.8L1070.7 325.5L1068.9 326.3L1067.1 327.1L1065.4 327.9L1063.6 328.7L1061.8 329.6L1060 330.5L1058.3 331.4L1056.5 332.3L1054.7 333.3L1052.9 334.3L1051.2 335.3L1049.4 336.3L1047.6 337.4L1045.8 338.5L1044.1 339.7L1042.3 340.9L1040.5 342.1L1038.7 343.3L1037 344.6L1035.2 345.9L1033.4 347.3L1031.6 348.7L1029.9 350.2L1028.1 351.7L1026.3 353.2L1024.5 354.8L1022.8 356.4L1021 358.1L1019.2 359.9L1017.4 361.7L1015.7 363.5L1013.9 365.5L1012.1 367.4L1010.3 369.5L1008.6 371.6L1006.8 373.7L1005 376L1003.2 378.3L1001.5 380.7L999.7 383.1L997.9 385.7L996.1 388.3L994.4 391L992.6 393.8L990.8 396.7L989 399.7L987.3 402.8L985.5 406L983.7 409.3L981.9 412.7L980.2 416.3L978.4 419.9L976.6 423.7L974.8 427.6L973.1 431.7L971.3 435.9L969.5 440.2L967.7 444.7L966 449.3L964.2 454.1L962.4 459.1L960.6 464.3L958.9 469.6L957.1 475.1L955.3 480.9L953.5 486.8L951.8 493L950 499.3L948.2 506L946.4 512.8L944.7 519.9L942.9 527.3L941.1 534.9L939.3 542.9L937.6 551.1L935.8 559.6Z" fill="#000000" fill-opacity="0.074"/><path d="M935.8 8.9L937.6 17.4L939.3 25.6L941.1 33.6L942.9 41.2L944.7 48.6L946.4 55.7L948.2 62.5L950 69.2L951.8 75.5L953.5 81.7L955.3 87.6L957.1 93.4L958.9 98.9L960.6 104.2L962.4 109.4L964.2 114.4L966 119.2L967.7 123.8L969.5 128.3L971.3 132.6L973.1 136.8L974.8 140.9L976.6 144.8L978.4 148.6L980.2 152.2L981.9 155.8L983.7 159.2L985.5 162.5L987.3 165.7L989 168.8L990.8 171.8L992.6 174.7L994.4 177.5L996.1 180.2L997.9 182.8L999.7 185.4L1001.5 187.8L1003.2 190.2L1005 192.5L1006.8 194.8L1008.6 196.9L1010.3 199L1012.1 201.1L1013.9 203L1015.7 205L1017.4 206.8L1019.2 208.6L1021 210.4L1022.8 212.1L1024.5 213.7L1026.3 215.3L1028.1 216.8L1029.9 218.3L1031.6 219.8L1033.4 221.2L1035.2 222.6L1037 223.9L1038.7 225.2L1040.5 226.4L1042.3 227.6L1044.1 228.8L1045.8 230L1047.6 231.1L1049.4 232.2L1051.2 233.2L1052.9 234.2L1054.7 235.2L1056.5 236.2L1058.3 237.1L1060 238L1061.8 238.9L1063.6 239.8L1065.4 240.6L1067.1 241.4L1068.9 242.2L1070.7 243L1072.5 243.7L1074.2 244.5L1076 245.2L1077.8 245.9L1079.6 246.5L1081.3 247.2L1083.1 247.8L1084.9 248.5L1086.7 249.1L1088.4 249.6L1090.2 250.2L1092 250.8L1093.8 251.3L1095.5 251.8L1097.3 252.4L1099.1 252.9L1100.9 253.3L1102.6 253.8L1104.4 254.3L1106.2 254.7L1107.9 255.2L1109.7 255.6L1111.5 256L1113.3 256.4L1115 256.8L1116.8 257.2L1118.6 257.6L1120.4 257.9L1122.1 258.3L1123.9 258.6L1125.7 259L1127.5 259.3L1129.2 259.6L1131 260L1132.8 260.3L1134.6 260.6L1136.3 260.9L1138.1 261.1L1139.9 261.4L1141.7 261.7L1143.4 262L1145.2 262.2L1147 262.5L1148.8 262.7L1150.5 262.9L1152.3 263.2L1154.1 263.4L1155.9 263.6L1157.6 263.8L1159.4 264.1L1161.2 264.3L1163 264.5L1164.7 264.7L1166.5 264.9L1168.3 265L1170.1 265.2L1171.8 265.4L1173.6 265.6L1175.4 265.7L1177.2 265.9L1178.9 266.1L1180.7 266.2L1182.5 266.4L1184.3 266.5L1186 266.7L1187.8 266.8L1189.6 267L1191.4 267.1L1193.1 267.2L1194.9 267.3L1196.7 267.5L1198.5 267.6L1200.2 267.7L1202 267.8L1203.8 267.9L1205.6 268L1207.3 268.2L1209.1 268.3L1210.9 268.4L1212.7 268.5L1214.4 268.5L1216.2 268.6L1218 268.7L1219.8 268.8L1221.5 268.9L1223.3 269L1225.1 269.1L1226.9 269.1L1228.6 269.2L1230.4 269.3L1232.2 269.4L1234 269.4L1235.7 269.5L1237.5 269.6L1239.3 269.6L1241.1 269.7L1242.8 269.7L1244.6 269.8L1246.4 269.8L1248.2 269.9L1249.9 269.9L1251.7 270L1253.5 270L1255.3 270.1L1257 270.1L1258.8 270.2L1260.6 270.2L1262.4 270.2L1264.1 270.3L1265.9 270.3L1267.7 270.3L1269.5 270.4L1271.2 270.4L1273 270.4L1274.8 270.4L1276.6 270.5L1278.3 270.5L1280.1 270.5L1281.9 270.5L1283.6 270.5L1285.4 270.6L1287.2 270.6L1289 270.6L1290.7 270.6L1292.5 270.6L1294.3 270.6L1296.1 270.6L1297.8 270.6L1299.6 270.6L1301.4 270.6L1303.2 270.6L1304.9 270.6L1306.7 270.6L1308.5 270.6L1310.3 270.6L1312 270.6L1313.8 270.6L1315.6 270.5L1317.4 270.5L1319.1 270.5L1320.9 270.5L1322.7 270.5L1324.5 270.5L1326.2 270.4L1328 270.4L1329.8 270.4L1331.6 270.3L1333.3 270.3L1335.1 270.3L1336.9 270.2L1338.7 270.2L1340.4 270.2L1342.2 270.1L1344 270.1L1345.8 270.1L1347.5 270L1349.3 270L1351.1 269.9L1352.9 269.9L1354.6 269.8L1356.4 269.7L1358.2 269.7L1360 269.6L1361.7 269.6L1363.5 269.5L1365.3 269.4L1367.1 269.4L1368.8 269.3L1370.6 269.2L1372.4 269.2L1374.2 269.1L1375.9 269L1377.7 268.9L1379.5 268.8L1381.3 268.7L1383 268.7L1384.8 268.6L1386.6 268.5L1388.4 268.4L1390.1 268.3L1391.9 268.2L1393.7 268.1L1395.5 268L1397.2 267.8L1399 267.7L1400.8 267.6L1402.6 267.5L1404.3 267.4L1406.1 267.2L1407.9 267.1L1409.7 267L1411.4 266.8L1413.2 266.7L1415 266.6L1416.8 266.4L1418.5 266.3L1420.3 266.1L1422.1 265.9L1423.9 265.8L1425.6 265.6L1427.4 265.4L1429.2 265.3L1431 265.1L1432.7 264.9L1434.5 264.7L1436.3 264.5L1438.1 264.3L1439.8 264.1L1441.6 263.9L1443.4 263.7L1445.2 263.5L1446.9 263.2L1448.7 263L1450.5 262.8L1452.3 262.5L1454 262.3L1455.8 262L1457.6 261.7L1459.4 261.5L1461.1 261.2L1462.9 260.9L1464.7 260.6L1466.4 260.3L1468.2 260L1470 259.7L1471.8 259.4L1473.5 259.1L1475.3 258.7L1477.1 258.4L1478.9 258L1480.6 257.6L1482.4 257.3L1484.2 256.9L1486 256.5L1487.7 256.1L1489.5 255.7L1491.3 255.3L1493.1 254.8L1494.8 254.4L1496.6 253.9L1498.4 253.4L1500.2 252.9L1501.9 252.5L1503.7 251.9L1505.5 251.4L1507.3 250.9L1509 250.3L1510.8 249.8L1512.6 249.2L1514.4 248.6L1516.1 248L1517.9 247.3L1519.7 246.7L1521.5 246L1523.2 245.3L1525 244.6L1526.8 243.9L1528.6 243.1L1530.3 242.4L1532.1 241.6L1533.9 240.8L1535.7 240L1537.4 239.1L1539.2 238.2L1541 237.3L1542.8 236.4L1544.5 235.4L1546.3 234.4L1548.1 233.4L1549.9 232.4L1551.6 231.3L1553.4 230.2L1555.2 229L1557 227.9L1558.7 226.7L1560.5 225.4L1562.3 224.1L1564.1 222.8L1565.8 221.5L1567.6 220.1L1569.4 218.6L1571.2 217.1L1572.9 215.6L1574.7 214L1576.5 212.4L1578.3 210.7L1580 209L1581.8 207.2L1583.6 205.3L1585.4 203.4L1587.1 201.5L1588.9 199.5L1590.7 197.4L1592.5 195.2L1594.2 193L1596 190.7L1597.8 188.3L1599.6 185.9L1601.3 183.3L1603.1 180.7L1604.9 178L1606.7 175.2L1608.4 172.4L1610.2 169.4L1612 166.3L1613.8 163.1L1615.5 159.9L1617.3 156.5L1619.1 152.9L1620.9 149.3L1622.6 145.6L1624.4 141.7L1626.2 137.6L1628 133.5L1629.7 129.2L1631.5 124.7L1633.3 120.1L1635.1 115.3L1636.8 110.4L1638.6 105.3L1640.4 100L1642.2 94.5L1643.9 88.8L1645.7 82.9" stroke="#000" stroke-width="2.6" fill="none" stroke-dasharray="11.2 11.65" stroke-dashoffset="3.2"/><path d="M935.8 559.6L937.6 551.1L939.3 542.9L941.1 534.9L942.9 527.3L944.7 519.9L946.4 512.8L948.2 506L950 499.3L951.8 493L953.5 486.8L955.3 480.9L957.1 475.1L958.9 469.6L960.6 464.3L962.4 459.1L964.2 454.1L966 449.3L967.7 444.7L969.5 440.2L971.3 435.9L973.1 431.7L974.8 427.6L976.6 423.7L978.4 419.9L980.2 416.3L981.9 412.7L983.7 409.3L985.5 406L987.3 402.8L989 399.7L990.8 396.7L992.6 393.8L994.4 391L996.1 388.3L997.9 385.7L999.7 383.1L1001.5 380.7L1003.2 378.3L1005 376L1006.8 373.7L1008.6 371.6L1010.3 369.5L1012.1 367.4L1013.9 365.5L1015.7 363.5L1017.4 361.7L1019.2 359.9L1021 358.1L1022.8 356.4L1024.5 354.8L1026.3 353.2L1028.1 351.7L1029.9 350.2L1031.6 348.7L1033.4 347.3L1035.2 345.9L1037 344.6L1038.7 343.3L1040.5 342.1L1042.3 340.9L1044.1 339.7L1045.8 338.5L1047.6 337.4L1049.4 336.3L1051.2 335.3L1052.9 334.3L1054.7 333.3L1056.5 332.3L1058.3 331.4L1060 330.5L1061.8 329.6L1063.6 328.7L1065.4 327.9L1067.1 327.1L1068.9 326.3L1070.7 325.5L1072.5 324.8L1074.2 324L1076 323.3L1077.8 322.6L1079.6 322L1081.3 321.3L1083.1 320.7L1084.9 320L1086.7 319.4L1088.4 318.9L1090.2 318.3L1092 317.7L1093.8 317.2L1095.5 316.7L1097.3 316.1L1099.1 315.6L1100.9 315.2L1102.6 314.7L1104.4 314.2L1106.2 313.8L1107.9 313.3L1109.7 312.9L1111.5 312.5L1113.3 312.1L1115 311.7L1116.8 311.3L1118.6 310.9L1120.4 310.6L1122.1 310.2L1123.9 309.9L1125.7 309.5L1127.5 309.2L1129.2 308.9L1131 308.5L1132.8 308.2L1134.6 307.9L1136.3 307.6L1138.1 307.4L1139.9 307.1L1141.7 306.8L1143.4 306.5L1145.2 306.3L1147 306L1148.8 305.8L1150.5 305.6L1152.3 305.3L1154.1 305.1L1155.9 304.9L1157.6 304.7L1159.4 304.4L1161.2 304.2L1163 304L1164.7 303.8L1166.5 303.6L1168.3 303.5L1170.1 303.3L1171.8 303.1L1173.6 302.9L1175.4 302.8L1177.2 302.6L1178.9 302.4L1180.7 302.3L1182.5 302.1L1184.3 302L1186 301.8L1187.8 301.7L1189.6 301.5L1191.4 301.4L1193.1 301.3L1194.9 301.2L1196.7 301L1198.5 300.9L1200.2 300.8L1202 300.7L1203.8 300.6L1205.6 300.5L1207.3 300.3L1209.1 300.2L1210.9 300.1L1212.7 300L1214.4 300L1216.2 299.9L1218 299.8L1219.8 299.7L1221.5 299.6L1223.3 299.5L1225.1 299.4L1226.9 299.4L1228.6 299.3L1230.4 299.2L1232.2 299.1L1234 299.1L1235.7 299L1237.5 298.9L1239.3 298.9L1241.1 298.8L1242.8 298.8L1244.6 298.7L1246.4 298.7L1248.2 298.6L1249.9 298.6L1251.7 298.5L1253.5 298.5L1255.3 298.4L1257 298.4L1258.8 298.3L1260.6 298.3L1262.4 298.3L1264.1 298.2L1265.9 298.2L1267.7 298.2L1269.5 298.1L1271.2 298.1L1273 298.1L1274.8 298.1L1276.6 298L1278.3 298L1280.1 298L1281.9 298L1283.6 298L1285.4 297.9L1287.2 297.9L1289 297.9L1290.7 297.9L1292.5 297.9L1294.3 297.9L1296.1 297.9L1297.8 297.9L1299.6 297.9L1301.4 297.9L1303.2 297.9L1304.9 297.9L1306.7 297.9L1308.5 297.9L1310.3 297.9L1312 297.9L1313.8 297.9L1315.6 298L1317.4 298L1319.1 298L1320.9 298L1322.7 298L1324.5 298L1326.2 298.1L1328 298.1L1329.8 298.1L1331.6 298.2L1333.3 298.2L1335.1 298.2L1336.9 298.3L1338.7 298.3L1340.4 298.3L1342.2 298.4L1344 298.4L1345.8 298.4L1347.5 298.5L1349.3 298.5L1351.1 298.6L1352.9 298.6L1354.6 298.7L1356.4 298.8L1358.2 298.8L1360 298.9L1361.7 298.9L1363.5 299L1365.3 299.1L1367.1 299.1L1368.8 299.2L1370.6 299.3L1372.4 299.3L1374.2 299.4L1375.9 299.5L1377.7 299.6L1379.5 299.7L1381.3 299.8L1383 299.8L1384.8 299.9L1386.6 300L1388.4 300.1L1390.1 300.2L1391.9 300.3L1393.7 300.4L1395.5 300.5L1397.2 300.7L1399 300.8L1400.8 300.9L1402.6 301L1404.3 301.1L1406.1 301.3L1407.9 301.4L1409.7 301.5L1411.4 301.7L1413.2 301.8L1415 301.9L1416.8 302.1L1418.5 302.2L1420.3 302.4L1422.1 302.6L1423.9 302.7L1425.6 302.9L1427.4 303.1L1429.2 303.2L1431 303.4L1432.7 303.6L1434.5 303.8L1436.3 304L1438.1 304.2L1439.8 304.4L1441.6 304.6L1443.4 304.8L1445.2 305L1446.9 305.3L1448.7 305.5L1450.5 305.7L1452.3 306L1454 306.2L1455.8 306.5L1457.6 306.8L1459.4 307L1461.1 307.3L1462.9 307.6L1464.7 307.9L1466.4 308.2L1468.2 308.5L1470 308.8L1471.8 309.1L1473.5 309.4L1475.3 309.8L1477.1 310.1L1478.9 310.5L1480.6 310.9L1482.4 311.2L1484.2 311.6L1486 312L1487.7 312.4L1489.5 312.8L1491.3 313.2L1493.1 313.7L1494.8 314.1L1496.6 314.6L1498.4 315.1L1500.2 315.6L1501.9 316L1503.7 316.6L1505.5 317.1L1507.3 317.6L1509 318.2L1510.8 318.7L1512.6 319.3L1514.4 319.9L1516.1 320.5L1517.9 321.2L1519.7 321.8L1521.5 322.5L1523.2 323.2L1525 323.9L1526.8 324.6L1528.6 325.4L1530.3 326.1L1532.1 326.9L1533.9 327.7L1535.7 328.5L1537.4 329.4L1539.2 330.3L1541 331.2L1542.8 332.1L1544.5 333.1L1546.3 334.1L1548.1 335.1L1549.9 336.1L1551.6 337.2L1553.4 338.3L1555.2 339.5L1557 340.6L1558.7 341.8L1560.5 343.1L1562.3 344.4L1564.1 345.7L1565.8 347L1567.6 348.4L1569.4 349.9L1571.2 351.4L1572.9 352.9L1574.7 354.5L1576.5 356.1L1578.3 357.8L1580 359.5L1581.8 361.3L1583.6 363.2L1585.4 365.1L1587.1 367L1588.9 369L1590.7 371.1L1592.5 373.3L1594.2 375.5L1596 377.8L1597.8 380.2L1599.6 382.6L1601.3 385.2L1603.1 387.8L1604.9 390.5L1606.7 393.3L1608.4 396.1L1610.2 399.1L1612 402.2L1613.8 405.4L1615.5 408.6L1617.3 412L1619.1 415.6L1620.9 419.2L1622.6 422.9L1624.4 426.8L1626.2 430.9L1628 435L1629.7 439.3L1631.5 443.8L1633.3 448.4L1635.1 453.2L1636.8 458.1L1638.6 463.2L1640.4 468.5L1642.2 474L1643.9 479.7L1645.7 485.6" stroke="#000" stroke-width="2.6" fill="none" stroke-dasharray="11.2 11.65" stroke-dashoffset="3.2"/><path d="M1299.8 107V461.7M900.2 284.2H1681.9" stroke="#AEAEAE" stroke-width="2.84" fill="none"/></g><rect x="102.9" y="475.9" width="781.9" height="45" fill="#CFCFCF"/><text x="493.8" y="507.9" font-size="23.47" fill="#0D0D0D" text-anchor="middle">(81,160]</text><g clip-path="url(#cp10)"><rect x="102.9" y="520.9" width="781.9" height="354.7" fill="#E5E5E5"/><path d="M209.3 520.9V875.6M405 520.9V875.6M600.7 520.9V875.6M796.4 520.9V875.6M102.9 816H884.8M102.9 737.7H884.8M102.9 659.4H884.8M102.9 581.1H884.8" stroke="#fff" stroke-width="1.42" fill="none"/><path d="M111.5 520.9V875.6M307.2 520.9V875.6M502.9 520.9V875.6M698.5 520.9V875.6M102.9 855.1H884.8M102.9 776.8H884.8M102.9 698.5H884.8M102.9 620.3H884.8M102.9 542H884.8" stroke="#fff" stroke-width="2.84" fill="none"/><path d="M277.7 709.2h0M281.8 709.2h0M285.6 710.6h0M289.1 712.7h0M292.3 714.7h0M295.4 714.8h0M298.2 715.8h0M300.9 716.7h0M303.4 715.5h0M305.8 715.6h0M308.1 714.1h0M310.3 713.3h0M312.4 713.5h0M314.4 713.9h0M316.3 714.1h0M318.2 715.6h0M320 717h0M321.7 717.2h0M323.4 716.9h0M325 717.6h0M326.6 717.6h0M328.2 717.2h0M329.7 717.9h0M331.1 717h0M332.5 717.6h0M333.9 717.5h0M335.3 716.5h0M336.6 715.1h0M337.9 714.4h0M339.2 713h0M340.4 711.1h0M341.6 710.6h0M342.8 710h0M344 708.9h0M345.1 710.4h0M346.2 710.7h0M347.3 709.5h0M348.4 710.5h0M349.5 710.7h0M350.5 710.8h0M351.5 710.2h0M352.5 711.6h0M353.5 710.7h0M354.5 710.5h0M355.5 711.4h0M356.4 711.2h0M357.4 710.6h0M358.3 711h0M359.2 710.4h0M361 710.2h0M362.7 711.4h0M364.4 709.9h0M366.1 710.5h0M367.7 711.3h0M369.3 709.8h0M370.9 710h0M372.4 710.7h0M373.9 710.9h0M375.3 711h0M376.7 710.5h0M378.1 708.7h0M379.5 708.2h0M380.9 708.7h0M382.2 707.4h0M383.5 708.2h0M384.8 707.9h0M386.1 707.5h0M387.3 707.6h0M388.6 706.2h0M389.8 707.5h0M391 706.7h0M392.1 706.6h0M393.3 707.3h0M394.4 705.8h0M395.6 707.1h0M396.7 706.5h0M397.8 706.8h0M398.9 708.2h0M400 707.7h0M401 709.5h0M402.1 709.2h0M403.1 709.7h0M404.2 709.1h0M405.2 710.2h0M406.2 709.8h0M407.2 710.4h0M408.2 710.5h0M409.2 711.4h0M410.1 711.8h0M411.1 712.3h0M412.1 711.5h0M413 712h0M413.9 711.8h0M414.9 712.3h0M415.8 711.7h0M416.7 712.4h0M417.6 712.6h0M418.9 712.5h0M420.3 712h0M421.6 711.5h0M422.9 711.5h0M424.2 711.7h0M425.4 712.3h0M426.7 710.9h0M428 711.6h0M429.2 710.9h0M430.4 711.7h0M431.6 710.6h0M432.8 711.7h0M434 710.4h0M435.2 711h0M436.4 710.6h0M437.5 710.3h0M438.7 710.9h0M439.8 710.3h0M441 710h0M442.1 710h0M443.2 709.4h0M444.3 708.8h0M445.4 709.9h0M446.5 709.5h0M447.6 708.9h0M448.7 708h0M449.8 709.2h0M450.8 708.4h0M451.9 709h0M452.9 708.1h0M454 708.9h0M455 709.4h0M456.1 708.3h0M457.1 708.3h0M458.1 709.7h0M459.2 709.6h0M460.2 709h0M461.2 708.6h0M462.2 709.3h0M463.2 709.2h0M464.2 708.8h0M465.2 709.2h0M466.2 709.6h0M467.2 709.3h0M468.2 710.4h0M469.2 709.6h0M470.2 710.1h0M471.1 709.4h0M472.1 710h0M473.1 709.7h0M474.1 709.4h0M475 709.7h0M476 709.6h0M476.9 710.7h0M477.9 709.7h0M478.9 710.3h0M479.8 710.6h0M480.8 710.5h0M481.7 710.5h0M482.7 711h0M483.6 710.9h0M484.5 710.3h0M485.5 711.6h0M486.4 710.4h0M487.4 711.5h0M488.3 711.3h0M489.2 712h0M490.2 711.4h0M491.1 711.2h0M492 711.1h0M493 712.1h0M493.9 711.8h0M494.8 711.4h0M495.7 712.7h0M496.7 711.7h0M497.6 712.3h0M498.5 711.9h0M499.5 712.6h0M500.4 712.4h0M501.3 711.7h0M502.2 712.1h0M503.2 713.1h0M504.1 712.6h0M505 712.5h0M505.9 713h0M506.9 713.3h0M507.8 712.4h0M508.7 712.6h0M509.6 712.8h0M510.6 713h0M511.5 713.1h0M512.4 713h0M513.4 714.3h0M514.3 714.5h0M515.2 714.6h0M516.2 713.1h0M517.1 713.4h0M518 714.6h0M519 714.6h0M519.9 714.7h0M520.8 715.1h0M521.8 714h0M522.7 714.6h0M523.7 713.9h0M524.6 714.1h0M525.6 713.8h0M526.5 713.8h0M527.5 714.3h0M528.4 714.8h0M529.4 713.3h0M530.4 714.6h0M531.3 713.3h0M532.3 713.1h0M533.3 714.3h0M534.2 712.8h0M535.2 712.9h0M536.2 713.4h0M537.2 713.4h0M538.2 713.2h0M539.1 712.5h0M540.1 712.6h0M541.1 712.4h0M542.1 712.9h0M543.1 713.3h0M544.2 711.8h0M545.2 711.5h0M546.2 709.8h0M547.2 710h0M548.2 708.3h0M549.3 707.3h0M550.3 706.4h0M551.4 705.2h0M552.4 704h0M553.5 703.6h0M554.5 702.1h0M555.6 704.7h0M556.7 704.4h0M557.7 703.2h0M558.8 701.9h0M559.9 701.8h0M561 700.3h0M562.1 699.2h0M563.2 698.6h0M564.4 698.2h0M565.5 696.7h0M566.6 698.1h0M567.8 698.2h0M568.9 698h0M570.1 697.1h0M571.3 698h0M572.5 698h0M573.7 698.2h0M574.9 696.7h0M576.1 698.1h0M577.3 697.2h0M578.6 696.8h0M579.8 697.4h0M581.1 697.1h0M582.4 696.7h0M583.7 696.8h0M585 697.9h0M586.3 697.6h0M587.6 696.8h0M588.5 697.5h0M589.5 697.6h0M590.4 697.8h0M591.3 697.2h0M592.2 697.5h0M593.2 696.7h0M594.1 697.4h0M595.1 697.6h0M596 697.3h0M597 696.9h0M598 697.9h0M599 698h0M600 697.6h0M601 696.3h0M602 696.8h0M603.1 696.1h0M604.1 697.6h0M605.2 696.3h0M606.3 697.2h0M607.4 695.9h0M608.4 696.2h0M609.6 695.7h0M610.7 696.1h0M611.8 696.9h0M613 695.4h0M614.2 695.4h0M615.3 696h0M616.5 695.9h0M617.8 696.3h0M619 695.7h0M620.3 695.4h0M621.5 696.2h0M622.8 695.7h0M624.2 695.3h0M625.5 696h0M626.9 695.8h0M628.2 695.5h0M629.7 695.4h0M631.1 694.7h0M632.6 694.4h0M634.1 694.6h0M635.6 695.1h0M637.2 693.5h0M638.8 694.1h0M640.4 693.9h0M642.1 694.6h0M643.8 693.3h0M645.6 694.3h0M647.4 693.1h0M648.3 692.1h0M649.3 688.2h0M650.2 684.4h0M651.2 685.3h0M652.2 684.7h0M653.2 684.8h0M654.2 684.9h0M655.2 683.9h0M656.2 683.4h0M657.3 683.9h0M658.4 682.8h0M659.5 683.6h0M660.6 682.5h0M661.7 681.9h0M662.9 682h0M664.1 681.5h0M665.3 681.3h0M666.5 682.2h0M667.8 681.6h0M669.1 680.9h0M670.4 681h0M671.8 679.9h0M673.2 680.2h0M674.6 680.4h0M676 679.1h0M677.5 679.2h0M679.1 678.4h0M680.7 678.3h0M682.3 678.2h0M684 677.4h0M685.7 676.5h0M687.5 677h0M689.4 676.3h0M691.3 674.9h0M693.3 675.6h0M695.4 675.5h0M697.6 673.9h0M699.9 673.4h0M702.3 673.6h0M704.8 672.8h0M707.5 672.7h0M710.3 673.2h0M713.4 671.8h0M716.6 671.4h0M720.1 669.1h0M723.9 668.2h0" stroke="#F65E54" stroke-opacity="0.95" stroke-width="12.3" stroke-linecap="round" fill="none"/><circle cx="187.2" cy="682.5" r="5.2" fill="#F65E54" fill-opacity="0.8" stroke="#F65E54" stroke-opacity="0.8" stroke-width="1.9"/><circle cx="219.4" cy="697.5" r="5.2" fill="#F65E54" fill-opacity="0.8" stroke="#F65E54" stroke-opacity="0.8" stroke-width="1.9"/><circle cx="235.5" cy="704" r="5.2" fill="#F65E54" fill-opacity="0.8" stroke="#F65E54" stroke-opacity="0.8" stroke-width="1.9"/><circle cx="246.5" cy="720" r="5.2" fill="#F65E54" fill-opacity="0.8" stroke="#F65E54" stroke-opacity="0.8" stroke-width="1.9"/><circle cx="255" cy="716" r="5.2" fill="#F65E54" fill-opacity="0.8" stroke="#F65E54" stroke-opacity="0.8" stroke-width="1.9"/><circle cx="262" cy="712" r="5.2" fill="#F65E54" fill-opacity="0.8" stroke="#F65E54" stroke-opacity="0.8" stroke-width="1.9"/><circle cx="267.9" cy="714" r="5.2" fill="#F65E54" fill-opacity="0.8" stroke="#F65E54" stroke-opacity="0.8" stroke-width="1.9"/><circle cx="273.1" cy="716" r="5.2" fill="#F65E54" fill-opacity="0.8" stroke="#F65E54" stroke-opacity="0.8" stroke-width="1.9"/><circle cx="818.5" cy="680.6" r="5.2" fill="#F65E54" fill-opacity="0.8" stroke="#F65E54" stroke-opacity="0.8" stroke-width="1.9"/><circle cx="786.3" cy="640" r="5.2" fill="#F65E54" fill-opacity="0.8" stroke="#F65E54" stroke-opacity="0.8" stroke-width="1.9"/><circle cx="770.2" cy="657.2" r="5.2" fill="#F65E54" fill-opacity="0.8" stroke="#F65E54" stroke-opacity="0.8" stroke-width="1.9"/><circle cx="759.2" cy="660" r="5.2" fill="#F65E54" fill-opacity="0.8" stroke="#F65E54" stroke-opacity="0.8" stroke-width="1.9"/><circle cx="750.7" cy="659.8" r="5.2" fill="#F65E54" fill-opacity="0.8" stroke="#F65E54" stroke-opacity="0.8" stroke-width="1.9"/><circle cx="743.7" cy="665" r="5.2" fill="#F65E54" fill-opacity="0.8" stroke="#F65E54" stroke-opacity="0.8" stroke-width="1.9"/><circle cx="737.8" cy="668" r="5.2" fill="#F65E54" fill-opacity="0.8" stroke="#F65E54" stroke-opacity="0.8" stroke-width="1.9"/><circle cx="732.6" cy="664" r="5.2" fill="#F65E54" fill-opacity="0.8" stroke="#F65E54" stroke-opacity="0.8" stroke-width="1.9"/><circle cx="728" cy="663" r="5.2" fill="#F65E54" fill-opacity="0.8" stroke="#F65E54" stroke-opacity="0.8" stroke-width="1.9"/><path d="M277.7 718.4h0M281.8 720.4h0M285.6 718.9h0M289.1 718h0M292.3 721.5h0M295.4 717.9h0M298.2 718.4h0M300.9 716.3h0M303.4 718.2h0M305.8 715.3h0M308.1 712.4h0M310.3 715.6h0M312.4 711.7h0M314.4 713.6h0M316.3 709.6h0M318.2 713.6h0M320 711.8h0M321.7 709.4h0M323.4 712.8h0M325 709.9h0M326.6 711.1h0M328.2 706.3h0M329.7 711.1h0M331.1 708.3h0M332.5 707.1h0M333.9 709.7h0M335.3 707.6h0M336.6 707.9h0M337.9 706.3h0M339.2 707.9h0M340.4 708.2h0M341.6 707.1h0M342.8 707.5h0M344 706.7h0M345.1 707.4h0M346.2 707.9h0M347.3 708.6h0M348.4 707.6h0M349.5 707.8h0M350.5 708.6h0M351.5 708.1h0M352.5 708.9h0M353.5 709.7h0M354.5 708.9h0M355.5 709h0M356.4 709.2h0M357.4 708.9h0M358.3 708.9h0M359.2 709.9h0M361 708.8h0M362.7 708.6h0M364.4 708.8h0M366.1 708.2h0M367.7 707.1h0M369.3 707.5h0M370.9 706.5h0M372.4 706.5h0M373.9 704.6h0M375.3 705.4h0M376.7 705.2h0M378.1 704.7h0M379.5 705.6h0M380.9 705.3h0M382.2 704.9h0M383.5 704.8h0M384.8 703.5h0M386.1 704.1h0M387.3 704.4h0M388.6 704.1h0M389.8 702.4h0M391 702.8h0M392.1 702.6h0M393.3 701.3h0M394.4 700.6h0M395.6 701.1h0M396.7 701.3h0M397.8 701.4h0M398.9 701.7h0M400 702.1h0M401 703.2h0M402.1 703.5h0M403.1 702.4h0M404.2 703.6h0M405.2 703.6h0M406.2 704.2h0M407.2 704.8h0M408.2 705.2h0M409.2 704.2h0M410.1 706h0M411.1 705.4h0M412.1 705.7h0M413 706.7h0M413.9 706.2h0M414.9 707.3h0M415.8 707.7h0M416.7 706.4h0M417.6 707.1h0M418.9 706.6h0M420.3 706.5h0M421.6 705.6h0M422.9 705.8h0M424.2 705.4h0M425.4 704.4h0M426.7 703.9h0M428 704.6h0M429.2 705.7h0M430.4 705.3h0M431.6 704.8h0M432.8 705.2h0M434 706.7h0M435.2 705.9h0M436.4 705.8h0M437.5 706.9h0M438.7 707.3h0M439.8 707.2h0M441 706.5h0M442.1 707h0M443.2 708h0M444.3 707.7h0M445.4 708h0M446.5 708.5h0M447.6 708.7h0M448.7 707.9h0M449.8 707.6h0M450.8 708.9h0M451.9 708.2h0M452.9 707.6h0M454 707.9h0M455 708.3h0M456.1 707.9h0M457.1 707h0M458.1 709.1h0M459.2 708.2h0M460.2 708.5h0M461.2 707.8h0M462.2 708.7h0M463.2 709.3h0M464.2 708.6h0M465.2 710.1h0M466.2 708.4h0M467.2 709.2h0M468.2 708.5h0M469.2 710.2h0M470.2 709.3h0M471.1 709.3h0M472.1 710.6h0M473.1 711.2h0M474.1 710.5h0M475 710.1h0M476 711.5h0M476.9 711.5h0M477.9 710.8h0M478.9 711.8h0M479.8 711.5h0M480.8 711.6h0M481.7 710.8h0M482.7 713.8h0M483.6 712.5h0M484.5 711.6h0M485.5 713.6h0M486.4 712h0M487.4 712.4h0M488.3 712.6h0M489.2 712.9h0M490.2 711.9h0M491.1 711.6h0M492 712.5h0M493 712.9h0M493.9 712.5h0M494.8 712.2h0M495.7 713.2h0M496.7 712.9h0M497.6 713.1h0M498.5 713.3h0M499.5 712.9h0M500.4 714h0M501.3 713.6h0M502.2 714h0M503.2 713.7h0M504.1 714.4h0M505 714.5h0M505.9 714h0M506.9 714.2h0M507.8 714.1h0M508.7 714h0M509.6 714.9h0M510.6 715h0M511.5 715.2h0M512.4 714.4h0M513.4 715.3h0M514.3 715.5h0M515.2 715.2h0M516.2 714.3h0M517.1 714.4h0M518 715.4h0M519 715.3h0M519.9 714.8h0M520.8 715.7h0M521.8 715h0M522.7 715.9h0M523.7 715.2h0M524.6 715.8h0M525.6 715h0M526.5 715.8h0M527.5 716.3h0M528.4 716h0M529.4 715.5h0M530.4 716.5h0M531.3 716h0M532.3 715.9h0M533.3 716.6h0M534.2 716.7h0M535.2 716h0M536.2 714.3h0M537.2 713.7h0M538.2 714h0M539.1 712.4h0M540.1 712.7h0M541.1 710.9h0M542.1 709.9h0M543.1 710.5h0M544.2 709.5h0M545.2 709.1h0M546.2 707.3h0M547.2 707.5h0M548.2 706.3h0M549.3 705.3h0M550.3 704.5h0M551.4 704.3h0M552.4 704.1h0M553.5 703.1h0M554.5 702.9h0M555.6 704h0M556.7 702.9h0M557.7 702.5h0M558.8 701.7h0M559.9 699.6h0M561 698.1h0M562.1 697.8h0M563.2 696.2h0M564.4 696.2h0M565.5 694.9h0M566.6 694.9h0M567.8 695.3h0M568.9 695h0M570.1 695.7h0M571.3 694.8h0M572.5 695.3h0M573.7 695.4h0M574.9 694.9h0M576.1 696.3h0M577.3 695.9h0M578.6 696.2h0M579.8 696.4h0M581.1 695.6h0M582.4 696.3h0M583.7 696.4h0M585 696.8h0M586.3 696.1h0M587.6 697.4h0M588.5 697.5h0M589.5 697h0M590.4 697.2h0M591.3 696.4h0M592.2 696.7h0M593.2 696.7h0M594.1 697.9h0M595.1 696.7h0M596 697.4h0M597 697.3h0M598 697.9h0M599 696.9h0M600 696.3h0M601 697.1h0M602 696.6h0M603.1 696.4h0M604.1 697h0M605.2 696.3h0M606.3 697h0M607.4 696.1h0M608.4 696.8h0M609.6 696.2h0M610.7 696.3h0M611.8 695.3h0M613 695.9h0M614.2 695.1h0M615.3 695.4h0M616.5 695.7h0M617.8 695.8h0M619 695h0M620.3 695.2h0M621.5 694.6h0M622.8 695.3h0M624.2 693.9h0M625.5 695h0M626.9 693.8h0M628.2 693.6h0M629.7 694.1h0M631.1 693.8h0M632.6 693h0M634.1 692.8h0M635.6 692.7h0M637.2 692.6h0M638.8 692.4h0M640.4 692.7h0M642.1 691.9h0M643.8 692.4h0M645.6 691.7h0M647.4 691.8h0M648.3 690h0M649.3 687.9h0M650.2 685.6h0M651.2 685.8h0M652.2 685.3h0M653.2 685.3h0M654.2 685.3h0M655.2 685.5h0M656.2 685.6h0M657.3 684.8h0M658.4 685.4h0M659.5 685.5h0M660.6 685h0M661.7 685.3h0M662.9 683.9h0M664.1 683.8h0M665.3 681.9h0M666.5 682.1h0M667.8 680.8h0M669.1 680.4h0M670.4 679.9h0M671.8 678h0M673.2 678.1h0M674.6 677.3h0M676 677.3h0M677.5 677.3h0M679.1 679.1h0M680.7 677.5h0M682.3 679.3h0M684 678h0M685.7 682.2h0M687.5 680.9h0M689.4 680.3h0M691.3 683.4h0M693.3 682.4h0M695.4 683.4h0M697.6 681.3h0M699.9 684.7h0M702.3 682.7h0M704.8 681.7h0M707.5 686.4h0M710.3 683.5h0M713.4 686.3h0M716.6 678.6h0M720.1 675.9h0M723.9 673.4h0" stroke="#8F9100" stroke-opacity="0.95" stroke-width="12.3" stroke-linecap="round" fill="none"/><circle cx="187.2" cy="682.5" r="5.2" fill="#8F9100" fill-opacity="0.8" stroke="#8F9100" stroke-opacity="0.8" stroke-width="1.9"/><circle cx="219.4" cy="692.8" r="5.2" fill="#8F9100" fill-opacity="0.8" stroke="#8F9100" stroke-opacity="0.8" stroke-width="1.9"/><circle cx="235.5" cy="701.2" r="5.2" fill="#8F9100" fill-opacity="0.8" stroke="#8F9100" stroke-opacity="0.8" stroke-width="1.9"/><circle cx="246.5" cy="717.8" r="5.2" fill="#8F9100" fill-opacity="0.8" stroke="#8F9100" stroke-opacity="0.8" stroke-width="1.9"/><circle cx="255" cy="725" r="5.2" fill="#8F9100" fill-opacity="0.8" stroke="#8F9100" stroke-opacity="0.8" stroke-width="1.9"/><circle cx="262" cy="722" r="5.2" fill="#8F9100" fill-opacity="0.8" stroke="#8F9100" stroke-opacity="0.8" stroke-width="1.9"/><circle cx="267.9" cy="729.4" r="5.2" fill="#8F9100" fill-opacity="0.8" stroke="#8F9100" stroke-opacity="0.8" stroke-width="1.9"/><circle cx="273.1" cy="727" r="5.2" fill="#8F9100" fill-opacity="0.8" stroke="#8F9100" stroke-opacity="0.8" stroke-width="1.9"/><circle cx="818.5" cy="687.9" r="5.2" fill="#8F9100" fill-opacity="0.8" stroke="#8F9100" stroke-opacity="0.8" stroke-width="1.9"/><circle cx="786.3" cy="652.5" r="5.2" fill="#8F9100" fill-opacity="0.8" stroke="#8F9100" stroke-opacity="0.8" stroke-width="1.9"/><circle cx="770.2" cy="655" r="5.2" fill="#8F9100" fill-opacity="0.8" stroke="#8F9100" stroke-opacity="0.8" stroke-width="1.9"/><circle cx="759.2" cy="654" r="5.2" fill="#8F9100" fill-opacity="0.8" stroke="#8F9100" stroke-opacity="0.8" stroke-width="1.9"/><circle cx="750.7" cy="655.6" r="5.2" fill="#8F9100" fill-opacity="0.8" stroke="#8F9100" stroke-opacity="0.8" stroke-width="1.9"/><circle cx="743.7" cy="674.4" r="5.2" fill="#8F9100" fill-opacity="0.8" stroke="#8F9100" stroke-opacity="0.8" stroke-width="1.9"/><circle cx="737.8" cy="671.2" r="5.2" fill="#8F9100" fill-opacity="0.8" stroke="#8F9100" stroke-opacity="0.8" stroke-width="1.9"/><circle cx="732.6" cy="669" r="5.2" fill="#8F9100" fill-opacity="0.8" stroke="#8F9100" stroke-opacity="0.8" stroke-width="1.9"/><circle cx="728" cy="668" r="5.2" fill="#8F9100" fill-opacity="0.8" stroke="#8F9100" stroke-opacity="0.8" stroke-width="1.9"/><path d="M277.7 694.9h0M281.8 702.8h0M285.6 701.7h0M289.1 703.2h0M292.3 702.8h0M295.4 703.8h0M298.2 704.3h0M300.9 704h0M303.4 703.4h0M305.8 701.6h0M308.1 699.5h0M310.3 699h0M312.4 696.8h0M314.4 697.5h0M316.3 698h0M318.2 698.6h0M320 698.9h0M321.7 699.5h0M323.4 698.9h0M325 698.1h0M326.6 698.1h0M328.2 699.4h0M329.7 698.3h0M331.1 698.9h0M332.5 697.8h0M333.9 698.9h0M335.3 698.3h0M336.6 697.9h0M337.9 697.7h0M339.2 697.9h0M340.4 697.9h0M341.6 697.7h0M342.8 698.2h0M344 695.7h0M345.1 694.6h0M346.2 693.7h0M347.3 692.3h0M348.4 691h0M349.5 690h0M350.5 689.4h0M351.5 692.7h0M352.5 691h0M353.5 690h0M354.5 689.1h0M355.5 688.2h0M356.4 689.2h0M357.4 689.3h0M358.3 688.2h0M359.2 688h0M361 687.8h0M362.7 687.9h0M364.4 689h0M366.1 688.6h0M367.7 689.6h0M369.3 689.3h0M370.9 687.7h0M372.4 689.3h0M373.9 689.3h0M375.3 690.6h0M376.7 689.2h0M378.1 690h0M379.5 688.7h0M380.9 689h0M382.2 689.1h0M383.5 688.7h0M384.8 689.2h0M386.1 689.1h0M387.3 688.4h0M388.6 688h0M389.8 688.1h0M391 689h0M392.1 689.4h0M393.3 690.1h0M394.4 690.9h0M395.6 691.2h0M396.7 691.2h0M397.8 691.5h0M398.9 691.6h0M400 692.7h0M401 693.2h0M402.1 693.7h0M403.1 693h0M404.2 693.4h0M405.2 693.6h0M406.2 694h0M407.2 695.4h0M408.2 696.5h0M409.2 696.5h0M410.1 696.9h0M411.1 697.5h0M412.1 697.7h0M413 699.4h0M413.9 698.6h0M414.9 699.6h0M415.8 700.6h0M416.7 700.1h0M417.6 701.8h0M418.9 702.2h0M420.3 702.1h0M421.6 702.7h0M422.9 703h0M424.2 702.3h0M425.4 703.3h0M426.7 704.3h0M428 703.9h0M429.2 703.5h0M430.4 704h0M431.6 704.4h0M432.8 704.7h0M434 705.4h0M435.2 705.1h0M436.4 704.5h0M437.5 705.5h0M438.7 704.6h0M439.8 704.5h0M441 704.7h0M442.1 705.2h0M443.2 705.4h0M444.3 705.9h0M445.4 705.5h0M446.5 705.9h0M447.6 705.9h0M448.7 706.4h0M449.8 711.4h0M450.8 709.1h0M451.9 711.7h0M452.9 708h0M454 712.9h0M455 710h0M456.1 708.7h0M457.1 713h0M458.1 710.2h0M459.2 712.5h0M460.2 707.5h0M461.2 713.1h0M462.2 710.6h0M463.2 710.2h0M464.2 713.6h0M465.2 710h0M466.2 712.8h0M467.2 710.1h0M468.2 712.5h0M469.2 710.9h0M470.2 710.4h0M471.1 712.7h0M472.1 711h0M473.1 712h0M474.1 711.1h0M475 712.1h0M476 711h0M476.9 711.9h0M477.9 712h0M478.9 712.1h0M479.8 711.6h0M480.8 711.8h0M481.7 712h0M482.7 711.4h0M483.6 711.7h0M484.5 711.6h0M485.5 711.2h0M486.4 712.2h0M487.4 711.6h0M488.3 711.4h0M489.2 711.6h0M490.2 710.6h0M491.1 710.7h0M492 712h0M493 711.6h0M493.9 711.3h0M494.8 710.9h0M495.7 711.7h0M496.7 712.3h0M497.6 711.4h0M498.5 712.8h0M499.5 712.5h0M500.4 712.1h0M501.3 712h0M502.2 711.8h0M503.2 712.6h0M504.1 713.2h0M505 712.8h0M505.9 713.2h0M506.9 713.9h0M507.8 713h0M508.7 713.9h0M509.6 713.7h0M510.6 713.8h0M511.5 714.6h0M512.4 714h0M513.4 714.7h0M514.3 713.5h0M515.2 715.5h0M516.2 714.5h0M517.1 715.5h0M518 715.5h0M519 714.4h0M519.9 715.7h0M520.8 714.5h0M521.8 716.1h0M522.7 714.8h0M523.7 716.3h0M524.6 715.3h0M525.6 714.9h0M526.5 715.5h0M527.5 716.1h0M528.4 715.1h0M529.4 715.5h0M530.4 716.2h0M531.3 715.2h0M532.3 715.8h0M533.3 714.8h0M534.2 715h0M535.2 714.5h0M536.2 715.1h0M537.2 713.6h0M538.2 714.4h0M539.1 713h0M540.1 713.6h0M541.1 713.3h0M542.1 712.4h0M543.1 712.2h0M544.2 712.9h0M545.2 711.3h0M546.2 711.7h0M547.2 711.4h0M548.2 709.8h0M549.3 709.5h0M550.3 710.3h0M551.4 708.5h0M552.4 708.6h0M553.5 707.4h0M554.5 707.1h0M555.6 704.7h0M556.7 701.7h0M557.7 701.5h0M558.8 697.6h0M559.9 697h0M561 696.5h0M562.1 695.6h0M563.2 695.3h0M564.4 695.4h0M565.5 695.5h0M566.6 694.3h0M567.8 694.7h0M568.9 694.4h0M570.1 694.8h0M571.3 694.7h0M572.5 693.2h0M573.7 693.8h0M574.9 692.9h0M576.1 692.9h0M577.3 693.6h0M578.6 694h0M579.8 694.6h0M581.1 694.4h0M582.4 695.1h0M583.7 694.7h0M585 695.2h0M586.3 695.2h0M587.6 695.4h0M588.5 696.2h0M589.5 695h0M590.4 695.6h0M591.3 695h0M592.2 695h0M593.2 695.1h0M594.1 695.4h0M595.1 696.2h0M596 696h0M597 695.6h0M598 696.8h0M599 696.9h0M600 697.9h0M601 697.5h0M602 698.7h0M603.1 698.9h0M604.1 697.9h0M605.2 698.7h0M606.3 700.2h0M607.4 700h0M608.4 699.1h0M609.6 698.7h0M610.7 698.7h0M611.8 699.1h0M613 697.5h0M614.2 698.4h0M615.3 697.6h0M616.5 697.9h0M617.8 698.9h0M619 699.9h0M620.3 701.1h0M621.5 701.7h0M622.8 703.6h0M624.2 699.3h0M625.5 700.6h0M626.9 702.7h0M628.2 702h0M629.7 703h0M631.1 702.3h0M632.6 702.5h0M634.1 702.3h0M635.6 702.8h0M637.2 702h0M638.8 702.3h0M640.4 703.1h0M642.1 703.5h0M643.8 703.2h0M645.6 703.4h0M647.4 704.2h0M648.3 702.8h0M649.3 703.2h0M650.2 703.4h0M651.2 702.6h0M652.2 701.9h0M653.2 701.1h0M654.2 700.3h0M655.2 701h0M656.2 699.8h0M657.3 699.9h0M658.4 699.6h0M659.5 698.6h0M660.6 697.7h0M661.7 698.4h0M662.9 697.9h0M664.1 698.2h0M665.3 698.3h0M666.5 700.2h0M667.8 699.3h0M669.1 700h0M670.4 699.8h0M671.8 699.4h0M673.2 698.4h0M674.6 698h0M676 697.2h0M677.5 697h0M679.1 696.6h0M680.7 695.6h0M682.3 695h0M684 693.8h0M685.7 692.3h0M687.5 690.6h0M689.4 690h0M691.3 688h0M693.3 687.1h0M695.4 685.2h0M697.6 682.8h0M699.9 681.1h0M702.3 678.9h0M704.8 678.5h0M707.5 676.8h0M710.3 675.9h0M713.4 676.9h0M716.6 682.6h0M720.1 688.9h0M723.9 693.5h0" stroke="#00AF65" stroke-opacity="0.95" stroke-width="12.3" stroke-linecap="round" fill="none"/><circle cx="187.2" cy="686.2" r="5.2" fill="#00AF65" fill-opacity="0.8" stroke="#00AF65" stroke-opacity="0.8" stroke-width="1.9"/><circle cx="219.4" cy="735" r="5.2" fill="#00AF65" fill-opacity="0.8" stroke="#00AF65" stroke-opacity="0.8" stroke-width="1.9"/><circle cx="235.5" cy="736" r="5.2" fill="#00AF65" fill-opacity="0.8" stroke="#00AF65" stroke-opacity="0.8" stroke-width="1.9"/><circle cx="246.5" cy="736.5" r="5.2" fill="#00AF65" fill-opacity="0.8" stroke="#00AF65" stroke-opacity="0.8" stroke-width="1.9"/><circle cx="255" cy="720" r="5.2" fill="#00AF65" fill-opacity="0.8" stroke="#00AF65" stroke-opacity="0.8" stroke-width="1.9"/><circle cx="262" cy="700" r="5.2" fill="#00AF65" fill-opacity="0.8" stroke="#00AF65" stroke-opacity="0.8" stroke-width="1.9"/><circle cx="267.9" cy="695" r="5.2" fill="#00AF65" fill-opacity="0.8" stroke="#00AF65" stroke-opacity="0.8" stroke-width="1.9"/><circle cx="273.1" cy="690" r="5.2" fill="#00AF65" fill-opacity="0.8" stroke="#00AF65" stroke-opacity="0.8" stroke-width="1.9"/><circle cx="818.5" cy="692.6" r="5.2" fill="#00AF65" fill-opacity="0.8" stroke="#00AF65" stroke-opacity="0.8" stroke-width="1.9"/><circle cx="786.3" cy="648.9" r="5.2" fill="#00AF65" fill-opacity="0.8" stroke="#00AF65" stroke-opacity="0.8" stroke-width="1.9"/><circle cx="770.2" cy="660.3" r="5.2" fill="#00AF65" fill-opacity="0.8" stroke="#00AF65" stroke-opacity="0.8" stroke-width="1.9"/><circle cx="759.2" cy="666" r="5.2" fill="#00AF65" fill-opacity="0.8" stroke="#00AF65" stroke-opacity="0.8" stroke-width="1.9"/><circle cx="750.7" cy="669.7" r="5.2" fill="#00AF65" fill-opacity="0.8" stroke="#00AF65" stroke-opacity="0.8" stroke-width="1.9"/><circle cx="743.7" cy="685.8" r="5.2" fill="#00AF65" fill-opacity="0.8" stroke="#00AF65" stroke-opacity="0.8" stroke-width="1.9"/><circle cx="737.8" cy="694" r="5.2" fill="#00AF65" fill-opacity="0.8" stroke="#00AF65" stroke-opacity="0.8" stroke-width="1.9"/><circle cx="732.6" cy="692" r="5.2" fill="#00AF65" fill-opacity="0.8" stroke="#00AF65" stroke-opacity="0.8" stroke-width="1.9"/><circle cx="728" cy="692" r="5.2" fill="#00AF65" fill-opacity="0.8" stroke="#00AF65" stroke-opacity="0.8" stroke-width="1.9"/><path d="M277.7 679.7h0M281.8 681.2h0M285.6 679.9h0M289.1 679.5h0M292.3 678.9h0M295.4 675.4h0M298.2 673.6h0M300.9 671.2h0M303.4 670.9h0M305.8 672.2h0M308.1 673.5h0M310.3 674.9h0M312.4 675h0M314.4 675.6h0M316.3 675.8h0M318.2 677h0M320 676.3h0M321.7 677.2h0M323.4 677.3h0M325 678h0M326.6 678h0M328.2 679.3h0M329.7 679.4h0M331.1 679.2h0M332.5 680.1h0M333.9 681.6h0M335.3 681.8h0M336.6 682.9h0M337.9 683.4h0M339.2 684.1h0M340.4 684.9h0M341.6 685.4h0M342.8 685.1h0M344 685.8h0M345.1 687.3h0M346.2 687.1h0M347.3 688.8h0M348.4 689.3h0M349.5 691.7h0M350.5 691.5h0M351.5 695.7h0M352.5 694h0M353.5 696.5h0M354.5 692.8h0M355.5 700.1h0M356.4 696.8h0M357.4 694.4h0M358.3 699.7h0M359.2 695.8h0M361 697.9h0M362.7 695.4h0M364.4 699.1h0M366.1 698.8h0M367.7 698.1h0M369.3 699.7h0M370.9 698.8h0M372.4 700.1h0M373.9 700h0M375.3 699.9h0M376.7 699.6h0M378.1 698.5h0M379.5 696.5h0M380.9 695.9h0M382.2 694.2h0M383.5 694h0M384.8 692.2h0M386.1 691.8h0M387.3 691.9h0M388.6 691.4h0M389.8 691.6h0M391 691.2h0M392.1 690.6h0M393.3 690.9h0M394.4 690h0M395.6 690.8h0M396.7 689.2h0M397.8 688.4h0M398.9 692.2h0M400 691.6h0M401 691.3h0M402.1 689.9h0M403.1 689.3h0M404.2 690h0M405.2 688.7h0M406.2 689.1h0M407.2 689.5h0M408.2 689.6h0M409.2 688.8h0M410.1 688.4h0M411.1 689h0M412.1 689.9h0M413 688.5h0M413.9 689.7h0M414.9 689.3h0M415.8 690h0M416.7 688.6h0M417.6 688.5h0M418.9 689.2h0M420.3 688.6h0M421.6 688.5h0M422.9 688.3h0M424.2 687.7h0M425.4 686.5h0M426.7 686.7h0M428 686.4h0M429.2 686.4h0M430.4 686.9h0M431.6 686.8h0M432.8 687.5h0M434 687.7h0M435.2 687.9h0M436.4 686.9h0M437.5 687.4h0M438.7 688.3h0M439.8 687.4h0M441 687.8h0M442.1 687.8h0M443.2 688.1h0M444.3 687.9h0M445.4 687.5h0M446.5 687.6h0M447.6 689h0M448.7 688.9h0M449.8 693.4h0M450.8 691.3h0M451.9 690.4h0M452.9 694.2h0M454 691.5h0M455 693.6h0M456.1 689.5h0M457.1 694.8h0M458.1 692.3h0M459.2 691.4h0M460.2 694.4h0M461.2 692.7h0M462.2 694.9h0M463.2 693.3h0M464.2 697.5h0M465.2 696.4h0M466.2 696.7h0M467.2 697.9h0M468.2 698.1h0M469.2 699.1h0M470.2 699.4h0M471.1 701.2h0M472.1 700.2h0M473.1 701h0M474.1 700.5h0M475 701.2h0M476 701.5h0M476.9 701.9h0M477.9 701.5h0M478.9 701.3h0M479.8 701.6h0M480.8 701.7h0M481.7 702.4h0M482.7 702.7h0M483.6 702.9h0M484.5 702.2h0M485.5 703.4h0M486.4 703.1h0M487.4 703.5h0M488.3 702.5h0M489.2 702.7h0M490.2 704.3h0M491.1 702.9h0M492 704.4h0M493 703.4h0M493.9 703.8h0M494.8 704.3h0M495.7 703.9h0M496.7 702.9h0M497.6 702.5h0M498.5 702.8h0M499.5 703.6h0M500.4 703.2h0M501.3 702.9h0M502.2 703h0M503.2 702.7h0M504.1 702.3h0M505 703h0M505.9 702.4h0M506.9 702.6h0M507.8 702.1h0M508.7 702.9h0M509.6 702.9h0M510.6 702.3h0M511.5 702.1h0M512.4 701.9h0M513.4 702.1h0M514.3 703.1h0M515.2 701.9h0M516.2 702.5h0M517.1 702.8h0M518 703.1h0M519 703.1h0M519.9 702.5h0M520.8 702.9h0M521.8 701.8h0M522.7 702.3h0M523.7 701.8h0M524.6 701h0M525.6 703h0M526.5 702h0M527.5 700.5h0M528.4 700.1h0M529.4 698.8h0M530.4 698h0M531.3 698h0M532.3 696.6h0M533.3 696.5h0M534.2 696.7h0M535.2 694.7h0M536.2 696.4h0M537.2 695.3h0M538.2 696.2h0M539.1 696.5h0M540.1 695.3h0M541.1 695.1h0M542.1 695.3h0M543.1 694.9h0M544.2 695h0M545.2 695h0M546.2 695.2h0M547.2 695.7h0M548.2 696.4h0M549.3 696.3h0M550.3 696.5h0M551.4 696.9h0M552.4 696.6h0M553.5 697.1h0M554.5 696.3h0M555.6 696.6h0M556.7 697.9h0M557.7 698.4h0M558.8 697.9h0M559.9 699.1h0M561 699.4h0M562.1 698.5h0M563.2 699.3h0M564.4 699.9h0M565.5 699.6h0M566.6 699.8h0M567.8 700h0M568.9 698.9h0M570.1 700.5h0M571.3 699.4h0M572.5 701.1h0M573.7 700.2h0M574.9 699.8h0M576.1 700.2h0M577.3 699.9h0M578.6 699.4h0M579.8 698.4h0M581.1 700.1h0M582.4 699.2h0M583.7 699h0M585 699.9h0M586.3 699.6h0M587.6 700.3h0M588.5 698.2h0M589.5 701.3h0M590.4 699.5h0M591.3 698.5h0M592.2 700.5h0M593.2 699.8h0M594.1 700.2h0M595.1 699.2h0M596 700.4h0M597 697.8h0M598 694.5h0M599 695.9h0M600 692.5h0M601 691.1h0M602 688.8h0M603.1 692.4h0M604.1 689.3h0M605.2 686.3h0M606.3 689.7h0M607.4 687.6h0M608.4 687.8h0M609.6 685.5h0M610.7 687.6h0M611.8 686.6h0M613 684.3h0M614.2 686.6h0M615.3 683.9h0M616.5 684.7h0M617.8 683.9h0M619 685.1h0M620.3 683.6h0M621.5 684.3h0M622.8 685.2h0M624.2 683.1h0M625.5 684.2h0M626.9 683.7h0M628.2 685.1h0M629.7 683.6h0M631.1 684.6h0M632.6 685.3h0M634.1 684.2h0M635.6 684.8h0M637.2 684.9h0M638.8 685.8h0M640.4 684.8h0M642.1 684.9h0M643.8 685.4h0M645.6 685.4h0M647.4 685h0M648.3 686.1h0M649.3 684.8h0M650.2 685.9h0M651.2 686h0M652.2 686.7h0M653.2 686.4h0M654.2 686.3h0M655.2 686.2h0M656.2 686.6h0M657.3 686.9h0M658.4 687h0M659.5 687.8h0M660.6 688.2h0M661.7 688.2h0M662.9 687.7h0M664.1 689.2h0M665.3 688h0M666.5 689.5h0M667.8 689h0M669.1 688.9h0M670.4 690h0M671.8 690h0M673.2 689.4h0M674.6 690.2h0M676 690.4h0M677.5 690.3h0M679.1 691.2h0M680.7 690.6h0M682.3 691.9h0M684 691.3h0M685.7 691.1h0M687.5 690.6h0M689.4 689.3h0M691.3 689.4h0M693.3 689.8h0M695.4 689.3h0M697.6 689.5h0M699.9 690h0M702.3 689.3h0M704.8 688.4h0M707.5 687.9h0M710.3 688.1h0M713.4 687.1h0M716.6 685h0M720.1 683.8h0M723.9 683.3h0" stroke="#009DF3" stroke-opacity="0.95" stroke-width="12.3" stroke-linecap="round" fill="none"/><circle cx="187.2" cy="612.2" r="5.2" fill="#009DF3" fill-opacity="0.8" stroke="#009DF3" stroke-opacity="0.8" stroke-width="1.9"/><circle cx="219.4" cy="656.2" r="5.2" fill="#009DF3" fill-opacity="0.8" stroke="#009DF3" stroke-opacity="0.8" stroke-width="1.9"/><circle cx="235.5" cy="677.2" r="5.2" fill="#009DF3" fill-opacity="0.8" stroke="#009DF3" stroke-opacity="0.8" stroke-width="1.9"/><circle cx="246.5" cy="691.9" r="5.2" fill="#009DF3" fill-opacity="0.8" stroke="#009DF3" stroke-opacity="0.8" stroke-width="1.9"/><circle cx="255" cy="705.6" r="5.2" fill="#009DF3" fill-opacity="0.8" stroke="#009DF3" stroke-opacity="0.8" stroke-width="1.9"/><circle cx="262" cy="683.4" r="5.2" fill="#009DF3" fill-opacity="0.8" stroke="#009DF3" stroke-opacity="0.8" stroke-width="1.9"/><circle cx="267.9" cy="680" r="5.2" fill="#009DF3" fill-opacity="0.8" stroke="#009DF3" stroke-opacity="0.8" stroke-width="1.9"/><circle cx="273.1" cy="676.9" r="5.2" fill="#009DF3" fill-opacity="0.8" stroke="#009DF3" stroke-opacity="0.8" stroke-width="1.9"/><circle cx="818.5" cy="674.9" r="5.2" fill="#009DF3" fill-opacity="0.8" stroke="#009DF3" stroke-opacity="0.8" stroke-width="1.9"/><circle cx="786.3" cy="714" r="5.2" fill="#009DF3" fill-opacity="0.8" stroke="#009DF3" stroke-opacity="0.8" stroke-width="1.9"/><circle cx="770.2" cy="719.7" r="5.2" fill="#009DF3" fill-opacity="0.8" stroke="#009DF3" stroke-opacity="0.8" stroke-width="1.9"/><circle cx="759.2" cy="706.7" r="5.2" fill="#009DF3" fill-opacity="0.8" stroke="#009DF3" stroke-opacity="0.8" stroke-width="1.9"/><circle cx="750.7" cy="692" r="5.2" fill="#009DF3" fill-opacity="0.8" stroke="#009DF3" stroke-opacity="0.8" stroke-width="1.9"/><circle cx="743.7" cy="688" r="5.2" fill="#009DF3" fill-opacity="0.8" stroke="#009DF3" stroke-opacity="0.8" stroke-width="1.9"/><circle cx="737.8" cy="685.8" r="5.2" fill="#009DF3" fill-opacity="0.8" stroke="#009DF3" stroke-opacity="0.8" stroke-width="1.9"/><circle cx="732.6" cy="679.6" r="5.2" fill="#009DF3" fill-opacity="0.8" stroke="#009DF3" stroke-opacity="0.8" stroke-width="1.9"/><circle cx="728" cy="680" r="5.2" fill="#009DF3" fill-opacity="0.8" stroke="#009DF3" stroke-opacity="0.8" stroke-width="1.9"/><path d="M277.7 682h0M281.8 686.6h0M285.6 686.1h0M289.1 687.9h0M292.3 687.7h0M295.4 688.5h0M298.2 683.7h0M300.9 684.9h0M303.4 676.5h0M305.8 687.7h0M308.1 683.6h0M310.3 680.6h0M312.4 685.7h0M314.4 682.9h0M316.3 684.6h0M318.2 681.2h0M320 688.3h0M321.7 684.8h0M323.4 681.1h0M325 687.9h0M326.6 683.3h0M328.2 685.3h0M329.7 681.5h0M331.1 688.2h0M332.5 686.1h0M333.9 683.4h0M335.3 688.9h0M336.6 686.2h0M337.9 687.8h0M339.2 687.6h0M340.4 689.9h0M341.6 688.8h0M342.8 690.3h0M344 690.3h0M345.1 689.5h0M346.2 690.5h0M347.3 690.1h0M348.4 691.2h0M349.5 691.1h0M350.5 691.2h0M351.5 690h0M352.5 691.4h0M353.5 691.6h0M354.5 690.5h0M355.5 691.4h0M356.4 690.9h0M357.4 691h0M358.3 691.2h0M359.2 691h0M361 689.3h0M362.7 691h0M364.4 690h0M366.1 688.7h0M367.7 690h0M369.3 688.7h0M370.9 689.6h0M372.4 688h0M373.9 691h0M375.3 688.8h0M376.7 687.8h0M378.1 689.2h0M379.5 687.5h0M380.9 689.1h0M382.2 686.9h0M383.5 690.4h0M384.8 688.6h0M386.1 688h0M387.3 690.4h0M388.6 688.4h0M389.8 688.7h0M391 687.8h0M392.1 690.9h0M393.3 689h0M394.4 688.2h0M395.6 689.6h0M396.7 688.7h0M397.8 691.1h0M398.9 689h0M400 691.5h0M401 691.5h0M402.1 690.8h0M403.1 692.7h0M404.2 692.1h0M405.2 692.2h0M406.2 690.3h0M407.2 695h0M408.2 693.7h0M409.2 691.3h0M410.1 694h0M411.1 693.3h0M412.1 693.5h0M413 691.6h0M413.9 695.3h0M414.9 693.6h0M415.8 692.7h0M416.7 693.7h0M417.6 693.5h0M418.9 693.7h0M420.3 693.1h0M421.6 694.4h0M422.9 693.5h0M424.2 692h0M425.4 694.4h0M426.7 693.3h0M428 693.5h0M429.2 692.1h0M430.4 693.8h0M431.6 692.5h0M432.8 692.4h0M434 693.4h0M435.2 693.1h0M436.4 693.5h0M437.5 691.2h0M438.7 694.2h0M439.8 692.8h0M441 692.7h0M442.1 693.1h0M443.2 693.2h0M444.3 693.5h0M445.4 692.6h0M446.5 694.2h0M447.6 692.7h0M448.7 693.2h0M449.8 694.8h0M450.8 693h0M451.9 694h0M452.9 693.6h0M454 695.1h0M455 694.7h0M456.1 693.8h0M457.1 695.2h0M458.1 693.8h0M459.2 695.1h0M460.2 694.1h0M461.2 697h0M462.2 695.5h0M463.2 694.2h0M464.2 696.5h0M465.2 694.2h0M466.2 696.5h0M467.2 692.9h0M468.2 696.5h0M469.2 695.7h0M470.2 693.4h0M471.1 697.7h0M472.1 695.1h0M473.1 696.5h0M474.1 693.2h0M475 698.6h0M476 696.1h0M476.9 695.7h0M477.9 697.5h0M478.9 695.8h0M479.8 697.1h0M480.8 696.3h0M481.7 698.9h0M482.7 696.7h0M483.6 696.6h0M484.5 698.2h0M485.5 696.2h0M486.4 698.1h0M487.4 694.3h0M488.3 699.7h0M489.2 697.8h0M490.2 695.9h0M491.1 698.4h0M492 696h0M493 698h0M493.9 694.2h0M494.8 700h0M495.7 695.8h0M496.7 693.8h0M497.6 699.2h0M498.5 695.3h0M499.5 697.4h0M500.4 693.8h0M501.3 700.5h0M502.2 696.4h0M503.2 696h0M504.1 698.7h0M505 696.5h0M505.9 698.4h0M506.9 695.7h0M507.8 700.6h0M508.7 698.8h0M509.6 696.2h0M510.6 699.8h0M511.5 698.6h0M512.4 699.1h0M513.4 696.5h0M514.3 701.9h0M515.2 699.1h0M516.2 698.3h0M517.1 701.5h0M518 699.4h0M519 700.6h0M519.9 699.1h0M520.8 702.8h0M521.8 700.6h0M522.7 700.3h0M523.7 703.2h0M524.6 701.4h0M525.6 702.5h0M526.5 700.2h0M527.5 704.9h0M528.4 703.2h0M529.4 700.7h0M530.4 704.1h0M531.3 703.2h0M532.3 703.9h0M533.3 701.7h0M534.2 705.2h0M535.2 703.3h0M536.2 701.7h0M537.2 705.5h0M538.2 702.7h0M539.1 703.5h0M540.1 701.1h0M541.1 705.9h0M542.1 703.2h0M543.1 702.8h0M544.2 706.1h0M545.2 702.8h0M546.2 703.8h0M547.2 701.2h0M548.2 705.9h0M549.3 702.8h0M550.3 702.7h0M551.4 705.3h0M552.4 703.4h0M553.5 704.1h0M554.5 701.3h0M555.6 704.7h0M556.7 703.1h0M557.7 702.4h0M558.8 703.2h0M559.9 702.5h0M561 702.6h0M562.1 702.6h0M563.2 704h0M564.4 702.1h0M565.5 702.8h0M566.6 703.3h0M567.8 701.7h0M568.9 703.3h0M570.1 701.1h0M571.3 703.4h0M572.5 701.9h0M573.7 700.4h0M574.9 702.7h0M576.1 702h0M577.3 702.2h0M578.6 700.7h0M579.8 706.1h0M581.1 703.4h0M582.4 701.9h0M583.7 706.5h0M585 704.6h0M586.3 706.6h0M587.6 701.2h0M588.5 709.6h0M589.5 706h0M590.4 703.2h0M591.3 709.6h0M592.2 705.1h0M593.2 707h0M594.1 702.3h0M595.1 708.2h0M596 704.3h0M597 702.2h0M598 705.2h0M599 702.8h0M600 704.6h0M601 702.3h0M602 705.6h0M603.1 703.8h0M604.1 702h0M605.2 704.4h0M606.3 702.7h0M607.4 704.1h0M608.4 702h0M609.6 704.9h0M610.7 704.2h0M611.8 701.6h0M613 704.4h0M614.2 702.7h0M615.3 703.5h0M616.5 701.9h0M617.8 704.2h0M619 702.4h0M620.3 701h0M621.5 704.6h0M622.8 701.4h0M624.2 702.9h0M625.5 698.2h0M626.9 704.3h0M628.2 700.3h0M629.7 698.4h0M631.1 702.1h0M632.6 698.7h0M634.1 699.1h0M635.6 695.1h0M637.2 699.5h0M638.8 697.1h0M640.4 695.9h0M642.1 699.4h0M643.8 696.2h0M645.6 699h0M647.4 694.8h0M648.3 700.7h0M649.3 698.4h0M650.2 696.9h0M651.2 698.9h0M652.2 697.3h0M653.2 697.8h0M654.2 695.2h0M655.2 700.4h0M656.2 697.1h0M657.3 695.9h0M658.4 699h0M659.5 696h0M660.6 697.4h0M661.7 696.1h0M662.9 700.4h0M664.1 698.8h0M665.3 696.7h0M666.5 701.3h0M667.8 697.1h0M669.1 700.6h0M670.4 693.8h0M671.8 704.6h0M673.2 700.1h0M674.6 696.2h0M676 702.3h0M677.5 697.1h0M679.1 699.7h0M680.7 694.1h0M682.3 702.2h0M684 698.8h0M685.7 697.3h0M687.5 704.1h0M689.4 700h0M691.3 703.7h0M693.3 698.9h0M695.4 707.8h0M697.6 705.7h0M699.9 704.9h0M702.3 709.2h0M704.8 708.3h0M707.5 710.9h0M710.3 709.2h0M713.4 713.9h0M716.6 714.8h0M720.1 717.4h0M723.9 720.5h0" stroke="#E04CF0" stroke-opacity="0.95" stroke-width="12.3" stroke-linecap="round" fill="none"/><circle cx="187.2" cy="763.1" r="5.2" fill="#E04CF0" fill-opacity="0.8" stroke="#E04CF0" stroke-opacity="0.8" stroke-width="1.9"/><circle cx="219.4" cy="738.8" r="5.2" fill="#E04CF0" fill-opacity="0.8" stroke="#E04CF0" stroke-opacity="0.8" stroke-width="1.9"/><circle cx="235.5" cy="751.5" r="5.2" fill="#E04CF0" fill-opacity="0.8" stroke="#E04CF0" stroke-opacity="0.8" stroke-width="1.9"/><circle cx="246.5" cy="747.2" r="5.2" fill="#E04CF0" fill-opacity="0.8" stroke="#E04CF0" stroke-opacity="0.8" stroke-width="1.9"/><circle cx="255" cy="732.2" r="5.2" fill="#E04CF0" fill-opacity="0.8" stroke="#E04CF0" stroke-opacity="0.8" stroke-width="1.9"/><circle cx="262" cy="716.2" r="5.2" fill="#E04CF0" fill-opacity="0.8" stroke="#E04CF0" stroke-opacity="0.8" stroke-width="1.9"/><circle cx="267.9" cy="717.2" r="5.2" fill="#E04CF0" fill-opacity="0.8" stroke="#E04CF0" stroke-opacity="0.8" stroke-width="1.9"/><circle cx="273.1" cy="685.3" r="5.2" fill="#E04CF0" fill-opacity="0.8" stroke="#E04CF0" stroke-opacity="0.8" stroke-width="1.9"/><circle cx="818.5" cy="632" r="5.2" fill="#E04CF0" fill-opacity="0.8" stroke="#E04CF0" stroke-opacity="0.8" stroke-width="1.9"/><circle cx="786.3" cy="676.5" r="5.2" fill="#E04CF0" fill-opacity="0.8" stroke="#E04CF0" stroke-opacity="0.8" stroke-width="1.9"/><circle cx="770.2" cy="693.1" r="5.2" fill="#E04CF0" fill-opacity="0.8" stroke="#E04CF0" stroke-opacity="0.8" stroke-width="1.9"/><circle cx="759.2" cy="696.2" r="5.2" fill="#E04CF0" fill-opacity="0.8" stroke="#E04CF0" stroke-opacity="0.8" stroke-width="1.9"/><circle cx="750.7" cy="705" r="5.2" fill="#E04CF0" fill-opacity="0.8" stroke="#E04CF0" stroke-opacity="0.8" stroke-width="1.9"/><circle cx="743.7" cy="705.6" r="5.2" fill="#E04CF0" fill-opacity="0.8" stroke="#E04CF0" stroke-opacity="0.8" stroke-width="1.9"/><circle cx="737.8" cy="705.6" r="5.2" fill="#E04CF0" fill-opacity="0.8" stroke="#E04CF0" stroke-opacity="0.8" stroke-width="1.9"/><circle cx="732.6" cy="707" r="5.2" fill="#E04CF0" fill-opacity="0.8" stroke="#E04CF0" stroke-opacity="0.8" stroke-width="1.9"/><circle cx="728" cy="709.3" r="5.2" fill="#E04CF0" fill-opacity="0.8" stroke="#E04CF0" stroke-opacity="0.8" stroke-width="1.9"/><path d="M138.8 423.2L140.6 431.7L142.4 439.9L144.2 447.9L145.9 455.5L147.7 462.9L149.5 470L151.3 476.8L153 483.5L154.8 489.8L156.6 496L158.4 501.9L160.1 507.7L161.9 513.2L163.7 518.5L165.5 523.7L167.2 528.7L169 533.5L170.8 538.1L172.6 542.6L174.3 546.9L176.1 551.1L177.9 555.2L179.7 559.1L181.4 562.9L183.2 566.5L185 570.1L186.8 573.5L188.5 576.8L190.3 580L192.1 583.1L193.9 586.1L195.6 589L197.4 591.8L199.2 594.5L201 597.1L202.7 599.7L204.5 602.1L206.3 604.5L208.1 606.8L209.8 609.1L211.6 611.2L213.4 613.3L215.2 615.4L216.9 617.3L218.7 619.3L220.5 621.1L222.3 622.9L224 624.7L225.8 626.4L227.6 628L229.4 629.6L231.1 631.1L232.9 632.6L234.7 634.1L236.5 635.5L238.2 636.9L240 638.2L241.8 639.5L243.6 640.7L245.3 641.9L247.1 643.1L248.9 644.3L250.7 645.4L252.4 646.5L254.2 647.5L256 648.5L257.8 649.5L259.5 650.5L261.3 651.4L263.1 652.3L264.9 653.2L266.6 654.1L268.4 654.9L270.2 655.7L272 656.5L273.7 657.3L275.5 658L277.3 658.8L279.1 659.5L280.8 660.2L282.6 660.8L284.4 661.5L286.2 662.1L287.9 662.8L289.7 663.4L291.5 663.9L293.3 664.5L295 665.1L296.8 665.6L298.6 666.1L300.4 666.7L302.1 667.2L303.9 667.6L305.7 668.1L307.4 668.6L309.2 669L311 669.5L312.8 669.9L314.5 670.3L316.3 670.7L318.1 671.1L319.9 671.5L321.6 671.9L323.4 672.2L325.2 672.6L327 672.9L328.7 673.3L330.5 673.6L332.3 673.9L334.1 674.3L335.8 674.6L337.6 674.9L339.4 675.2L341.2 675.4L342.9 675.7L344.7 676L346.5 676.3L348.3 676.5L350 676.8L351.8 677L353.6 677.2L355.4 677.5L357.1 677.7L358.9 677.9L360.7 678.1L362.5 678.4L364.2 678.6L366 678.8L367.8 679L369.6 679.2L371.3 679.3L373.1 679.5L374.9 679.7L376.7 679.9L378.4 680L380.2 680.2L382 680.4L383.8 680.5L385.5 680.7L387.3 680.8L389.1 681L390.9 681.1L392.6 681.3L394.4 681.4L396.2 681.5L398 681.6L399.7 681.8L401.5 681.9L403.3 682L405.1 682.1L406.8 682.2L408.6 682.3L410.4 682.5L412.2 682.6L413.9 682.7L415.7 682.8L417.5 682.8L419.3 682.9L421 683L422.8 683.1L424.6 683.2L426.4 683.3L428.1 683.4L429.9 683.4L431.7 683.5L433.5 683.6L435.2 683.7L437 683.7L438.8 683.8L440.6 683.9L442.3 683.9L444.1 684L445.9 684L447.7 684.1L449.4 684.1L451.2 684.2L453 684.2L454.8 684.3L456.5 684.3L458.3 684.4L460.1 684.4L461.9 684.5L463.6 684.5L465.4 684.5L467.2 684.6L469 684.6L470.7 684.6L472.5 684.7L474.3 684.7L476.1 684.7L477.8 684.7L479.6 684.8L481.4 684.8L483.2 684.8L484.9 684.8L486.7 684.8L488.5 684.9L490.2 684.9L492 684.9L493.8 684.9L495.6 684.9L497.3 684.9L499.1 684.9L500.9 684.9L502.7 684.9L504.4 684.9L506.2 684.9L508 684.9L509.8 684.9L511.5 684.9L513.3 684.9L515.1 684.9L516.9 684.9L518.6 684.8L520.4 684.8L522.2 684.8L524 684.8L525.7 684.8L527.5 684.8L529.3 684.7L531.1 684.7L532.8 684.7L534.6 684.6L536.4 684.6L538.2 684.6L539.9 684.5L541.7 684.5L543.5 684.5L545.3 684.4L547 684.4L548.8 684.4L550.6 684.3L552.4 684.3L554.1 684.2L555.9 684.2L557.7 684.1L559.5 684L561.2 684L563 683.9L564.8 683.9L566.6 683.8L568.3 683.7L570.1 683.7L571.9 683.6L573.7 683.5L575.4 683.5L577.2 683.4L579 683.3L580.8 683.2L582.5 683.1L584.3 683L586.1 683L587.9 682.9L589.6 682.8L591.4 682.7L593.2 682.6L595 682.5L596.7 682.4L598.5 682.3L600.3 682.1L602.1 682L603.8 681.9L605.6 681.8L607.4 681.7L609.2 681.5L610.9 681.4L612.7 681.3L614.5 681.1L616.3 681L618 680.9L619.8 680.7L621.6 680.6L623.4 680.4L625.1 680.2L626.9 680.1L628.7 679.9L630.5 679.7L632.2 679.6L634 679.4L635.8 679.2L637.6 679L639.3 678.8L641.1 678.6L642.9 678.4L644.7 678.2L646.4 678L648.2 677.8L650 677.5L651.8 677.3L653.5 677.1L655.3 676.8L657.1 676.6L658.9 676.3L660.6 676L662.4 675.8L664.2 675.5L666 675.2L667.7 674.9L669.5 674.6L671.3 674.3L673 674L674.8 673.7L676.6 673.4L678.4 673L680.1 672.7L681.9 672.3L683.7 671.9L685.5 671.6L687.2 671.2L689 670.8L690.8 670.4L692.6 670L694.3 669.6L696.1 669.1L697.9 668.7L699.7 668.2L701.4 667.7L703.2 667.2L705 666.8L706.8 666.2L708.5 665.7L710.3 665.2L712.1 664.6L713.9 664.1L715.6 663.5L717.4 662.9L719.2 662.3L721 661.6L722.7 661L724.5 660.3L726.3 659.6L728.1 658.9L729.8 658.2L731.6 657.4L733.4 656.7L735.2 655.9L736.9 655.1L738.7 654.3L740.5 653.4L742.3 652.5L744 651.6L745.8 650.7L747.6 649.7L749.4 648.7L751.1 647.7L752.9 646.7L754.7 645.6L756.5 644.5L758.2 643.3L760 642.2L761.8 641L763.6 639.7L765.3 638.4L767.1 637.1L768.9 635.8L770.7 634.4L772.4 632.9L774.2 631.4L776 629.9L777.8 628.3L779.5 626.7L781.3 625L783.1 623.3L784.9 621.5L786.6 619.6L788.4 617.7L790.2 615.8L792 613.8L793.7 611.7L795.5 609.5L797.3 607.3L799.1 605L800.8 602.6L802.6 600.2L804.4 597.6L806.2 595L807.9 592.3L809.7 589.5L811.5 586.7L813.3 583.7L815 580.6L816.8 577.4L818.6 574.2L820.4 570.8L822.1 567.2L823.9 563.6L825.7 559.9L827.5 556L829.2 551.9L831 547.8L832.8 543.5L834.6 539L836.3 534.4L838.1 529.6L839.9 524.7L841.7 519.6L843.4 514.3L845.2 508.8L847 503.1L848.7 497.2L848.7 899.9L847 894L845.2 888.3L843.4 882.8L841.7 877.5L839.9 872.4L838.1 867.5L836.3 862.7L834.6 858.1L832.8 853.6L831 849.3L829.2 845.2L827.5 841.1L825.7 837.2L823.9 833.5L822.1 829.9L820.4 826.3L818.6 822.9L816.8 819.7L815 816.5L813.3 813.4L811.5 810.4L809.7 807.6L807.9 804.8L806.2 802.1L804.4 799.5L802.6 796.9L800.8 794.5L799.1 792.1L797.3 789.8L795.5 787.6L793.7 785.4L792 783.3L790.2 781.3L788.4 779.4L786.6 777.5L784.9 775.6L783.1 773.8L781.3 772.1L779.5 770.4L777.8 768.8L776 767.2L774.2 765.7L772.4 764.2L770.7 762.7L768.9 761.3L767.1 760L765.3 758.7L763.6 757.4L761.8 756.1L760 754.9L758.2 753.8L756.5 752.6L754.7 751.5L752.9 750.4L751.1 749.4L749.4 748.4L747.6 747.4L745.8 746.4L744 745.5L742.3 744.6L740.5 743.7L738.7 742.8L736.9 742L735.2 741.2L733.4 740.4L731.6 739.7L729.8 738.9L728.1 738.2L726.3 737.5L724.5 736.8L722.7 736.1L721 735.5L719.2 734.8L717.4 734.2L715.6 733.6L713.9 733L712.1 732.5L710.3 731.9L708.5 731.4L706.8 730.9L705 730.3L703.2 729.9L701.4 729.4L699.7 728.9L697.9 728.4L696.1 728L694.3 727.5L692.6 727.1L690.8 726.7L689 726.3L687.2 725.9L685.5 725.5L683.7 725.2L681.9 724.8L680.1 724.4L678.4 724.1L676.6 723.7L674.8 723.4L673 723.1L671.3 722.8L669.5 722.5L667.7 722.2L666 721.9L664.2 721.6L662.4 721.3L660.6 721.1L658.9 720.8L657.1 720.5L655.3 720.3L653.5 720L651.8 719.8L650 719.6L648.2 719.3L646.4 719.1L644.7 718.9L642.9 718.7L641.1 718.5L639.3 718.3L637.6 718.1L635.8 717.9L634 717.7L632.2 717.5L630.5 717.4L628.7 717.2L626.9 717L625.1 716.9L623.4 716.7L621.6 716.5L619.8 716.4L618 716.2L616.3 716.1L614.5 716L612.7 715.8L610.9 715.7L609.2 715.6L607.4 715.4L605.6 715.3L603.8 715.2L602.1 715.1L600.3 715L598.5 714.8L596.7 714.7L595 714.6L593.2 714.5L591.4 714.4L589.6 714.3L587.9 714.2L586.1 714.1L584.3 714.1L582.5 714L580.8 713.9L579 713.8L577.2 713.7L575.4 713.6L573.7 713.6L571.9 713.5L570.1 713.4L568.3 713.4L566.6 713.3L564.8 713.2L563 713.2L561.2 713.1L559.5 713.1L557.7 713L555.9 712.9L554.1 712.9L552.4 712.8L550.6 712.8L548.8 712.7L547 712.7L545.3 712.7L543.5 712.6L541.7 712.6L539.9 712.6L538.2 712.5L536.4 712.5L534.6 712.5L532.8 712.4L531.1 712.4L529.3 712.4L527.5 712.3L525.7 712.3L524 712.3L522.2 712.3L520.4 712.3L518.6 712.3L516.9 712.2L515.1 712.2L513.3 712.2L511.5 712.2L509.8 712.2L508 712.2L506.2 712.2L504.4 712.2L502.7 712.2L500.9 712.2L499.1 712.2L497.3 712.2L495.6 712.2L493.8 712.2L492 712.2L490.2 712.2L488.5 712.2L486.7 712.3L484.9 712.3L483.2 712.3L481.4 712.3L479.6 712.3L477.8 712.4L476.1 712.4L474.3 712.4L472.5 712.4L470.7 712.5L469 712.5L467.2 712.5L465.4 712.6L463.6 712.6L461.9 712.6L460.1 712.7L458.3 712.7L456.5 712.8L454.8 712.8L453 712.9L451.2 712.9L449.4 713L447.7 713L445.9 713.1L444.1 713.1L442.3 713.2L440.6 713.2L438.8 713.3L437 713.4L435.2 713.4L433.5 713.5L431.7 713.6L429.9 713.7L428.1 713.7L426.4 713.8L424.6 713.9L422.8 714L421 714.1L419.3 714.2L417.5 714.3L415.7 714.3L413.9 714.4L412.2 714.5L410.4 714.6L408.6 714.8L406.8 714.9L405.1 715L403.3 715.1L401.5 715.2L399.7 715.3L398 715.5L396.2 715.6L394.4 715.7L392.6 715.8L390.9 716L389.1 716.1L387.3 716.3L385.5 716.4L383.8 716.6L382 716.7L380.2 716.9L378.4 717.1L376.7 717.2L374.9 717.4L373.1 717.6L371.3 717.8L369.6 717.9L367.8 718.1L366 718.3L364.2 718.5L362.5 718.7L360.7 719L358.9 719.2L357.1 719.4L355.4 719.6L353.6 719.9L351.8 720.1L350 720.3L348.3 720.6L346.5 720.8L344.7 721.1L342.9 721.4L341.2 721.7L339.4 721.9L337.6 722.2L335.8 722.5L334.1 722.8L332.3 723.2L330.5 723.5L328.7 723.8L327 724.2L325.2 724.5L323.4 724.9L321.6 725.2L319.9 725.6L318.1 726L316.3 726.4L314.5 726.8L312.8 727.2L311 727.6L309.2 728.1L307.4 728.5L305.7 729L303.9 729.5L302.1 729.9L300.4 730.4L298.6 731L296.8 731.5L295 732L293.3 732.6L291.5 733.2L289.7 733.7L287.9 734.3L286.2 735L284.4 735.6L282.6 736.3L280.8 736.9L279.1 737.6L277.3 738.3L275.5 739.1L273.7 739.8L272 740.6L270.2 741.4L268.4 742.2L266.6 743L264.9 743.9L263.1 744.8L261.3 745.7L259.5 746.6L257.8 747.6L256 748.6L254.2 749.6L252.4 750.6L250.7 751.7L248.9 752.8L247.1 754L245.3 755.2L243.6 756.4L241.8 757.6L240 758.9L238.2 760.2L236.5 761.6L234.7 763L232.9 764.5L231.1 766L229.4 767.5L227.6 769.1L225.8 770.7L224 772.4L222.3 774.2L220.5 776L218.7 777.8L216.9 779.8L215.2 781.7L213.4 783.8L211.6 785.9L209.8 788L208.1 790.3L206.3 792.6L204.5 795L202.7 797.4L201 800L199.2 802.6L197.4 805.3L195.6 808.1L193.9 811L192.1 814L190.3 817.1L188.5 820.3L186.8 823.6L185 827L183.2 830.6L181.4 834.2L179.7 838L177.9 841.9L176.1 846L174.3 850.2L172.6 854.5L170.8 859L169 863.6L167.2 868.4L165.5 873.4L163.7 878.6L161.9 883.9L160.1 889.4L158.4 895.2L156.6 901.1L154.8 907.3L153 913.6L151.3 920.3L149.5 927.1L147.7 934.2L145.9 941.6L144.2 949.2L142.4 957.2L140.6 965.4L138.8 973.9Z" fill="#000000" fill-opacity="0.074"/><path d="M138.8 423.2L140.6 431.7L142.4 439.9L144.2 447.9L145.9 455.5L147.7 462.9L149.5 470L151.3 476.8L153 483.5L154.8 489.8L156.6 496L158.4 501.9L160.1 507.7L161.9 513.2L163.7 518.5L165.5 523.7L167.2 528.7L169 533.5L170.8 538.1L172.6 542.6L174.3 546.9L176.1 551.1L177.9 555.2L179.7 559.1L181.4 562.9L183.2 566.5L185 570.1L186.8 573.5L188.5 576.8L190.3 580L192.1 583.1L193.9 586.1L195.6 589L197.4 591.8L199.2 594.5L201 597.1L202.7 599.7L204.5 602.1L206.3 604.5L208.1 606.8L209.8 609.1L211.6 611.2L213.4 613.3L215.2 615.4L216.9 617.3L218.7 619.3L220.5 621.1L222.3 622.9L224 624.7L225.8 626.4L227.6 628L229.4 629.6L231.1 631.1L232.9 632.6L234.7 634.1L236.5 635.5L238.2 636.9L240 638.2L241.8 639.5L243.6 640.7L245.3 641.9L247.1 643.1L248.9 644.3L250.7 645.4L252.4 646.5L254.2 647.5L256 648.5L257.8 649.5L259.5 650.5L261.3 651.4L263.1 652.3L264.9 653.2L266.6 654.1L268.4 654.9L270.2 655.7L272 656.5L273.7 657.3L275.5 658L277.3 658.8L279.1 659.5L280.8 660.2L282.6 660.8L284.4 661.5L286.2 662.1L287.9 662.8L289.7 663.4L291.5 663.9L293.3 664.5L295 665.1L296.8 665.6L298.6 666.1L300.4 666.7L302.1 667.2L303.9 667.6L305.7 668.1L307.4 668.6L309.2 669L311 669.5L312.8 669.9L314.5 670.3L316.3 670.7L318.1 671.1L319.9 671.5L321.6 671.9L323.4 672.2L325.2 672.6L327 672.9L328.7 673.3L330.5 673.6L332.3 673.9L334.1 674.3L335.8 674.6L337.6 674.9L339.4 675.2L341.2 675.4L342.9 675.7L344.7 676L346.5 676.3L348.3 676.5L350 676.8L351.8 677L353.6 677.2L355.4 677.5L357.1 677.7L358.9 677.9L360.7 678.1L362.5 678.4L364.2 678.6L366 678.8L367.8 679L369.6 679.2L371.3 679.3L373.1 679.5L374.9 679.7L376.7 679.9L378.4 680L380.2 680.2L382 680.4L383.8 680.5L385.5 680.7L387.3 680.8L389.1 681L390.9 681.1L392.6 681.3L394.4 681.4L396.2 681.5L398 681.6L399.7 681.8L401.5 681.9L403.3 682L405.1 682.1L406.8 682.2L408.6 682.3L410.4 682.5L412.2 682.6L413.9 682.7L415.7 682.8L417.5 682.8L419.3 682.9L421 683L422.8 683.1L424.6 683.2L426.4 683.3L428.1 683.4L429.9 683.4L431.7 683.5L433.5 683.6L435.2 683.7L437 683.7L438.8 683.8L440.6 683.9L442.3 683.9L444.1 684L445.9 684L447.7 684.1L449.4 684.1L451.2 684.2L453 684.2L454.8 684.3L456.5 684.3L458.3 684.4L460.1 684.4L461.9 684.5L463.6 684.5L465.4 684.5L467.2 684.6L469 684.6L470.7 684.6L472.5 684.7L474.3 684.7L476.1 684.7L477.8 684.7L479.6 684.8L481.4 684.8L483.2 684.8L484.9 684.8L486.7 684.8L488.5 684.9L490.2 684.9L492 684.9L493.8 684.9L495.6 684.9L497.3 684.9L499.1 684.9L500.9 684.9L502.7 684.9L504.4 684.9L506.2 684.9L508 684.9L509.8 684.9L511.5 684.9L513.3 684.9L515.1 684.9L516.9 684.9L518.6 684.8L520.4 684.8L522.2 684.8L524 684.8L525.7 684.8L527.5 684.8L529.3 684.7L531.1 684.7L532.8 684.7L534.6 684.6L536.4 684.6L538.2 684.6L539.9 684.5L541.7 684.5L543.5 684.5L545.3 684.4L547 684.4L548.8 684.4L550.6 684.3L552.4 684.3L554.1 684.2L555.9 684.2L557.7 684.1L559.5 684L561.2 684L563 683.9L564.8 683.9L566.6 683.8L568.3 683.7L570.1 683.7L571.9 683.6L573.7 683.5L575.4 683.5L577.2 683.4L579 683.3L580.8 683.2L582.5 683.1L584.3 683L586.1 683L587.9 682.9L589.6 682.8L591.4 682.7L593.2 682.6L595 682.5L596.7 682.4L598.5 682.3L600.3 682.1L602.1 682L603.8 681.9L605.6 681.8L607.4 681.7L609.2 681.5L610.9 681.4L612.7 681.3L614.5 681.1L616.3 681L618 680.9L619.8 680.7L621.6 680.6L623.4 680.4L625.1 680.2L626.9 680.1L628.7 679.9L630.5 679.7L632.2 679.6L634 679.4L635.8 679.2L637.6 679L639.3 678.8L641.1 678.6L642.9 678.4L644.7 678.2L646.4 678L648.2 677.8L650 677.5L651.8 677.3L653.5 677.1L655.3 676.8L657.1 676.6L658.9 676.3L660.6 676L662.4 675.8L664.2 675.5L666 675.2L667.7 674.9L669.5 674.6L671.3 674.3L673 674L674.8 673.7L676.6 673.4L678.4 673L680.1 672.7L681.9 672.3L683.7 671.9L685.5 671.6L687.2 671.2L689 670.8L690.8 670.4L692.6 670L694.3 669.6L696.1 669.1L697.9 668.7L699.7 668.2L701.4 667.7L703.2 667.2L705 666.8L706.8 666.2L708.5 665.7L710.3 665.2L712.1 664.6L713.9 664.1L715.6 663.5L717.4 662.9L719.2 662.3L721 661.6L722.7 661L724.5 660.3L726.3 659.6L728.1 658.9L729.8 658.2L731.6 657.4L733.4 656.7L735.2 655.9L736.9 655.1L738.7 654.3L740.5 653.4L742.3 652.5L744 651.6L745.8 650.7L747.6 649.7L749.4 648.7L751.1 647.7L752.9 646.7L754.7 645.6L756.5 644.5L758.2 643.3L760 642.2L761.8 641L763.6 639.7L765.3 638.4L767.1 637.1L768.9 635.8L770.7 634.4L772.4 632.9L774.2 631.4L776 629.9L777.8 628.3L779.5 626.7L781.3 625L783.1 623.3L784.9 621.5L786.6 619.6L788.4 617.7L790.2 615.8L792 613.8L793.7 611.7L795.5 609.5L797.3 607.3L799.1 605L800.8 602.6L802.6 600.2L804.4 597.6L806.2 595L807.9 592.3L809.7 589.5L811.5 586.7L813.3 583.7L815 580.6L816.8 577.4L818.6 574.2L820.4 570.8L822.1 567.2L823.9 563.6L825.7 559.9L827.5 556L829.2 551.9L831 547.8L832.8 543.5L834.6 539L836.3 534.4L838.1 529.6L839.9 524.7L841.7 519.6L843.4 514.3L845.2 508.8L847 503.1L848.7 497.2" stroke="#000" stroke-width="2.6" fill="none" stroke-dasharray="11.2 11.65" stroke-dashoffset="3.2"/><path d="M138.8 973.9L140.6 965.4L142.4 957.2L144.2 949.2L145.9 941.6L147.7 934.2L149.5 927.1L151.3 920.3L153 913.6L154.8 907.3L156.6 901.1L158.4 895.2L160.1 889.4L161.9 883.9L163.7 878.6L165.5 873.4L167.2 868.4L169 863.6L170.8 859L172.6 854.5L174.3 850.2L176.1 846L177.9 841.9L179.7 838L181.4 834.2L183.2 830.6L185 827L186.8 823.6L188.5 820.3L190.3 817.1L192.1 814L193.9 811L195.6 808.1L197.4 805.3L199.2 802.6L201 800L202.7 797.4L204.5 795L206.3 792.6L208.1 790.3L209.8 788L211.6 785.9L213.4 783.8L215.2 781.7L216.9 779.8L218.7 777.8L220.5 776L222.3 774.2L224 772.4L225.8 770.7L227.6 769.1L229.4 767.5L231.1 766L232.9 764.5L234.7 763L236.5 761.6L238.2 760.2L240 758.9L241.8 757.6L243.6 756.4L245.3 755.2L247.1 754L248.9 752.8L250.7 751.7L252.4 750.6L254.2 749.6L256 748.6L257.8 747.6L259.5 746.6L261.3 745.7L263.1 744.8L264.9 743.9L266.6 743L268.4 742.2L270.2 741.4L272 740.6L273.7 739.8L275.5 739.1L277.3 738.3L279.1 737.6L280.8 736.9L282.6 736.3L284.4 735.6L286.2 735L287.9 734.3L289.7 733.7L291.5 733.2L293.3 732.6L295 732L296.8 731.5L298.6 731L300.4 730.4L302.1 729.9L303.9 729.5L305.7 729L307.4 728.5L309.2 728.1L311 727.6L312.8 727.2L314.5 726.8L316.3 726.4L318.1 726L319.9 725.6L321.6 725.2L323.4 724.9L325.2 724.5L327 724.2L328.7 723.8L330.5 723.5L332.3 723.2L334.1 722.8L335.8 722.5L337.6 722.2L339.4 721.9L341.2 721.7L342.9 721.4L344.7 721.1L346.5 720.8L348.3 720.6L350 720.3L351.8 720.1L353.6 719.9L355.4 719.6L357.1 719.4L358.9 719.2L360.7 719L362.5 718.7L364.2 718.5L366 718.3L367.8 718.1L369.6 717.9L371.3 717.8L373.1 717.6L374.9 717.4L376.7 717.2L378.4 717.1L380.2 716.9L382 716.7L383.8 716.6L385.5 716.4L387.3 716.3L389.1 716.1L390.9 716L392.6 715.8L394.4 715.7L396.2 715.6L398 715.5L399.7 715.3L401.5 715.2L403.3 715.1L405.1 715L406.8 714.9L408.6 714.8L410.4 714.6L412.2 714.5L413.9 714.4L415.7 714.3L417.5 714.3L419.3 714.2L421 714.1L422.8 714L424.6 713.9L426.4 713.8L428.1 713.7L429.9 713.7L431.7 713.6L433.5 713.5L435.2 713.4L437 713.4L438.8 713.3L440.6 713.2L442.3 713.2L444.1 713.1L445.9 713.1L447.7 713L449.4 713L451.2 712.9L453 712.9L454.8 712.8L456.5 712.8L458.3 712.7L460.1 712.7L461.9 712.6L463.6 712.6L465.4 712.6L467.2 712.5L469 712.5L470.7 712.5L472.5 712.4L474.3 712.4L476.1 712.4L477.8 712.4L479.6 712.3L481.4 712.3L483.2 712.3L484.9 712.3L486.7 712.3L488.5 712.2L490.2 712.2L492 712.2L493.8 712.2L495.6 712.2L497.3 712.2L499.1 712.2L500.9 712.2L502.7 712.2L504.4 712.2L506.2 712.2L508 712.2L509.8 712.2L511.5 712.2L513.3 712.2L515.1 712.2L516.9 712.2L518.6 712.3L520.4 712.3L522.2 712.3L524 712.3L525.7 712.3L527.5 712.3L529.3 712.4L531.1 712.4L532.8 712.4L534.6 712.5L536.4 712.5L538.2 712.5L539.9 712.6L541.7 712.6L543.5 712.6L545.3 712.7L547 712.7L548.8 712.7L550.6 712.8L552.4 712.8L554.1 712.9L555.9 712.9L557.7 713L559.5 713.1L561.2 713.1L563 713.2L564.8 713.2L566.6 713.3L568.3 713.4L570.1 713.4L571.9 713.5L573.7 713.6L575.4 713.6L577.2 713.7L579 713.8L580.8 713.9L582.5 714L584.3 714.1L586.1 714.1L587.9 714.2L589.6 714.3L591.4 714.4L593.2 714.5L595 714.6L596.7 714.7L598.5 714.8L600.3 715L602.1 715.1L603.8 715.2L605.6 715.3L607.4 715.4L609.2 715.6L610.9 715.7L612.7 715.8L614.5 716L616.3 716.1L618 716.2L619.8 716.4L621.6 716.5L623.4 716.7L625.1 716.9L626.9 717L628.7 717.2L630.5 717.4L632.2 717.5L634 717.7L635.8 717.9L637.6 718.1L639.3 718.3L641.1 718.5L642.9 718.7L644.7 718.9L646.4 719.1L648.2 719.3L650 719.6L651.8 719.8L653.5 720L655.3 720.3L657.1 720.5L658.9 720.8L660.6 721.1L662.4 721.3L664.2 721.6L666 721.9L667.7 722.2L669.5 722.5L671.3 722.8L673 723.1L674.8 723.4L676.6 723.7L678.4 724.1L680.1 724.4L681.9 724.8L683.7 725.2L685.5 725.5L687.2 725.9L689 726.3L690.8 726.7L692.6 727.1L694.3 727.5L696.1 728L697.9 728.4L699.7 728.9L701.4 729.4L703.2 729.9L705 730.3L706.8 730.9L708.5 731.4L710.3 731.9L712.1 732.5L713.9 733L715.6 733.6L717.4 734.2L719.2 734.8L721 735.5L722.7 736.1L724.5 736.8L726.3 737.5L728.1 738.2L729.8 738.9L731.6 739.7L733.4 740.4L735.2 741.2L736.9 742L738.7 742.8L740.5 743.7L742.3 744.6L744 745.5L745.8 746.4L747.6 747.4L749.4 748.4L751.1 749.4L752.9 750.4L754.7 751.5L756.5 752.6L758.2 753.8L760 754.9L761.8 756.1L763.6 757.4L765.3 758.7L767.1 760L768.9 761.3L770.7 762.7L772.4 764.2L774.2 765.7L776 767.2L777.8 768.8L779.5 770.4L781.3 772.1L783.1 773.8L784.9 775.6L786.6 777.5L788.4 779.4L790.2 781.3L792 783.3L793.7 785.4L795.5 787.6L797.3 789.8L799.1 792.1L800.8 794.5L802.6 796.9L804.4 799.5L806.2 802.1L807.9 804.8L809.7 807.6L811.5 810.4L813.3 813.4L815 816.5L816.8 819.7L818.6 822.9L820.4 826.3L822.1 829.9L823.9 833.5L825.7 837.2L827.5 841.1L829.2 845.2L831 849.3L832.8 853.6L834.6 858.1L836.3 862.7L838.1 867.5L839.9 872.4L841.7 877.5L843.4 882.8L845.2 888.3L847 894L848.7 899.9" stroke="#000" stroke-width="2.6" fill="none" stroke-dasharray="11.2 11.65" stroke-dashoffset="3.2"/><path d="M502.9 520.9V875.6M102.9 698.5H884.8" stroke="#AEAEAE" stroke-width="2.84" fill="none"/></g><rect x="900.2" y="475.9" width="781.7" height="45" fill="#CFCFCF"/><text x="1291.1" y="507.9" font-size="23.47" fill="#0D0D0D" text-anchor="middle">[20,51]</text><g clip-path="url(#cp11)"><rect x="900.2" y="520.9" width="781.7" height="354.7" fill="#E5E5E5"/><path d="M1006.2 520.9V875.6M1202 520.9V875.6M1397.6 520.9V875.6M1593.3 520.9V875.6M900.2 816H1681.9M900.2 737.7H1681.9M900.2 659.4H1681.9M900.2 581.1H1681.9" stroke="#fff" stroke-width="1.42" fill="none"/><path d="M908.4 520.9V875.6M1104.1 520.9V875.6M1299.8 520.9V875.6M1495.5 520.9V875.6M900.2 855.1H1681.9M900.2 776.8H1681.9M900.2 698.5H1681.9M900.2 620.3H1681.9M900.2 542H1681.9" stroke="#fff" stroke-width="2.84" fill="none"/><path d="M1074.6 705.2h0M1078.8 704.1h0M1082.6 703.3h0M1086.1 699.9h0M1089.3 695.1h0M1092.3 691.1h0M1095.1 692h0M1097.8 692h0M1100.3 692.2h0M1102.7 691.7h0M1105 692.3h0M1107.2 691.4h0M1109.3 691.6h0M1111.3 690.6h0M1113.3 690.5h0M1115.1 690.7h0M1116.9 690.8h0M1118.7 690.5h0M1120.4 689.8h0M1122 691.1h0M1123.6 691.1h0M1125.1 690.6h0M1126.6 690.8h0M1128.1 690.6h0M1129.5 690h0M1130.9 690.9h0M1132.2 689.9h0M1133.5 695.6h0M1134.8 694.6h0M1136.1 695.7h0M1137.3 695.9h0M1138.6 694.7h0M1139.7 695.8h0M1140.9 694.7h0M1142 695.1h0M1143.2 694.7h0M1144.3 694.4h0M1145.4 694.8h0M1146.4 695.2h0M1147.5 694.5h0M1148.5 693.7h0M1149.5 693.7h0M1150.5 693.6h0M1151.5 693.4h0M1152.4 693.3h0M1153.4 693.3h0M1154.3 693.7h0M1155.3 693.2h0M1156.2 692.9h0M1158 693.8h0M1159.7 692.2h0M1161.4 692.7h0M1163.1 691.9h0M1164.7 691.9h0M1166.3 691.9h0M1167.8 691.4h0M1169.3 691.8h0M1170.8 691.5h0M1172.3 691.1h0M1173.7 691.2h0M1175.1 691.2h0M1176.5 691.4h0M1177.8 691.9h0M1179.2 690.8h0M1180.5 692.2h0M1181.8 691.9h0M1183 691.7h0M1184.3 690.8h0M1185.5 690.9h0M1186.7 691h0M1187.9 690.7h0M1189.1 692.2h0M1190.2 691.6h0M1191.4 691.3h0M1192.5 691.5h0M1193.6 691.9h0M1194.8 691h0M1195.8 691.2h0M1196.9 691.2h0M1198 691.4h0M1199 690.9h0M1200.1 691.4h0M1201.1 692h0M1202.1 691.9h0M1203.1 691.4h0M1204.1 691.1h0M1205.1 691.2h0M1206.1 692.5h0M1207.1 691.7h0M1208.1 692.8h0M1209 691.8h0M1209.9 692.1h0M1210.9 693.2h0M1211.8 692.2h0M1212.7 692.1h0M1213.6 693h0M1214.6 692.8h0M1215.9 693.2h0M1217.2 693h0M1218.5 692.7h0M1219.8 694.1h0M1221.1 694.1h0M1222.4 693.6h0M1223.7 694.3h0M1224.9 693.5h0M1226.1 694.6h0M1227.4 694.6h0M1228.6 694.6h0M1229.8 695.6h0M1231 695.8h0M1232.1 695.6h0M1233.3 694.9h0M1234.5 695.1h0M1235.6 696.1h0M1236.8 695.8h0M1237.9 696.4h0M1239 696.1h0M1240.2 697.1h0M1241.3 696.5h0M1242.4 696.5h0M1243.5 697.4h0M1244.6 698h0M1245.6 698.1h0M1246.7 697.2h0M1247.8 698.5h0M1248.8 698.9h0M1249.9 699h0M1250.9 698.7h0M1252 699h0M1253 699.7h0M1254.1 699.5h0M1255.1 699.7h0M1256.1 699.5h0M1257.1 699.2h0M1258.2 699.8h0M1259.2 700.9h0M1260.2 700.8h0M1261.2 701.3h0M1262.2 700.7h0M1263.2 701h0M1264.2 701.9h0M1265.2 701.2h0M1266.1 701.5h0M1267.1 701.8h0M1268.1 702h0M1269.1 700.7h0M1270 700.8h0M1271 701.2h0M1272 701h0M1272.9 700.7h0M1273.9 701.9h0M1274.9 701.4h0M1275.8 702.2h0M1276.8 702.2h0M1277.7 701.1h0M1278.7 702.2h0M1279.6 700.8h0M1280.5 701.1h0M1281.5 701.2h0M1282.4 702h0M1283.4 701.4h0M1284.3 702h0M1285.2 700.8h0M1286.2 701.4h0M1287.1 702h0M1288 701.5h0M1289 701.8h0M1289.9 702h0M1290.8 700.8h0M1291.8 701.1h0M1292.7 701.7h0M1293.6 700.9h0M1294.6 701.8h0M1295.5 700.8h0M1296.4 701.3h0M1297.3 701.6h0M1298.3 702h0M1299.2 701.1h0M1300.1 700.9h0M1301 701.1h0M1302 700.5h0M1302.9 700.3h0M1303.8 701.6h0M1304.7 701.7h0M1305.7 700.6h0M1306.6 700.4h0M1307.5 700h0M1308.4 700.2h0M1309.4 700.2h0M1310.3 699.9h0M1311.2 700.3h0M1312.2 700.3h0M1313.1 700.6h0M1314 699.9h0M1315 699.8h0M1315.9 700h0M1316.9 699.9h0M1317.8 700.4h0M1318.7 700.1h0M1319.7 700.1h0M1320.6 699.7h0M1321.6 699.9h0M1322.5 699.3h0M1323.5 699.3h0M1324.4 700.4h0M1325.4 700.3h0M1326.3 699.3h0M1327.3 700.2h0M1328.3 699.4h0M1329.2 698.7h0M1330.2 699.9h0M1331.2 699.1h0M1332.2 700h0M1333.1 700.7h0M1334.1 700.6h0M1335.1 700.5h0M1336.1 701.4h0M1337.1 701.8h0M1338.1 702.4h0M1339.1 701.3h0M1340.1 702.3h0M1341.1 697.2h0M1342.1 698.8h0M1343.1 698.7h0M1344.2 698.5h0M1345.2 699.1h0M1346.2 699h0M1347.3 700.2h0M1348.3 699.8h0M1349.4 699.7h0M1350.4 700.9h0M1351.5 700.6h0M1352.5 700.5h0M1353.6 700.8h0M1354.7 705h0M1355.8 704.5h0M1356.9 703.4h0M1358 703.7h0M1359.1 703.6h0M1360.2 703.1h0M1361.3 703.1h0M1362.4 701.7h0M1363.6 702.4h0M1364.7 700.8h0M1365.9 701.4h0M1367.1 701.3h0M1368.2 700.9h0M1369.4 700.8h0M1370.6 699.9h0M1371.8 700.1h0M1373.1 701.1h0M1374.3 701.8h0M1375.5 703.1h0M1376.8 703.5h0M1378 705.2h0M1379.3 703.4h0M1380.6 704h0M1381.9 704.6h0M1383.3 705.6h0M1384.6 706.9h0M1385.5 706.9h0M1386.4 707.2h0M1387.3 707.6h0M1388.2 707.5h0M1389.2 707.7h0M1390.1 708h0M1391.1 709.6h0M1392 709.6h0M1393 709h0M1394 709.2h0M1395 709.2h0M1396 709.6h0M1397 709.5h0M1398 709.5h0M1399 709.9h0M1400 710.2h0M1401.1 710h0M1402.1 711.1h0M1403.2 710.7h0M1404.3 710.4h0M1405.4 712.1h0M1406.5 711.2h0M1407.6 712.8h0M1408.8 712.1h0M1409.9 712.8h0M1411.1 714.3h0M1412.3 714h0M1413.5 714.8h0M1414.7 714.5h0M1415.9 715.1h0M1417.2 716.4h0M1418.5 716.7h0M1419.8 717.5h0M1421.1 717.6h0M1422.4 718.9h0M1423.8 718.3h0M1425.2 719h0M1426.6 718.6h0M1428.1 718.7h0M1429.5 718.2h0M1431 717h0M1432.6 716.8h0M1434.1 717.2h0M1435.7 716.9h0M1437.4 715.7h0M1439 715.4h0M1440.8 716.8h0M1442.5 716h0M1444.3 715.2h0M1445.3 715.3h0M1446.2 715.4h0M1447.2 716h0M1448.1 715.9h0M1449.1 714.7h0M1450.1 715.4h0M1451.1 715.1h0M1452.1 715.1h0M1453.2 714.3h0M1454.2 715.5h0M1455.3 714.4h0M1456.4 715.5h0M1457.6 715h0M1458.7 715.6h0M1459.9 715.9h0M1461 715.7h0M1462.3 715.7h0M1463.5 716.3h0M1464.8 716.6h0M1466.1 715.8h0M1467.4 716.1h0M1468.7 716.3h0M1470.1 715.7h0M1471.5 715.9h0M1473 716.5h0M1474.5 716.1h0M1476 716.1h0M1477.6 716h0M1479.2 716.4h0M1480.9 716.5h0M1482.7 717h0M1484.5 716.4h0M1486.3 717.2h0M1488.3 716.2h0M1490.3 717.9h0M1492.4 717h0M1494.6 717.7h0M1496.9 718.1h0M1499.3 720h0M1501.8 719.9h0M1504.5 720.7h0M1507.3 722.2h0M1510.3 723.7h0M1513.5 725.9h0M1517 727.7h0M1520.8 727.1h0" stroke="#F65E54" stroke-opacity="0.95" stroke-width="12.3" stroke-linecap="round" fill="none"/><circle cx="984.2" cy="805.6" r="5.2" fill="#F65E54" fill-opacity="0.8" stroke="#F65E54" stroke-opacity="0.8" stroke-width="1.9"/><circle cx="1016.4" cy="768.1" r="5.2" fill="#F65E54" fill-opacity="0.8" stroke="#F65E54" stroke-opacity="0.8" stroke-width="1.9"/><circle cx="1032.4" cy="722.3" r="5.2" fill="#F65E54" fill-opacity="0.8" stroke="#F65E54" stroke-opacity="0.8" stroke-width="1.9"/><circle cx="1043.5" cy="725" r="5.2" fill="#F65E54" fill-opacity="0.8" stroke="#F65E54" stroke-opacity="0.8" stroke-width="1.9"/><circle cx="1052" cy="726.2" r="5.2" fill="#F65E54" fill-opacity="0.8" stroke="#F65E54" stroke-opacity="0.8" stroke-width="1.9"/><circle cx="1058.9" cy="720" r="5.2" fill="#F65E54" fill-opacity="0.8" stroke="#F65E54" stroke-opacity="0.8" stroke-width="1.9"/><circle cx="1064.9" cy="718" r="5.2" fill="#F65E54" fill-opacity="0.8" stroke="#F65E54" stroke-opacity="0.8" stroke-width="1.9"/><circle cx="1070" cy="716" r="5.2" fill="#F65E54" fill-opacity="0.8" stroke="#F65E54" stroke-opacity="0.8" stroke-width="1.9"/><circle cx="1615.4" cy="718" r="5.2" fill="#F65E54" fill-opacity="0.8" stroke="#F65E54" stroke-opacity="0.8" stroke-width="1.9"/><circle cx="1583.2" cy="686.8" r="5.2" fill="#F65E54" fill-opacity="0.8" stroke="#F65E54" stroke-opacity="0.8" stroke-width="1.9"/><circle cx="1567.2" cy="755" r="5.2" fill="#F65E54" fill-opacity="0.8" stroke="#F65E54" stroke-opacity="0.8" stroke-width="1.9"/><circle cx="1556.1" cy="744.7" r="5.2" fill="#F65E54" fill-opacity="0.8" stroke="#F65E54" stroke-opacity="0.8" stroke-width="1.9"/><circle cx="1547.6" cy="730" r="5.2" fill="#F65E54" fill-opacity="0.8" stroke="#F65E54" stroke-opacity="0.8" stroke-width="1.9"/><circle cx="1540.7" cy="726.9" r="5.2" fill="#F65E54" fill-opacity="0.8" stroke="#F65E54" stroke-opacity="0.8" stroke-width="1.9"/><circle cx="1534.7" cy="728" r="5.2" fill="#F65E54" fill-opacity="0.8" stroke="#F65E54" stroke-opacity="0.8" stroke-width="1.9"/><circle cx="1529.6" cy="726" r="5.2" fill="#F65E54" fill-opacity="0.8" stroke="#F65E54" stroke-opacity="0.8" stroke-width="1.9"/><circle cx="1525" cy="725" r="5.2" fill="#F65E54" fill-opacity="0.8" stroke="#F65E54" stroke-opacity="0.8" stroke-width="1.9"/><path d="M1074.6 705.5h0M1078.8 707.1h0M1082.6 703.1h0M1086.1 701h0M1089.3 697.3h0M1092.3 695.4h0M1095.1 693.2h0M1097.8 692h0M1100.3 691.3h0M1102.7 692h0M1105 691.1h0M1107.2 691h0M1109.3 690.5h0M1111.3 691.2h0M1113.3 690h0M1115.1 690.9h0M1116.9 691.2h0M1118.7 689.8h0M1120.4 690.2h0M1122 690.3h0M1123.6 689.3h0M1125.1 689.9h0M1126.6 691h0M1128.1 691.9h0M1129.5 691.9h0M1130.9 692.1h0M1132.2 692.6h0M1133.5 692.1h0M1134.8 692.7h0M1136.1 692.8h0M1137.3 692h0M1138.6 692.5h0M1139.7 692.2h0M1140.9 692.5h0M1142 691.8h0M1143.2 693h0M1144.3 692.4h0M1145.4 691.8h0M1146.4 692.2h0M1147.5 692h0M1148.5 692.5h0M1149.5 692.4h0M1150.5 692.1h0M1151.5 692.2h0M1152.4 691.7h0M1153.4 691h0M1154.3 691.7h0M1155.3 690.9h0M1156.2 690.3h0M1158 689.6h0M1159.7 690.6h0M1161.4 689.7h0M1163.1 689.6h0M1164.7 688.6h0M1166.3 688.6h0M1167.8 688.2h0M1169.3 687.5h0M1170.8 686.5h0M1172.3 685.6h0M1173.7 686.2h0M1175.1 686.2h0M1176.5 686.8h0M1177.8 687.6h0M1179.2 687.6h0M1180.5 687.8h0M1181.8 687.7h0M1183 688.1h0M1184.3 688.9h0M1185.5 688.8h0M1186.7 689.2h0M1187.9 689.4h0M1189.1 689.1h0M1190.2 689.5h0M1191.4 689.8h0M1192.5 690h0M1193.6 689.3h0M1194.8 690h0M1195.8 689.7h0M1196.9 689.9h0M1198 691h0M1199 690h0M1200.1 690.5h0M1201.1 690.4h0M1202.1 690.6h0M1203.1 691.4h0M1204.1 691.6h0M1205.1 690.1h0M1206.1 691h0M1207.1 690.9h0M1208.1 690.6h0M1209 689.7h0M1209.9 689.4h0M1210.9 689.5h0M1211.8 689h0M1212.7 689.2h0M1213.6 689.3h0M1214.6 689.4h0M1215.9 689h0M1217.2 689.8h0M1218.5 689.5h0M1219.8 690.5h0M1221.1 689.9h0M1222.4 691h0M1223.7 690.7h0M1224.9 692.2h0M1226.1 692.7h0M1227.4 691.6h0M1228.6 691.6h0M1229.8 692.8h0M1231 693.3h0M1232.1 693.1h0M1233.3 693.9h0M1234.5 693h0M1235.6 694.4h0M1236.8 694.8h0M1237.9 695.8h0M1239 695.7h0M1240.2 696.1h0M1241.3 696h0M1242.4 696.7h0M1243.5 696.9h0M1244.6 698.2h0M1245.6 698.5h0M1246.7 698.1h0M1247.8 697.6h0M1248.8 697.9h0M1249.9 698.8h0M1250.9 698.2h0M1252 698.3h0M1253 698.2h0M1254.1 697.8h0M1255.1 697.8h0M1256.1 698.7h0M1257.1 698.5h0M1258.2 699.5h0M1259.2 698.4h0M1260.2 698.5h0M1261.2 698.9h0M1262.2 698.9h0M1263.2 699.5h0M1264.2 699.4h0M1265.2 699h0M1266.1 699.6h0M1267.1 699.7h0M1268.1 699.3h0M1269.1 699h0M1270 699.6h0M1271 698.9h0M1272 699.4h0M1272.9 698.3h0M1273.9 698.7h0M1274.9 698h0M1275.8 698h0M1276.8 698.9h0M1277.7 698.2h0M1278.7 697.2h0M1279.6 697.3h0M1280.5 697.3h0M1281.5 697.2h0M1282.4 696h0M1283.4 696.7h0M1284.3 696.7h0M1285.2 695.7h0M1286.2 695.6h0M1287.1 695.6h0M1288 696.1h0M1289 696h0M1289.9 695.7h0M1290.8 696h0M1291.8 696h0M1292.7 695.7h0M1293.6 696h0M1294.6 695.3h0M1295.5 695h0M1296.4 695.6h0M1297.3 694.8h0M1298.3 695.4h0M1299.2 693.8h0M1300.1 693.4h0M1301 693.6h0M1302 694.2h0M1302.9 692.8h0M1303.8 693.2h0M1304.7 692.5h0M1305.7 691.3h0M1306.6 691.2h0M1307.5 691.2h0M1308.4 690.8h0M1309.4 691.1h0M1310.3 690.8h0M1311.2 690.1h0M1312.2 690.7h0M1313.1 690.4h0M1314 690.6h0M1315 689.2h0M1315.9 689.6h0M1316.9 689.1h0M1317.8 690h0M1318.7 689.6h0M1319.7 689.7h0M1320.6 689.3h0M1321.6 690h0M1322.5 690.3h0M1323.5 689.7h0M1324.4 690.6h0M1325.4 690.6h0M1326.3 691h0M1327.3 690.6h0M1328.3 690.6h0M1329.2 690.7h0M1330.2 691.4h0M1331.2 692.4h0M1332.2 691.3h0M1333.1 691.7h0M1334.1 691.5h0M1335.1 691.6h0M1336.1 692.6h0M1337.1 692.1h0M1338.1 693.3h0M1339.1 692.6h0M1340.1 693.6h0M1341.1 693.2h0M1342.1 693.2h0M1343.1 693.3h0M1344.2 693.9h0M1345.2 694.8h0M1346.2 694.6h0M1347.3 694.3h0M1348.3 694.9h0M1349.4 695.4h0M1350.4 695.7h0M1351.5 696h0M1352.5 695.9h0M1353.6 695.4h0M1354.7 696.4h0M1355.8 695.7h0M1356.9 696.4h0M1358 696.5h0M1359.1 696.4h0M1360.2 696.8h0M1361.3 696.8h0M1362.4 697h0M1363.6 697.5h0M1364.7 697.7h0M1365.9 697.3h0M1367.1 697.8h0M1368.2 697.4h0M1369.4 697.5h0M1370.6 698.8h0M1371.8 699.1h0M1373.1 697.9h0M1374.3 699.4h0M1375.5 698.3h0M1376.8 699.9h0M1378 698.8h0M1379.3 700h0M1380.6 699.9h0M1381.9 699.8h0M1383.3 699.9h0M1384.6 699.6h0M1385.5 700.5h0M1386.4 701.3h0M1387.3 700.3h0M1388.2 700.5h0M1389.2 701.3h0M1390.1 701.5h0M1391.1 701.5h0M1392 702h0M1393 701.1h0M1394 702.3h0M1395 701.3h0M1396 702h0M1397 702.7h0M1398 702.9h0M1399 702.3h0M1400 703.3h0M1401.1 703.7h0M1402.1 703.1h0M1403.2 703.1h0M1404.3 703h0M1405.4 704.1h0M1406.5 704.8h0M1407.6 705h0M1408.8 705h0M1409.9 704.6h0M1411.1 705.5h0M1412.3 704.5h0M1413.5 704.9h0M1414.7 705.7h0M1415.9 706.1h0M1417.2 706.6h0M1418.5 706.5h0M1419.8 707h0M1421.1 707.4h0M1422.4 706.6h0M1423.8 706.8h0M1425.2 707.5h0M1426.6 708.4h0M1428.1 708.6h0M1429.5 708.5h0M1431 708.9h0M1432.6 709.7h0M1434.1 708.9h0M1435.7 709.9h0M1437.4 710.4h0M1439 710.4h0M1440.8 710.3h0M1442.5 710.9h0M1444.3 711.1h0M1445.3 710.8h0M1446.2 710.1h0M1447.2 710.6h0M1448.1 710.7h0M1449.1 708.3h0M1450.1 708.8h0M1451.1 707.6h0M1452.1 707.6h0M1453.2 708.2h0M1454.2 709.2h0M1455.3 709.2h0M1456.4 709.3h0M1457.6 710.2h0M1458.7 710.6h0M1459.9 711h0M1461 710.6h0M1462.3 711.4h0M1463.5 711.7h0M1464.8 712.9h0M1466.1 712.9h0M1467.4 713h0M1468.7 713.4h0M1470.1 713.2h0M1471.5 712.9h0M1473 712.6h0M1474.5 713.4h0M1476 712.6h0M1477.6 713.4h0M1479.2 712.8h0M1480.9 712.5h0M1482.7 712.7h0M1484.5 712.1h0M1486.3 713.3h0M1488.3 712.3h0M1490.3 712.8h0M1492.4 711.9h0M1494.6 713.2h0M1496.9 711.8h0M1499.3 711.3h0M1501.8 708.9h0M1504.5 708.6h0M1507.3 706.1h0M1510.3 707.5h0M1513.5 710.5h0M1517 713.7h0M1520.8 714h0" stroke="#8F9100" stroke-opacity="0.95" stroke-width="12.3" stroke-linecap="round" fill="none"/><circle cx="984.2" cy="802.5" r="5.2" fill="#8F9100" fill-opacity="0.8" stroke="#8F9100" stroke-opacity="0.8" stroke-width="1.9"/><circle cx="1016.4" cy="770.2" r="5.2" fill="#8F9100" fill-opacity="0.8" stroke="#8F9100" stroke-opacity="0.8" stroke-width="1.9"/><circle cx="1032.4" cy="729.6" r="5.2" fill="#8F9100" fill-opacity="0.8" stroke="#8F9100" stroke-opacity="0.8" stroke-width="1.9"/><circle cx="1043.5" cy="725.7" r="5.2" fill="#8F9100" fill-opacity="0.8" stroke="#8F9100" stroke-opacity="0.8" stroke-width="1.9"/><circle cx="1052" cy="719" r="5.2" fill="#8F9100" fill-opacity="0.8" stroke="#8F9100" stroke-opacity="0.8" stroke-width="1.9"/><circle cx="1058.9" cy="718" r="5.2" fill="#8F9100" fill-opacity="0.8" stroke="#8F9100" stroke-opacity="0.8" stroke-width="1.9"/><circle cx="1064.9" cy="716" r="5.2" fill="#8F9100" fill-opacity="0.8" stroke="#8F9100" stroke-opacity="0.8" stroke-width="1.9"/><circle cx="1070" cy="715.8" r="5.2" fill="#8F9100" fill-opacity="0.8" stroke="#8F9100" stroke-opacity="0.8" stroke-width="1.9"/><circle cx="1615.4" cy="716.3" r="5.2" fill="#8F9100" fill-opacity="0.8" stroke="#8F9100" stroke-opacity="0.8" stroke-width="1.9"/><circle cx="1583.2" cy="684.4" r="5.2" fill="#8F9100" fill-opacity="0.8" stroke="#8F9100" stroke-opacity="0.8" stroke-width="1.9"/><circle cx="1567.2" cy="738" r="5.2" fill="#8F9100" fill-opacity="0.8" stroke="#8F9100" stroke-opacity="0.8" stroke-width="1.9"/><circle cx="1556.1" cy="730" r="5.2" fill="#8F9100" fill-opacity="0.8" stroke="#8F9100" stroke-opacity="0.8" stroke-width="1.9"/><circle cx="1547.6" cy="725" r="5.2" fill="#8F9100" fill-opacity="0.8" stroke="#8F9100" stroke-opacity="0.8" stroke-width="1.9"/><circle cx="1540.7" cy="721.2" r="5.2" fill="#8F9100" fill-opacity="0.8" stroke="#8F9100" stroke-opacity="0.8" stroke-width="1.9"/><circle cx="1534.7" cy="720" r="5.2" fill="#8F9100" fill-opacity="0.8" stroke="#8F9100" stroke-opacity="0.8" stroke-width="1.9"/><circle cx="1529.6" cy="715" r="5.2" fill="#8F9100" fill-opacity="0.8" stroke="#8F9100" stroke-opacity="0.8" stroke-width="1.9"/><circle cx="1525" cy="710" r="5.2" fill="#8F9100" fill-opacity="0.8" stroke="#8F9100" stroke-opacity="0.8" stroke-width="1.9"/><path d="M1074.6 729.9h0M1078.8 731.7h0M1082.6 729.8h0M1086.1 728.3h0M1089.3 727.7h0M1092.3 724.6h0M1095.1 723.8h0M1097.8 719.5h0M1100.3 720.5h0M1102.7 717.7h0M1105 716.9h0M1107.2 714.5h0M1109.3 715.3h0M1111.3 714.5h0M1113.3 712h0M1115.1 712.2h0M1116.9 710.1h0M1118.7 709h0M1120.4 709.5h0M1122 708h0M1123.6 708h0M1125.1 708.4h0M1126.6 708.1h0M1128.1 707h0M1129.5 707.4h0M1130.9 708.8h0M1132.2 708.6h0M1133.5 708.8h0M1134.8 709h0M1136.1 709.4h0M1137.3 709.9h0M1138.6 709.6h0M1139.7 709.7h0M1140.9 709.5h0M1142 709.1h0M1143.2 710h0M1144.3 710.6h0M1145.4 710.8h0M1146.4 710.5h0M1147.5 710.6h0M1148.5 710h0M1149.5 711.1h0M1150.5 710.6h0M1151.5 709.7h0M1152.4 709.5h0M1153.4 709.3h0M1154.3 709.7h0M1155.3 709.2h0M1156.2 709.3h0M1158 707.9h0M1159.7 706.9h0M1161.4 705.9h0M1163.1 705.8h0M1164.7 706.9h0M1166.3 706.4h0M1167.8 706.1h0M1169.3 706.8h0M1170.8 706.1h0M1172.3 706.8h0M1173.7 707h0M1175.1 707.2h0M1176.5 705.8h0M1177.8 707.3h0M1179.2 706.2h0M1180.5 706.1h0M1181.8 707.3h0M1183 707.2h0M1184.3 706.4h0M1185.5 706.5h0M1186.7 706.9h0M1187.9 706h0M1189.1 707.1h0M1190.2 705.9h0M1191.4 706.7h0M1192.5 706.2h0M1193.6 706.5h0M1194.8 706h0M1195.8 707.1h0M1196.9 706.3h0M1198 706.1h0M1199 706.1h0M1200.1 706.2h0M1201.1 707.1h0M1202.1 707.2h0M1203.1 707.2h0M1204.1 706.5h0M1205.1 707h0M1206.1 706.5h0M1207.1 706.5h0M1208.1 706.9h0M1209 705.9h0M1209.9 705.8h0M1210.9 707h0M1211.8 707.3h0M1212.7 706.7h0M1213.6 706.1h0M1214.6 706.1h0M1215.9 706.7h0M1217.2 707.8h0M1218.5 707.3h0M1219.8 707.1h0M1221.1 707.8h0M1222.4 708.9h0M1223.7 708.2h0M1224.9 709.4h0M1226.1 708.9h0M1227.4 710.4h0M1228.6 710.8h0M1229.8 711.3h0M1231 712h0M1232.1 712.7h0M1233.3 712.4h0M1234.5 713.4h0M1235.6 713.4h0M1236.8 713h0M1237.9 713.1h0M1239 713.5h0M1240.2 713.2h0M1241.3 712.9h0M1242.4 714.3h0M1243.5 713.4h0M1244.6 714.1h0M1245.6 713.9h0M1246.7 713.7h0M1247.8 713.4h0M1248.8 714.3h0M1249.9 713.6h0M1250.9 714.4h0M1252 713.8h0M1253 714.2h0M1254.1 712.9h0M1255.1 713.3h0M1256.1 713.6h0M1257.1 713.5h0M1258.2 712.7h0M1259.2 713.8h0M1260.2 712.8h0M1261.2 713.4h0M1262.2 713h0M1263.2 712.4h0M1264.2 712.4h0M1265.2 712.4h0M1266.1 712.2h0M1267.1 712.7h0M1268.1 712.6h0M1269.1 713.2h0M1270 713.3h0M1271 712.7h0M1272 712.8h0M1272.9 712.7h0M1273.9 713.6h0M1274.9 713.8h0M1275.8 713.8h0M1276.8 713.1h0M1277.7 712.8h0M1278.7 712.7h0M1279.6 713.8h0M1280.5 713h0M1281.5 712.9h0M1282.4 712.2h0M1283.4 712h0M1284.3 713h0M1285.2 712.6h0M1286.2 712.1h0M1287.1 712.4h0M1288 712.1h0M1289 711.3h0M1289.9 710.3h0M1290.8 710.5h0M1291.8 709.4h0M1292.7 709.2h0M1293.6 707.9h0M1294.6 708.5h0M1295.5 707.4h0M1296.4 706.9h0M1297.3 706.4h0M1298.3 706.2h0M1299.2 705.4h0M1300.1 705.9h0M1301 705.6h0M1302 705.1h0M1302.9 705.1h0M1303.8 704.5h0M1304.7 705.2h0M1305.7 705.1h0M1306.6 704.7h0M1307.5 704.7h0M1308.4 704h0M1309.4 704.6h0M1310.3 703.8h0M1311.2 703.9h0M1312.2 704.3h0M1313.1 704.4h0M1314 704.5h0M1315 704.8h0M1315.9 704.2h0M1316.9 705.1h0M1317.8 704.1h0M1318.7 704h0M1319.7 704.7h0M1320.6 703.5h0M1321.6 703.4h0M1322.5 704h0M1323.5 703h0M1324.4 703.1h0M1325.4 703.4h0M1326.3 703.5h0M1327.3 703h0M1328.3 702.8h0M1329.2 703.1h0M1330.2 703.3h0M1331.2 702.1h0M1332.2 702.2h0M1333.1 703.5h0M1334.1 702.7h0M1335.1 704.1h0M1336.1 703.1h0M1337.1 704.6h0M1338.1 703.4h0M1339.1 704.3h0M1340.1 705.1h0M1341.1 704.2h0M1342.1 705.2h0M1343.1 705.5h0M1344.2 705.6h0M1345.2 706.1h0M1346.2 705.6h0M1347.3 706h0M1348.3 706.1h0M1349.4 706.2h0M1350.4 706.8h0M1351.5 706.3h0M1352.5 706.8h0M1353.6 707.1h0M1354.7 706.7h0M1355.8 707.2h0M1356.9 707.7h0M1358 707.4h0M1359.1 707.6h0M1360.2 707.6h0M1361.3 707.2h0M1362.4 706.9h0M1363.6 708.1h0M1364.7 707.3h0M1365.9 707.1h0M1367.1 708.4h0M1368.2 707.9h0M1369.4 707.8h0M1370.6 708.4h0M1371.8 707.2h0M1373.1 707.8h0M1374.3 708.1h0M1375.5 707.7h0M1376.8 708.9h0M1378 708.4h0M1379.3 707.6h0M1380.6 708.8h0M1381.9 708.1h0M1383.3 707.9h0M1384.6 708.7h0M1385.5 708.5h0M1386.4 707.8h0M1387.3 707.9h0M1388.2 708.8h0M1389.2 708.1h0M1390.1 709.1h0M1391.1 709h0M1392 707.9h0M1393 708.1h0M1394 708.9h0M1395 708.2h0M1396 708.2h0M1397 708h0M1398 708.3h0M1399 708.3h0M1400 708.3h0M1401.1 708.3h0M1402.1 708.7h0M1403.2 708.2h0M1404.3 708.9h0M1405.4 708.4h0M1406.5 708.7h0M1407.6 707.9h0M1408.8 708.3h0M1409.9 709.2h0M1411.1 708.7h0M1412.3 709.1h0M1413.5 708h0M1414.7 708.7h0M1415.9 708.6h0M1417.2 711.4h0M1418.5 710.8h0M1419.8 711.2h0M1421.1 711.1h0M1422.4 710.6h0M1423.8 710.1h0M1425.2 710.1h0M1426.6 711.1h0M1428.1 711h0M1429.5 710.8h0M1431 710.3h0M1432.6 710.9h0M1434.1 709.6h0M1435.7 709.4h0M1437.4 709.7h0M1439 710.4h0M1440.8 709.2h0M1442.5 709.6h0M1444.3 708.4h0M1445.3 708.9h0M1446.2 708.9h0M1447.2 707.8h0M1448.1 708.9h0M1449.1 709h0M1450.1 708.8h0M1451.1 707.4h0M1452.1 707.2h0M1453.2 707.1h0M1454.2 707h0M1455.3 706.6h0M1456.4 707h0M1457.6 706.3h0M1458.7 705.8h0M1459.9 706.1h0M1461 705.9h0M1462.3 706.4h0M1463.5 705.8h0M1464.8 707.2h0M1466.1 706.2h0M1467.4 706.4h0M1468.7 707.4h0M1470.1 707.9h0M1471.5 707.7h0M1473 707.4h0M1474.5 708.5h0M1476 708.1h0M1477.6 709.5h0M1479.2 709.1h0M1480.9 710h0M1482.7 710.7h0M1484.5 711.3h0M1486.3 711.9h0M1488.3 713.7h0M1490.3 714.8h0M1492.4 715.6h0M1494.6 717.9h0M1496.9 719.4h0M1499.3 718.1h0M1501.8 718.1h0M1504.5 718.3h0M1507.3 717.4h0M1510.3 720.1h0M1513.5 723.6h0M1517 727.3h0M1520.8 728.2h0" stroke="#00AF65" stroke-opacity="0.95" stroke-width="12.3" stroke-linecap="round" fill="none"/><circle cx="984.2" cy="816" r="5.2" fill="#00AF65" fill-opacity="0.8" stroke="#00AF65" stroke-opacity="0.8" stroke-width="1.9"/><circle cx="1016.4" cy="754.6" r="5.2" fill="#00AF65" fill-opacity="0.8" stroke="#00AF65" stroke-opacity="0.8" stroke-width="1.9"/><circle cx="1032.4" cy="771.2" r="5.2" fill="#00AF65" fill-opacity="0.8" stroke="#00AF65" stroke-opacity="0.8" stroke-width="1.9"/><circle cx="1043.5" cy="783.8" r="5.2" fill="#00AF65" fill-opacity="0.8" stroke="#00AF65" stroke-opacity="0.8" stroke-width="1.9"/><circle cx="1052" cy="778.5" r="5.2" fill="#00AF65" fill-opacity="0.8" stroke="#00AF65" stroke-opacity="0.8" stroke-width="1.9"/><circle cx="1058.9" cy="764.8" r="5.2" fill="#00AF65" fill-opacity="0.8" stroke="#00AF65" stroke-opacity="0.8" stroke-width="1.9"/><circle cx="1064.9" cy="773.3" r="5.2" fill="#00AF65" fill-opacity="0.8" stroke="#00AF65" stroke-opacity="0.8" stroke-width="1.9"/><circle cx="1070" cy="741.9" r="5.2" fill="#00AF65" fill-opacity="0.8" stroke="#00AF65" stroke-opacity="0.8" stroke-width="1.9"/><circle cx="1615.4" cy="683.2" r="5.2" fill="#00AF65" fill-opacity="0.8" stroke="#00AF65" stroke-opacity="0.8" stroke-width="1.9"/><circle cx="1583.2" cy="699.5" r="5.2" fill="#00AF65" fill-opacity="0.8" stroke="#00AF65" stroke-opacity="0.8" stroke-width="1.9"/><circle cx="1567.2" cy="744.7" r="5.2" fill="#00AF65" fill-opacity="0.8" stroke="#00AF65" stroke-opacity="0.8" stroke-width="1.9"/><circle cx="1556.1" cy="737.2" r="5.2" fill="#00AF65" fill-opacity="0.8" stroke="#00AF65" stroke-opacity="0.8" stroke-width="1.9"/><circle cx="1547.6" cy="735.3" r="5.2" fill="#00AF65" fill-opacity="0.8" stroke="#00AF65" stroke-opacity="0.8" stroke-width="1.9"/><circle cx="1540.7" cy="735.3" r="5.2" fill="#00AF65" fill-opacity="0.8" stroke="#00AF65" stroke-opacity="0.8" stroke-width="1.9"/><circle cx="1534.7" cy="735.3" r="5.2" fill="#00AF65" fill-opacity="0.8" stroke="#00AF65" stroke-opacity="0.8" stroke-width="1.9"/><circle cx="1529.6" cy="732" r="5.2" fill="#00AF65" fill-opacity="0.8" stroke="#00AF65" stroke-opacity="0.8" stroke-width="1.9"/><circle cx="1525" cy="728.8" r="5.2" fill="#00AF65" fill-opacity="0.8" stroke="#00AF65" stroke-opacity="0.8" stroke-width="1.9"/><path d="M1074.6 712.4h0M1078.8 720.4h0M1082.6 715.7h0M1086.1 716.4h0M1089.3 712h0M1092.3 710.4h0M1095.1 705.2h0M1097.8 701.9h0M1100.3 702.4h0M1102.7 703h0M1105 703.3h0M1107.2 702.5h0M1109.3 702.6h0M1111.3 702.5h0M1113.3 703.3h0M1115.1 703.8h0M1116.9 703.7h0M1118.7 703.5h0M1120.4 703.6h0M1122 703.9h0M1123.6 703.5h0M1125.1 702.4h0M1126.6 702.8h0M1128.1 702.9h0M1129.5 701.9h0M1130.9 700.9h0M1132.2 701.4h0M1133.5 699.1h0M1134.8 698.8h0M1136.1 695.8h0M1137.3 698.4h0M1138.6 696.7h0M1139.7 696.2h0M1140.9 696.5h0M1142 695.6h0M1143.2 696h0M1144.3 694.3h0M1145.4 695.8h0M1146.4 695.4h0M1147.5 693.3h0M1148.5 695.4h0M1149.5 694.5h0M1150.5 695h0M1151.5 692.8h0M1152.4 695.4h0M1153.4 694h0M1154.3 692.6h0M1155.3 692.2h0M1156.2 691.4h0M1158 692.1h0M1159.7 691.1h0M1161.4 692.2h0M1163.1 691.6h0M1164.7 691.4h0M1166.3 691.4h0M1167.8 691.3h0M1169.3 691.3h0M1170.8 691.1h0M1172.3 690.9h0M1173.7 690.3h0M1175.1 691h0M1176.5 691.7h0M1177.8 690.7h0M1179.2 690.4h0M1180.5 690.6h0M1181.8 690.9h0M1183 690.9h0M1184.3 691h0M1185.5 691h0M1186.7 692h0M1187.9 691h0M1189.1 690.9h0M1190.2 691.8h0M1191.4 691.4h0M1192.5 691.6h0M1193.6 692h0M1194.8 691.7h0M1195.8 693.5h0M1196.9 693.4h0M1198 694.2h0M1199 694.7h0M1200.1 694.3h0M1201.1 695.5h0M1202.1 694.7h0M1203.1 694.9h0M1204.1 694.9h0M1205.1 695.7h0M1206.1 696.3h0M1207.1 695.5h0M1208.1 696.3h0M1209 696.1h0M1209.9 695.2h0M1210.9 694.9h0M1211.8 695.6h0M1212.7 695.9h0M1213.6 694.8h0M1214.6 695.6h0M1215.9 695h0M1217.2 695.2h0M1218.5 695.7h0M1219.8 696.2h0M1221.1 695.4h0M1222.4 696h0M1223.7 696.1h0M1224.9 694.9h0M1226.1 695.3h0M1227.4 696.1h0M1228.6 696.4h0M1229.8 696.5h0M1231 697.5h0M1232.1 697.2h0M1233.3 697.6h0M1234.5 697.6h0M1235.6 697.8h0M1236.8 697.7h0M1237.9 697.8h0M1239 698.8h0M1240.2 698.7h0M1241.3 699.2h0M1242.4 698.5h0M1243.5 698.9h0M1244.6 700h0M1245.6 699.3h0M1246.7 700.7h0M1247.8 701h0M1248.8 700.3h0M1249.9 701.7h0M1250.9 701.1h0M1252 702.9h0M1253 702.5h0M1254.1 702.6h0M1255.1 703.6h0M1256.1 704h0M1257.1 703.4h0M1258.2 704.2h0M1259.2 703.2h0M1260.2 702.7h0M1261.2 704.2h0M1262.2 704.1h0M1263.2 702.7h0M1264.2 703h0M1265.2 703.6h0M1266.1 702.5h0M1267.1 703.1h0M1268.1 703.3h0M1269.1 702.5h0M1270 702.6h0M1271 702.5h0M1272 701.6h0M1272.9 700.6h0M1273.9 700.5h0M1274.9 700.9h0M1275.8 701.1h0M1276.8 700.8h0M1277.7 700h0M1278.7 699.6h0M1279.6 700.6h0M1280.5 699.1h0M1281.5 699.6h0M1282.4 698.6h0M1283.4 699.8h0M1284.3 699.3h0M1285.2 699.4h0M1286.2 699.1h0M1287.1 698.1h0M1288 698.7h0M1289 697.7h0M1289.9 697h0M1290.8 696.5h0M1291.8 696.3h0M1292.7 696.6h0M1293.6 695.3h0M1294.6 695.9h0M1295.5 695.8h0M1296.4 694h0M1297.3 694.6h0M1298.3 693.9h0M1299.2 693.6h0M1300.1 692.6h0M1301 693.1h0M1302 693.2h0M1302.9 691.8h0M1303.8 691.9h0M1304.7 691.3h0M1305.7 690.8h0M1306.6 690.6h0M1307.5 690.2h0M1308.4 691.2h0M1309.4 690.3h0M1310.3 690.4h0M1311.2 690.8h0M1312.2 690.1h0M1313.1 690.8h0M1314 690.6h0M1315 690h0M1315.9 690.8h0M1316.9 690.3h0M1317.8 689.9h0M1318.7 690h0M1319.7 691.2h0M1320.6 691.3h0M1321.6 690.7h0M1322.5 691.4h0M1323.5 691.1h0M1324.4 692.5h0M1325.4 692.1h0M1326.3 693h0M1327.3 693.4h0M1328.3 693.8h0M1329.2 692.7h0M1330.2 693.8h0M1331.2 693h0M1332.2 693.3h0M1333.1 693.5h0M1334.1 692.5h0M1335.1 692.6h0M1336.1 693.3h0M1337.1 692.8h0M1338.1 692.2h0M1339.1 692.4h0M1340.1 692.6h0M1341.1 693h0M1342.1 692.5h0M1343.1 692.4h0M1344.2 693.4h0M1345.2 693.8h0M1346.2 693.8h0M1347.3 694h0M1348.3 693.7h0M1349.4 693.6h0M1350.4 694.6h0M1351.5 693.9h0M1352.5 694.7h0M1353.6 694.1h0M1354.7 695h0M1355.8 694.2h0M1356.9 694.7h0M1358 695.9h0M1359.1 695.3h0M1360.2 694.6h0M1361.3 695.4h0M1362.4 694.7h0M1363.6 694.9h0M1364.7 695.8h0M1365.9 695.1h0M1367.1 696h0M1368.2 696.1h0M1369.4 696h0M1370.6 695.6h0M1371.8 695.9h0M1373.1 696.1h0M1374.3 695.8h0M1375.5 695.9h0M1376.8 695.9h0M1378 695.6h0M1379.3 695.6h0M1380.6 696h0M1381.9 695.2h0M1383.3 695.9h0M1384.6 695.8h0M1385.5 695.6h0M1386.4 695.5h0M1387.3 695.3h0M1388.2 696.5h0M1389.2 696.2h0M1390.1 695.9h0M1391.1 695.9h0M1392 696.3h0M1393 695.8h0M1394 696.3h0M1395 696.6h0M1396 696.6h0M1397 697.3h0M1398 697.2h0M1399 698.1h0M1400 698h0M1401.1 697.5h0M1402.1 698.7h0M1403.2 699.1h0M1404.3 698.7h0M1405.4 699.7h0M1406.5 699.7h0M1407.6 701.1h0M1408.8 701.2h0M1409.9 701.5h0M1411.1 701.8h0M1412.3 703.4h0M1413.5 703.3h0M1414.7 704.7h0M1415.9 705.1h0M1417.2 705.3h0M1418.5 705h0M1419.8 705.4h0M1421.1 706.3h0M1422.4 706.4h0M1423.8 707.4h0M1425.2 707.5h0M1426.6 707.5h0M1428.1 708.7h0M1429.5 708.7h0M1431 708.9h0M1432.6 709.5h0M1434.1 709.1h0M1435.7 708.8h0M1437.4 708.8h0M1439 708.7h0M1440.8 707.4h0M1442.5 714.3h0M1444.3 711h0M1445.3 707.4h0M1446.2 713.5h0M1447.2 706.6h0M1448.1 709.3h0M1449.1 703.3h0M1450.1 706.9h0M1451.1 704.5h0M1452.1 703h0M1453.2 701.6h0M1454.2 701h0M1455.3 700.5h0M1456.4 699.6h0M1457.6 697.9h0M1458.7 696.4h0M1459.9 696.2h0M1461 694.7h0M1462.3 693.3h0M1463.5 692.1h0M1464.8 689.9h0M1466.1 688.7h0M1467.4 688.1h0M1468.7 689.6h0M1470.1 689.3h0M1471.5 689.7h0M1473 689.7h0M1474.5 689.4h0M1476 691h0M1477.6 691.6h0M1479.2 691.4h0M1480.9 691.5h0M1482.7 692.8h0M1484.5 692.4h0M1486.3 693.2h0M1488.3 694.4h0M1490.3 694.6h0M1492.4 696.6h0M1494.6 696.5h0M1496.9 699.1h0M1499.3 701.5h0M1501.8 709.9h0M1504.5 714.1h0M1507.3 717h0M1510.3 717.4h0M1513.5 721.5h0M1517 723.5h0M1520.8 724h0" stroke="#009DF3" stroke-opacity="0.95" stroke-width="12.3" stroke-linecap="round" fill="none"/><circle cx="984.2" cy="779.2" r="5.2" fill="#009DF3" fill-opacity="0.8" stroke="#009DF3" stroke-opacity="0.8" stroke-width="1.9"/><circle cx="1016.4" cy="781.7" r="5.2" fill="#009DF3" fill-opacity="0.8" stroke="#009DF3" stroke-opacity="0.8" stroke-width="1.9"/><circle cx="1032.4" cy="765" r="5.2" fill="#009DF3" fill-opacity="0.8" stroke="#009DF3" stroke-opacity="0.8" stroke-width="1.9"/><circle cx="1043.5" cy="763.8" r="5.2" fill="#009DF3" fill-opacity="0.8" stroke="#009DF3" stroke-opacity="0.8" stroke-width="1.9"/><circle cx="1052" cy="740.8" r="5.2" fill="#009DF3" fill-opacity="0.8" stroke="#009DF3" stroke-opacity="0.8" stroke-width="1.9"/><circle cx="1058.9" cy="744.5" r="5.2" fill="#009DF3" fill-opacity="0.8" stroke="#009DF3" stroke-opacity="0.8" stroke-width="1.9"/><circle cx="1064.9" cy="751.2" r="5.2" fill="#009DF3" fill-opacity="0.8" stroke="#009DF3" stroke-opacity="0.8" stroke-width="1.9"/><circle cx="1070" cy="733.5" r="5.2" fill="#009DF3" fill-opacity="0.8" stroke="#009DF3" stroke-opacity="0.8" stroke-width="1.9"/><circle cx="1615.4" cy="601.3" r="5.2" fill="#009DF3" fill-opacity="0.8" stroke="#009DF3" stroke-opacity="0.8" stroke-width="1.9"/><circle cx="1583.2" cy="656.2" r="5.2" fill="#009DF3" fill-opacity="0.8" stroke="#009DF3" stroke-opacity="0.8" stroke-width="1.9"/><circle cx="1567.2" cy="736.2" r="5.2" fill="#009DF3" fill-opacity="0.8" stroke="#009DF3" stroke-opacity="0.8" stroke-width="1.9"/><circle cx="1556.1" cy="727.8" r="5.2" fill="#009DF3" fill-opacity="0.8" stroke="#009DF3" stroke-opacity="0.8" stroke-width="1.9"/><circle cx="1547.6" cy="716.1" r="5.2" fill="#009DF3" fill-opacity="0.8" stroke="#009DF3" stroke-opacity="0.8" stroke-width="1.9"/><circle cx="1540.7" cy="722" r="5.2" fill="#009DF3" fill-opacity="0.8" stroke="#009DF3" stroke-opacity="0.8" stroke-width="1.9"/><circle cx="1534.7" cy="726" r="5.2" fill="#009DF3" fill-opacity="0.8" stroke="#009DF3" stroke-opacity="0.8" stroke-width="1.9"/><circle cx="1529.6" cy="724" r="5.2" fill="#009DF3" fill-opacity="0.8" stroke="#009DF3" stroke-opacity="0.8" stroke-width="1.9"/><circle cx="1525" cy="721.2" r="5.2" fill="#009DF3" fill-opacity="0.8" stroke="#009DF3" stroke-opacity="0.8" stroke-width="1.9"/><path d="M1074.6 726.7h0M1078.8 728.9h0M1082.6 723.2h0M1086.1 717.5h0M1089.3 697.4h0M1092.3 690.2h0M1095.1 690.2h0M1097.8 687.5h0M1100.3 688.2h0M1102.7 684.7h0M1105 690h0M1107.2 688.9h0M1109.3 687.1h0M1111.3 689.4h0M1113.3 688.5h0M1115.1 688.5h0M1116.9 688h0M1118.7 690h0M1120.4 689.5h0M1122 689.6h0M1123.6 690.3h0M1125.1 689.9h0M1126.6 690.6h0M1128.1 690.1h0M1129.5 692.4h0M1130.9 691.7h0M1132.2 691.4h0M1133.5 694.2h0M1134.8 692.9h0M1136.1 695.2h0M1137.3 693.7h0M1138.6 701.3h0M1139.7 698.2h0M1140.9 695.5h0M1142 702.5h0M1143.2 698h0M1144.3 700.5h0M1145.4 695.7h0M1146.4 703.9h0M1147.5 700.3h0M1148.5 697.6h0M1149.5 702.9h0M1150.5 700.1h0M1151.5 701.8h0M1152.4 696.4h0M1153.4 704.2h0M1154.3 699.6h0M1155.3 697.1h0M1156.2 703.6h0M1158 698.4h0M1159.7 701h0M1161.4 695.8h0M1163.1 703.3h0M1164.7 699.6h0M1166.3 699h0M1167.8 701.9h0M1169.3 700.7h0M1170.8 701.8h0M1172.3 699.4h0M1173.7 703.4h0M1175.1 700.9h0M1176.5 698.8h0M1177.8 701.9h0M1179.2 699.7h0M1180.5 701.9h0M1181.8 697.6h0M1183 704.2h0M1184.3 700.8h0M1185.5 698.5h0M1186.7 702.1h0M1187.9 698.6h0M1189.1 700.7h0M1190.2 697.1h0M1191.4 704.1h0M1192.5 700.8h0M1193.6 699h0M1194.8 704h0M1195.8 702.4h0M1196.9 703.3h0M1198 701.1h0M1199 707.1h0M1200.1 705.7h0M1201.1 704.1h0M1202.1 707.3h0M1203.1 706.5h0M1204.1 707.7h0M1205.1 705h0M1206.1 708.7h0M1207.1 707.2h0M1208.1 706.2h0M1209 709h0M1209.9 705.9h0M1210.9 708.2h0M1211.8 704.8h0M1212.7 709.2h0M1213.6 707h0M1214.6 706.1h0M1215.9 707.7h0M1217.2 706.3h0M1218.5 707.5h0M1219.8 705.8h0M1221.1 707.3h0M1222.4 706.2h0M1223.7 704.8h0M1224.9 706.1h0M1226.1 705.8h0M1227.4 706.1h0M1228.6 704.5h0M1229.8 707.1h0M1231 705.8h0M1232.1 705.3h0M1233.3 705.8h0M1234.5 705.2h0M1235.6 705.6h0M1236.8 704.7h0M1237.9 706.4h0M1239 706.3h0M1240.2 706h0M1241.3 706.6h0M1242.4 705.1h0M1243.5 705.2h0M1244.6 704.6h0M1245.6 706.5h0M1246.7 705.7h0M1247.8 705.1h0M1248.8 707.3h0M1249.9 705.8h0M1250.9 707.3h0M1252 704.5h0M1253 708.8h0M1254.1 705.6h0M1255.1 704.7h0M1256.1 708.1h0M1257.1 706.8h0M1258.2 708.6h0M1259.2 706h0M1260.2 711.7h0M1261.2 709.2h0M1262.2 708.6h0M1263.2 711.9h0M1264.2 710.8h0M1265.2 712.7h0M1266.1 708.3h0M1267.1 713h0M1268.1 710.8h0M1269.1 708.6h0M1270 711.3h0M1271 708.6h0M1272 710.3h0M1272.9 707.4h0M1273.9 710.7h0M1274.9 708.3h0M1275.8 706.9h0M1276.8 709.7h0M1277.7 707.4h0M1278.7 707.5h0M1279.6 705.8h0M1280.5 709.6h0M1281.5 706.8h0M1282.4 705.7h0M1283.4 707.6h0M1284.3 705.5h0M1285.2 706.4h0M1286.2 703h0M1287.1 707h0M1288 705h0M1289 701.7h0M1289.9 706.3h0M1290.8 703h0M1291.8 704.7h0M1292.7 699.2h0M1293.6 707.2h0M1294.6 702.8h0M1295.5 699.5h0M1296.4 704.5h0M1297.3 699.7h0M1298.3 702.9h0M1299.2 696.6h0M1300.1 705.7h0M1301 701.1h0M1302 697.5h0M1302.9 703.5h0M1303.8 698.2h0M1304.7 700.6h0M1305.7 695h0M1306.6 702.2h0M1307.5 698h0M1308.4 696.5h0M1309.4 701h0M1310.3 697h0M1311.2 699.5h0M1312.2 695.4h0M1313.1 702.2h0M1314 698.7h0M1315 696.2h0M1315.9 701.9h0M1316.9 697.6h0M1317.8 700.4h0M1318.7 695.9h0M1319.7 702.1h0M1320.6 698.3h0M1321.6 696.2h0M1322.5 701.6h0M1323.5 698.4h0M1324.4 700.3h0M1325.4 697.4h0M1326.3 702h0M1327.3 699.1h0M1328.3 698.7h0M1329.2 701.3h0M1330.2 699.5h0M1331.2 700.7h0M1332.2 697.2h0M1333.1 701.9h0M1334.1 699.6h0M1335.1 697.8h0M1336.1 700.8h0M1337.1 699.4h0M1338.1 701.5h0M1339.1 697.6h0M1340.1 702.2h0M1341.1 700.7h0M1342.1 698.4h0M1343.1 701.4h0M1344.2 700.3h0M1345.2 700.8h0M1346.2 698.7h0M1347.3 703.9h0M1348.3 701.9h0M1349.4 700.1h0M1350.4 702.5h0M1351.5 701.6h0M1352.5 703.5h0M1353.6 700.6h0M1354.7 703.5h0M1355.8 702.1h0M1356.9 701.3h0M1358 704.8h0M1359.1 701.8h0M1360.2 703.4h0M1361.3 700.4h0M1362.4 705.2h0M1363.6 704.1h0M1364.7 702.2h0M1365.9 705.8h0M1367.1 702.7h0M1368.2 705h0M1369.4 701h0M1370.6 706.4h0M1371.8 703.5h0M1373.1 702.6h0M1374.3 706.4h0M1375.5 703.5h0M1376.8 704.4h0M1378 701.7h0M1379.3 706.1h0M1380.6 704h0M1381.9 702.7h0M1383.3 706.3h0M1384.6 703.7h0M1385.5 704.8h0M1386.4 701.8h0M1387.3 706.1h0M1388.2 704.9h0M1389.2 703.2h0M1390.1 705.8h0M1391.1 704.2h0M1392 705h0M1393 703.7h0M1394 706.7h0M1395 704.5h0M1396 704.7h0M1397 706.2h0M1398 705.9h0M1399 706.7h0M1400 704.9h0M1401.1 708.2h0M1402.1 707.5h0M1403.2 706.2h0M1404.3 708.1h0M1405.4 707.3h0M1406.5 708.6h0M1407.6 705.7h0M1408.8 709.9h0M1409.9 708.9h0M1411.1 706.4h0M1412.3 710.7h0M1413.5 707.9h0M1414.7 709.2h0M1415.9 707.8h0M1417.2 711.8h0M1418.5 709.6h0M1419.8 709.7h0M1421.1 712.6h0M1422.4 709.9h0M1423.8 712.2h0M1425.2 709.1h0M1426.6 716.5h0M1428.1 714.2h0M1429.5 712h0M1431 718.1h0M1432.6 715.3h0M1434.1 718.6h0M1435.7 714.7h0M1437.4 719.6h0M1439 715.2h0M1440.8 712h0M1442.5 714.3h0M1444.3 711.7h0M1445.3 712.1h0M1446.2 707.5h0M1447.2 712.9h0M1448.1 709.1h0M1449.1 706.9h0M1450.1 710.6h0M1451.1 706.7h0M1452.1 708h0M1453.2 701.6h0M1454.2 709.4h0M1455.3 705.8h0M1456.4 701.2h0M1457.6 706.6h0M1458.7 701.2h0M1459.9 703.3h0M1461 696.1h0M1462.3 704h0M1463.5 698.2h0M1464.8 695.4h0M1466.1 699.4h0M1467.4 695.7h0M1468.7 698.5h0M1470.1 693.7h0M1471.5 700.3h0M1473 697.5h0M1474.5 696.9h0M1476 699.3h0M1477.6 698.5h0M1479.2 700.8h0M1480.9 700.2h0M1482.7 704.5h0M1484.5 703h0M1486.3 702.5h0M1488.3 705.8h0M1490.3 704.6h0M1492.4 706h0M1494.6 706h0M1496.9 698.9h0M1499.3 689.4h0M1501.8 687.8h0M1504.5 688.8h0M1507.3 689.4h0M1510.3 689.7h0M1513.5 692.6h0M1517 695.8h0M1520.8 696.9h0" stroke="#E04CF0" stroke-opacity="0.95" stroke-width="12.3" stroke-linecap="round" fill="none"/><circle cx="984.2" cy="667.1" r="5.2" fill="#E04CF0" fill-opacity="0.8" stroke="#E04CF0" stroke-opacity="0.8" stroke-width="1.9"/><circle cx="1016.4" cy="696.7" r="5.2" fill="#E04CF0" fill-opacity="0.8" stroke="#E04CF0" stroke-opacity="0.8" stroke-width="1.9"/><circle cx="1032.4" cy="701.9" r="5.2" fill="#E04CF0" fill-opacity="0.8" stroke="#E04CF0" stroke-opacity="0.8" stroke-width="1.9"/><circle cx="1043.5" cy="707.5" r="5.2" fill="#E04CF0" fill-opacity="0.8" stroke="#E04CF0" stroke-opacity="0.8" stroke-width="1.9"/><circle cx="1052" cy="709" r="5.2" fill="#E04CF0" fill-opacity="0.8" stroke="#E04CF0" stroke-opacity="0.8" stroke-width="1.9"/><circle cx="1058.9" cy="709.6" r="5.2" fill="#E04CF0" fill-opacity="0.8" stroke="#E04CF0" stroke-opacity="0.8" stroke-width="1.9"/><circle cx="1064.9" cy="716.9" r="5.2" fill="#E04CF0" fill-opacity="0.8" stroke="#E04CF0" stroke-opacity="0.8" stroke-width="1.9"/><circle cx="1070" cy="722" r="5.2" fill="#E04CF0" fill-opacity="0.8" stroke="#E04CF0" stroke-opacity="0.8" stroke-width="1.9"/><circle cx="1615.4" cy="552.7" r="5.2" fill="#E04CF0" fill-opacity="0.8" stroke="#E04CF0" stroke-opacity="0.8" stroke-width="1.9"/><circle cx="1583.2" cy="710" r="5.2" fill="#E04CF0" fill-opacity="0.8" stroke="#E04CF0" stroke-opacity="0.8" stroke-width="1.9"/><circle cx="1567.2" cy="693.6" r="5.2" fill="#E04CF0" fill-opacity="0.8" stroke="#E04CF0" stroke-opacity="0.8" stroke-width="1.9"/><circle cx="1556.1" cy="698.8" r="5.2" fill="#E04CF0" fill-opacity="0.8" stroke="#E04CF0" stroke-opacity="0.8" stroke-width="1.9"/><circle cx="1547.6" cy="706.2" r="5.2" fill="#E04CF0" fill-opacity="0.8" stroke="#E04CF0" stroke-opacity="0.8" stroke-width="1.9"/><circle cx="1540.7" cy="712.8" r="5.2" fill="#E04CF0" fill-opacity="0.8" stroke="#E04CF0" stroke-opacity="0.8" stroke-width="1.9"/><circle cx="1534.7" cy="711.9" r="5.2" fill="#E04CF0" fill-opacity="0.8" stroke="#E04CF0" stroke-opacity="0.8" stroke-width="1.9"/><circle cx="1529.6" cy="706.2" r="5.2" fill="#E04CF0" fill-opacity="0.8" stroke="#E04CF0" stroke-opacity="0.8" stroke-width="1.9"/><circle cx="1525" cy="701.5" r="5.2" fill="#E04CF0" fill-opacity="0.8" stroke="#E04CF0" stroke-opacity="0.8" stroke-width="1.9"/><path d="M935.8 423.2L937.6 431.7L939.3 439.9L941.1 447.9L942.9 455.5L944.7 462.9L946.4 470L948.2 476.8L950 483.5L951.8 489.8L953.5 496L955.3 501.9L957.1 507.7L958.9 513.2L960.6 518.5L962.4 523.7L964.2 528.7L966 533.5L967.7 538.1L969.5 542.6L971.3 546.9L973.1 551.1L974.8 555.2L976.6 559.1L978.4 562.9L980.2 566.5L981.9 570.1L983.7 573.5L985.5 576.8L987.3 580L989 583.1L990.8 586.1L992.6 589L994.4 591.8L996.1 594.5L997.9 597.1L999.7 599.7L1001.5 602.1L1003.2 604.5L1005 606.8L1006.8 609.1L1008.6 611.2L1010.3 613.3L1012.1 615.4L1013.9 617.3L1015.7 619.3L1017.4 621.1L1019.2 622.9L1021 624.7L1022.8 626.4L1024.5 628L1026.3 629.6L1028.1 631.1L1029.9 632.6L1031.6 634.1L1033.4 635.5L1035.2 636.9L1037 638.2L1038.7 639.5L1040.5 640.7L1042.3 641.9L1044.1 643.1L1045.8 644.3L1047.6 645.4L1049.4 646.5L1051.2 647.5L1052.9 648.5L1054.7 649.5L1056.5 650.5L1058.3 651.4L1060 652.3L1061.8 653.2L1063.6 654.1L1065.4 654.9L1067.1 655.7L1068.9 656.5L1070.7 657.3L1072.5 658L1074.2 658.8L1076 659.5L1077.8 660.2L1079.6 660.8L1081.3 661.5L1083.1 662.1L1084.9 662.8L1086.7 663.4L1088.4 663.9L1090.2 664.5L1092 665.1L1093.8 665.6L1095.5 666.1L1097.3 666.7L1099.1 667.2L1100.9 667.6L1102.6 668.1L1104.4 668.6L1106.2 669L1107.9 669.5L1109.7 669.9L1111.5 670.3L1113.3 670.7L1115 671.1L1116.8 671.5L1118.6 671.9L1120.4 672.2L1122.1 672.6L1123.9 672.9L1125.7 673.3L1127.5 673.6L1129.2 673.9L1131 674.3L1132.8 674.6L1134.6 674.9L1136.3 675.2L1138.1 675.4L1139.9 675.7L1141.7 676L1143.4 676.3L1145.2 676.5L1147 676.8L1148.8 677L1150.5 677.2L1152.3 677.5L1154.1 677.7L1155.9 677.9L1157.6 678.1L1159.4 678.4L1161.2 678.6L1163 678.8L1164.7 679L1166.5 679.2L1168.3 679.3L1170.1 679.5L1171.8 679.7L1173.6 679.9L1175.4 680L1177.2 680.2L1178.9 680.4L1180.7 680.5L1182.5 680.7L1184.3 680.8L1186 681L1187.8 681.1L1189.6 681.3L1191.4 681.4L1193.1 681.5L1194.9 681.6L1196.7 681.8L1198.5 681.9L1200.2 682L1202 682.1L1203.8 682.2L1205.6 682.3L1207.3 682.5L1209.1 682.6L1210.9 682.7L1212.7 682.8L1214.4 682.8L1216.2 682.9L1218 683L1219.8 683.1L1221.5 683.2L1223.3 683.3L1225.1 683.4L1226.9 683.4L1228.6 683.5L1230.4 683.6L1232.2 683.7L1234 683.7L1235.7 683.8L1237.5 683.9L1239.3 683.9L1241.1 684L1242.8 684L1244.6 684.1L1246.4 684.1L1248.2 684.2L1249.9 684.2L1251.7 684.3L1253.5 684.3L1255.3 684.4L1257 684.4L1258.8 684.5L1260.6 684.5L1262.4 684.5L1264.1 684.6L1265.9 684.6L1267.7 684.6L1269.5 684.7L1271.2 684.7L1273 684.7L1274.8 684.7L1276.6 684.8L1278.3 684.8L1280.1 684.8L1281.9 684.8L1283.6 684.8L1285.4 684.9L1287.2 684.9L1289 684.9L1290.7 684.9L1292.5 684.9L1294.3 684.9L1296.1 684.9L1297.8 684.9L1299.6 684.9L1301.4 684.9L1303.2 684.9L1304.9 684.9L1306.7 684.9L1308.5 684.9L1310.3 684.9L1312 684.9L1313.8 684.9L1315.6 684.8L1317.4 684.8L1319.1 684.8L1320.9 684.8L1322.7 684.8L1324.5 684.8L1326.2 684.7L1328 684.7L1329.8 684.7L1331.6 684.6L1333.3 684.6L1335.1 684.6L1336.9 684.5L1338.7 684.5L1340.4 684.5L1342.2 684.4L1344 684.4L1345.8 684.4L1347.5 684.3L1349.3 684.3L1351.1 684.2L1352.9 684.2L1354.6 684.1L1356.4 684L1358.2 684L1360 683.9L1361.7 683.9L1363.5 683.8L1365.3 683.7L1367.1 683.7L1368.8 683.6L1370.6 683.5L1372.4 683.5L1374.2 683.4L1375.9 683.3L1377.7 683.2L1379.5 683.1L1381.3 683L1383 683L1384.8 682.9L1386.6 682.8L1388.4 682.7L1390.1 682.6L1391.9 682.5L1393.7 682.4L1395.5 682.3L1397.2 682.1L1399 682L1400.8 681.9L1402.6 681.8L1404.3 681.7L1406.1 681.5L1407.9 681.4L1409.7 681.3L1411.4 681.1L1413.2 681L1415 680.9L1416.8 680.7L1418.5 680.6L1420.3 680.4L1422.1 680.2L1423.9 680.1L1425.6 679.9L1427.4 679.7L1429.2 679.6L1431 679.4L1432.7 679.2L1434.5 679L1436.3 678.8L1438.1 678.6L1439.8 678.4L1441.6 678.2L1443.4 678L1445.2 677.8L1446.9 677.5L1448.7 677.3L1450.5 677.1L1452.3 676.8L1454 676.6L1455.8 676.3L1457.6 676L1459.4 675.8L1461.1 675.5L1462.9 675.2L1464.7 674.9L1466.4 674.6L1468.2 674.3L1470 674L1471.8 673.7L1473.5 673.4L1475.3 673L1477.1 672.7L1478.9 672.3L1480.6 671.9L1482.4 671.6L1484.2 671.2L1486 670.8L1487.7 670.4L1489.5 670L1491.3 669.6L1493.1 669.1L1494.8 668.7L1496.6 668.2L1498.4 667.7L1500.2 667.2L1501.9 666.8L1503.7 666.2L1505.5 665.7L1507.3 665.2L1509 664.6L1510.8 664.1L1512.6 663.5L1514.4 662.9L1516.1 662.3L1517.9 661.6L1519.7 661L1521.5 660.3L1523.2 659.6L1525 658.9L1526.8 658.2L1528.6 657.4L1530.3 656.7L1532.1 655.9L1533.9 655.1L1535.7 654.3L1537.4 653.4L1539.2 652.5L1541 651.6L1542.8 650.7L1544.5 649.7L1546.3 648.7L1548.1 647.7L1549.9 646.7L1551.6 645.6L1553.4 644.5L1555.2 643.3L1557 642.2L1558.7 641L1560.5 639.7L1562.3 638.4L1564.1 637.1L1565.8 635.8L1567.6 634.4L1569.4 632.9L1571.2 631.4L1572.9 629.9L1574.7 628.3L1576.5 626.7L1578.3 625L1580 623.3L1581.8 621.5L1583.6 619.6L1585.4 617.7L1587.1 615.8L1588.9 613.8L1590.7 611.7L1592.5 609.5L1594.2 607.3L1596 605L1597.8 602.6L1599.6 600.2L1601.3 597.6L1603.1 595L1604.9 592.3L1606.7 589.5L1608.4 586.7L1610.2 583.7L1612 580.6L1613.8 577.4L1615.5 574.2L1617.3 570.8L1619.1 567.2L1620.9 563.6L1622.6 559.9L1624.4 556L1626.2 551.9L1628 547.8L1629.7 543.5L1631.5 539L1633.3 534.4L1635.1 529.6L1636.8 524.7L1638.6 519.6L1640.4 514.3L1642.2 508.8L1643.9 503.1L1645.7 497.2L1645.7 899.9L1643.9 894L1642.2 888.3L1640.4 882.8L1638.6 877.5L1636.8 872.4L1635.1 867.5L1633.3 862.7L1631.5 858.1L1629.7 853.6L1628 849.3L1626.2 845.2L1624.4 841.1L1622.6 837.2L1620.9 833.5L1619.1 829.9L1617.3 826.3L1615.5 822.9L1613.8 819.7L1612 816.5L1610.2 813.4L1608.4 810.4L1606.7 807.6L1604.9 804.8L1603.1 802.1L1601.3 799.5L1599.6 796.9L1597.8 794.5L1596 792.1L1594.2 789.8L1592.5 787.6L1590.7 785.4L1588.9 783.3L1587.1 781.3L1585.4 779.4L1583.6 777.5L1581.8 775.6L1580 773.8L1578.3 772.1L1576.5 770.4L1574.7 768.8L1572.9 767.2L1571.2 765.7L1569.4 764.2L1567.6 762.7L1565.8 761.3L1564.1 760L1562.3 758.7L1560.5 757.4L1558.7 756.1L1557 754.9L1555.2 753.8L1553.4 752.6L1551.6 751.5L1549.9 750.4L1548.1 749.4L1546.3 748.4L1544.5 747.4L1542.8 746.4L1541 745.5L1539.2 744.6L1537.4 743.7L1535.7 742.8L1533.9 742L1532.1 741.2L1530.3 740.4L1528.6 739.7L1526.8 738.9L1525 738.2L1523.2 737.5L1521.5 736.8L1519.7 736.1L1517.9 735.5L1516.1 734.8L1514.4 734.2L1512.6 733.6L1510.8 733L1509 732.5L1507.3 731.9L1505.5 731.4L1503.7 730.9L1501.9 730.3L1500.2 729.9L1498.4 729.4L1496.6 728.9L1494.8 728.4L1493.1 728L1491.3 727.5L1489.5 727.1L1487.7 726.7L1486 726.3L1484.2 725.9L1482.4 725.5L1480.6 725.2L1478.9 724.8L1477.1 724.4L1475.3 724.1L1473.5 723.7L1471.8 723.4L1470 723.1L1468.2 722.8L1466.4 722.5L1464.7 722.2L1462.9 721.9L1461.1 721.6L1459.4 721.3L1457.6 721.1L1455.8 720.8L1454 720.5L1452.3 720.3L1450.5 720L1448.7 719.8L1446.9 719.6L1445.2 719.3L1443.4 719.1L1441.6 718.9L1439.8 718.7L1438.1 718.5L1436.3 718.3L1434.5 718.1L1432.7 717.9L1431 717.7L1429.2 717.5L1427.4 717.4L1425.6 717.2L1423.9 717L1422.1 716.9L1420.3 716.7L1418.5 716.5L1416.8 716.4L1415 716.2L1413.2 716.1L1411.4 716L1409.7 715.8L1407.9 715.7L1406.1 715.6L1404.3 715.4L1402.6 715.3L1400.8 715.2L1399 715.1L1397.2 715L1395.5 714.8L1393.7 714.7L1391.9 714.6L1390.1 714.5L1388.4 714.4L1386.6 714.3L1384.8 714.2L1383 714.1L1381.3 714.1L1379.5 714L1377.7 713.9L1375.9 713.8L1374.2 713.7L1372.4 713.6L1370.6 713.6L1368.8 713.5L1367.1 713.4L1365.3 713.4L1363.5 713.3L1361.7 713.2L1360 713.2L1358.2 713.1L1356.4 713.1L1354.6 713L1352.9 712.9L1351.1 712.9L1349.3 712.8L1347.5 712.8L1345.8 712.7L1344 712.7L1342.2 712.7L1340.4 712.6L1338.7 712.6L1336.9 712.6L1335.1 712.5L1333.3 712.5L1331.6 712.5L1329.8 712.4L1328 712.4L1326.2 712.4L1324.5 712.3L1322.7 712.3L1320.9 712.3L1319.1 712.3L1317.4 712.3L1315.6 712.3L1313.8 712.2L1312 712.2L1310.3 712.2L1308.5 712.2L1306.7 712.2L1304.9 712.2L1303.2 712.2L1301.4 712.2L1299.6 712.2L1297.8 712.2L1296.1 712.2L1294.3 712.2L1292.5 712.2L1290.7 712.2L1289 712.2L1287.2 712.2L1285.4 712.2L1283.6 712.3L1281.9 712.3L1280.1 712.3L1278.3 712.3L1276.6 712.3L1274.8 712.4L1273 712.4L1271.2 712.4L1269.5 712.4L1267.7 712.5L1265.9 712.5L1264.1 712.5L1262.4 712.6L1260.6 712.6L1258.8 712.6L1257 712.7L1255.3 712.7L1253.5 712.8L1251.7 712.8L1249.9 712.9L1248.2 712.9L1246.4 713L1244.6 713L1242.8 713.1L1241.1 713.1L1239.3 713.2L1237.5 713.2L1235.7 713.3L1234 713.4L1232.2 713.4L1230.4 713.5L1228.6 713.6L1226.9 713.7L1225.1 713.7L1223.3 713.8L1221.5 713.9L1219.8 714L1218 714.1L1216.2 714.2L1214.4 714.3L1212.7 714.3L1210.9 714.4L1209.1 714.5L1207.3 714.6L1205.6 714.8L1203.8 714.9L1202 715L1200.2 715.1L1198.5 715.2L1196.7 715.3L1194.9 715.5L1193.1 715.6L1191.4 715.7L1189.6 715.8L1187.8 716L1186 716.1L1184.3 716.3L1182.5 716.4L1180.7 716.6L1178.9 716.7L1177.2 716.9L1175.4 717.1L1173.6 717.2L1171.8 717.4L1170.1 717.6L1168.3 717.8L1166.5 717.9L1164.7 718.1L1163 718.3L1161.2 718.5L1159.4 718.7L1157.6 719L1155.9 719.2L1154.1 719.4L1152.3 719.6L1150.5 719.9L1148.8 720.1L1147 720.3L1145.2 720.6L1143.4 720.8L1141.7 721.1L1139.9 721.4L1138.1 721.7L1136.3 721.9L1134.6 722.2L1132.8 722.5L1131 722.8L1129.2 723.2L1127.5 723.5L1125.7 723.8L1123.9 724.2L1122.1 724.5L1120.4 724.9L1118.6 725.2L1116.8 725.6L1115 726L1113.3 726.4L1111.5 726.8L1109.7 727.2L1107.9 727.6L1106.2 728.1L1104.4 728.5L1102.6 729L1100.9 729.5L1099.1 729.9L1097.3 730.4L1095.5 731L1093.8 731.5L1092 732L1090.2 732.6L1088.4 733.2L1086.7 733.7L1084.9 734.3L1083.1 735L1081.3 735.6L1079.6 736.3L1077.8 736.9L1076 737.6L1074.2 738.3L1072.5 739.1L1070.7 739.8L1068.9 740.6L1067.1 741.4L1065.4 742.2L1063.6 743L1061.8 743.9L1060 744.8L1058.3 745.7L1056.5 746.6L1054.7 747.6L1052.9 748.6L1051.2 749.6L1049.4 750.6L1047.6 751.7L1045.8 752.8L1044.1 754L1042.3 755.2L1040.5 756.4L1038.7 757.6L1037 758.9L1035.2 760.2L1033.4 761.6L1031.6 763L1029.9 764.5L1028.1 766L1026.3 767.5L1024.5 769.1L1022.8 770.7L1021 772.4L1019.2 774.2L1017.4 776L1015.7 777.8L1013.9 779.8L1012.1 781.7L1010.3 783.8L1008.6 785.9L1006.8 788L1005 790.3L1003.2 792.6L1001.5 795L999.7 797.4L997.9 800L996.1 802.6L994.4 805.3L992.6 808.1L990.8 811L989 814L987.3 817.1L985.5 820.3L983.7 823.6L981.9 827L980.2 830.6L978.4 834.2L976.6 838L974.8 841.9L973.1 846L971.3 850.2L969.5 854.5L967.7 859L966 863.6L964.2 868.4L962.4 873.4L960.6 878.6L958.9 883.9L957.1 889.4L955.3 895.2L953.5 901.1L951.8 907.3L950 913.6L948.2 920.3L946.4 927.1L944.7 934.2L942.9 941.6L941.1 949.2L939.3 957.2L937.6 965.4L935.8 973.9Z" fill="#000000" fill-opacity="0.074"/><path d="M935.8 423.2L937.6 431.7L939.3 439.9L941.1 447.9L942.9 455.5L944.7 462.9L946.4 470L948.2 476.8L950 483.5L951.8 489.8L953.5 496L955.3 501.9L957.1 507.7L958.9 513.2L960.6 518.5L962.4 523.7L964.2 528.7L966 533.5L967.7 538.1L969.5 542.6L971.3 546.9L973.1 551.1L974.8 555.2L976.6 559.1L978.4 562.9L980.2 566.5L981.9 570.1L983.7 573.5L985.5 576.8L987.3 580L989 583.1L990.8 586.1L992.6 589L994.4 591.8L996.1 594.5L997.9 597.1L999.7 599.7L1001.5 602.1L1003.2 604.5L1005 606.8L1006.8 609.1L1008.6 611.2L1010.3 613.3L1012.1 615.4L1013.9 617.3L1015.7 619.3L1017.4 621.1L1019.2 622.9L1021 624.7L1022.8 626.4L1024.5 628L1026.3 629.6L1028.1 631.1L1029.9 632.6L1031.6 634.1L1033.4 635.5L1035.2 636.9L1037 638.2L1038.7 639.5L1040.5 640.7L1042.3 641.9L1044.1 643.1L1045.8 644.3L1047.6 645.4L1049.4 646.5L1051.2 647.5L1052.9 648.5L1054.7 649.5L1056.5 650.5L1058.3 651.4L1060 652.3L1061.8 653.2L1063.6 654.1L1065.4 654.9L1067.1 655.7L1068.9 656.5L1070.7 657.3L1072.5 658L1074.2 658.8L1076 659.5L1077.8 660.2L1079.6 660.8L1081.3 661.5L1083.1 662.1L1084.9 662.8L1086.7 663.4L1088.4 663.9L1090.2 664.5L1092 665.1L1093.8 665.6L1095.5 666.1L1097.3 666.7L1099.1 667.2L1100.9 667.6L1102.6 668.1L1104.4 668.6L1106.2 669L1107.9 669.5L1109.7 669.9L1111.5 670.3L1113.3 670.7L1115 671.1L1116.8 671.5L1118.6 671.9L1120.4 672.2L1122.1 672.6L1123.9 672.9L1125.7 673.3L1127.5 673.6L1129.2 673.9L1131 674.3L1132.8 674.6L1134.6 674.9L1136.3 675.2L1138.1 675.4L1139.9 675.7L1141.7 676L1143.4 676.3L1145.2 676.5L1147 676.8L1148.8 677L1150.5 677.2L1152.3 677.5L1154.1 677.7L1155.9 677.9L1157.6 678.1L1159.4 678.4L1161.2 678.6L1163 678.8L1164.7 679L1166.5 679.2L1168.3 679.3L1170.1 679.5L1171.8 679.7L1173.6 679.9L1175.4 680L1177.2 680.2L1178.9 680.4L1180.7 680.5L1182.5 680.7L1184.3 680.8L1186 681L1187.8 681.1L1189.6 681.3L1191.4 681.4L1193.1 681.5L1194.9 681.6L1196.7 681.8L1198.5 681.9L1200.2 682L1202 682.1L1203.8 682.2L1205.6 682.3L1207.3 682.5L1209.1 682.6L1210.9 682.7L1212.7 682.8L1214.4 682.8L1216.2 682.9L1218 683L1219.8 683.1L1221.5 683.2L1223.3 683.3L1225.1 683.4L1226.9 683.4L1228.6 683.5L1230.4 683.6L1232.2 683.7L1234 683.7L1235.7 683.8L1237.5 683.9L1239.3 683.9L1241.1 684L1242.8 684L1244.6 684.1L1246.4 684.1L1248.2 684.2L1249.9 684.2L1251.7 684.3L1253.5 684.3L1255.3 684.4L1257 684.4L1258.8 684.5L1260.6 684.5L1262.4 684.5L1264.1 684.6L1265.9 684.6L1267.7 684.6L1269.5 684.7L1271.2 684.7L1273 684.7L1274.8 684.7L1276.6 684.8L1278.3 684.8L1280.1 684.8L1281.9 684.8L1283.6 684.8L1285.4 684.9L1287.2 684.9L1289 684.9L1290.7 684.9L1292.5 684.9L1294.3 684.9L1296.1 684.9L1297.8 684.9L1299.6 684.9L1301.4 684.9L1303.2 684.9L1304.9 684.9L1306.7 684.9L1308.5 684.9L1310.3 684.9L1312 684.9L1313.8 684.9L1315.6 684.8L1317.4 684.8L1319.1 684.8L1320.9 684.8L1322.7 684.8L1324.5 684.8L1326.2 684.7L1328 684.7L1329.8 684.7L1331.6 684.6L1333.3 684.6L1335.1 684.6L1336.9 684.5L1338.7 684.5L1340.4 684.5L1342.2 684.4L1344 684.4L1345.8 684.4L1347.5 684.3L1349.3 684.3L1351.1 684.2L1352.9 684.2L1354.6 684.1L1356.4 684L1358.2 684L1360 683.9L1361.7 683.9L1363.5 683.8L1365.3 683.7L1367.1 683.7L1368.8 683.6L1370.6 683.5L1372.4 683.5L1374.2 683.4L1375.9 683.3L1377.7 683.2L1379.5 683.1L1381.3 683L1383 683L1384.8 682.9L1386.6 682.8L1388.4 682.7L1390.1 682.6L1391.9 682.5L1393.7 682.4L1395.5 682.3L1397.2 682.1L1399 682L1400.8 681.9L1402.6 681.8L1404.3 681.7L1406.1 681.5L1407.9 681.4L1409.7 681.3L1411.4 681.1L1413.2 681L1415 680.9L1416.8 680.7L1418.5 680.6L1420.3 680.4L1422.1 680.2L1423.9 680.1L1425.6 679.9L1427.4 679.7L1429.2 679.6L1431 679.4L1432.7 679.2L1434.5 679L1436.3 678.8L1438.1 678.6L1439.8 678.4L1441.6 678.2L1443.4 678L1445.2 677.8L1446.9 677.5L1448.7 677.3L1450.5 677.1L1452.3 676.8L1454 676.6L1455.8 676.3L1457.6 676L1459.4 675.8L1461.1 675.5L1462.9 675.2L1464.7 674.9L1466.4 674.6L1468.2 674.3L1470 674L1471.8 673.7L1473.5 673.4L1475.3 673L1477.1 672.7L1478.9 672.3L1480.6 671.9L1482.4 671.6L1484.2 671.2L1486 670.8L1487.7 670.4L1489.5 670L1491.3 669.6L1493.1 669.1L1494.8 668.7L1496.6 668.2L1498.4 667.7L1500.2 667.2L1501.9 666.8L1503.7 666.2L1505.5 665.7L1507.3 665.2L1509 664.6L1510.8 664.1L1512.6 663.5L1514.4 662.9L1516.1 662.3L1517.9 661.6L1519.7 661L1521.5 660.3L1523.2 659.6L1525 658.9L1526.8 658.2L1528.6 657.4L1530.3 656.7L1532.1 655.9L1533.9 655.1L1535.7 654.3L1537.4 653.4L1539.2 652.5L1541 651.6L1542.8 650.7L1544.5 649.7L1546.3 648.7L1548.1 647.7L1549.9 646.7L1551.6 645.6L1553.4 644.5L1555.2 643.3L1557 642.2L1558.7 641L1560.5 639.7L1562.3 638.4L1564.1 637.1L1565.8 635.8L1567.6 634.4L1569.4 632.9L1571.2 631.4L1572.9 629.9L1574.7 628.3L1576.5 626.7L1578.3 625L1580 623.3L1581.8 621.5L1583.6 619.6L1585.4 617.7L1587.1 615.8L1588.9 613.8L1590.7 611.7L1592.5 609.5L1594.2 607.3L1596 605L1597.8 602.6L1599.6 600.2L1601.3 597.6L1603.1 595L1604.9 592.3L1606.7 589.5L1608.4 586.7L1610.2 583.7L1612 580.6L1613.8 577.4L1615.5 574.2L1617.3 570.8L1619.1 567.2L1620.9 563.6L1622.6 559.9L1624.4 556L1626.2 551.9L1628 547.8L1629.7 543.5L1631.5 539L1633.3 534.4L1635.1 529.6L1636.8 524.7L1638.6 519.6L1640.4 514.3L1642.2 508.8L1643.9 503.1L1645.7 497.2" stroke="#000" stroke-width="2.6" fill="none" stroke-dasharray="11.2 11.65" stroke-dashoffset="3.2"/><path d="M935.8 973.9L937.6 965.4L939.3 957.2L941.1 949.2L942.9 941.6L944.7 934.2L946.4 927.1L948.2 920.3L950 913.6L951.8 907.3L953.5 901.1L955.3 895.2L957.1 889.4L958.9 883.9L960.6 878.6L962.4 873.4L964.2 868.4L966 863.6L967.7 859L969.5 854.5L971.3 850.2L973.1 846L974.8 841.9L976.6 838L978.4 834.2L980.2 830.6L981.9 827L983.7 823.6L985.5 820.3L987.3 817.1L989 814L990.8 811L992.6 808.1L994.4 805.3L996.1 802.6L997.9 800L999.7 797.4L1001.5 795L1003.2 792.6L1005 790.3L1006.8 788L1008.6 785.9L1010.3 783.8L1012.1 781.7L1013.9 779.8L1015.7 777.8L1017.4 776L1019.2 774.2L1021 772.4L1022.8 770.7L1024.5 769.1L1026.3 767.5L1028.1 766L1029.9 764.5L1031.6 763L1033.4 761.6L1035.2 760.2L1037 758.9L1038.7 757.6L1040.5 756.4L1042.3 755.2L1044.1 754L1045.8 752.8L1047.6 751.7L1049.4 750.6L1051.2 749.6L1052.9 748.6L1054.7 747.6L1056.5 746.6L1058.3 745.7L1060 744.8L1061.8 743.9L1063.6 743L1065.4 742.2L1067.1 741.4L1068.9 740.6L1070.7 739.8L1072.5 739.1L1074.2 738.3L1076 737.6L1077.8 736.9L1079.6 736.3L1081.3 735.6L1083.1 735L1084.9 734.3L1086.7 733.7L1088.4 733.2L1090.2 732.6L1092 732L1093.8 731.5L1095.5 731L1097.3 730.4L1099.1 729.9L1100.9 729.5L1102.6 729L1104.4 728.5L1106.2 728.1L1107.9 727.6L1109.7 727.2L1111.5 726.8L1113.3 726.4L1115 726L1116.8 725.6L1118.6 725.2L1120.4 724.9L1122.1 724.5L1123.9 724.2L1125.7 723.8L1127.5 723.5L1129.2 723.2L1131 722.8L1132.8 722.5L1134.6 722.2L1136.3 721.9L1138.1 721.7L1139.9 721.4L1141.7 721.1L1143.4 720.8L1145.2 720.6L1147 720.3L1148.8 720.1L1150.5 719.9L1152.3 719.6L1154.1 719.4L1155.9 719.2L1157.6 719L1159.4 718.7L1161.2 718.5L1163 718.3L1164.7 718.1L1166.5 717.9L1168.3 717.8L1170.1 717.6L1171.8 717.4L1173.6 717.2L1175.4 717.1L1177.2 716.9L1178.9 716.7L1180.7 716.6L1182.5 716.4L1184.3 716.3L1186 716.1L1187.8 716L1189.6 715.8L1191.4 715.7L1193.1 715.6L1194.9 715.5L1196.7 715.3L1198.5 715.2L1200.2 715.1L1202 715L1203.8 714.9L1205.6 714.8L1207.3 714.6L1209.1 714.5L1210.9 714.4L1212.7 714.3L1214.4 714.3L1216.2 714.2L1218 714.1L1219.8 714L1221.5 713.9L1223.3 713.8L1225.1 713.7L1226.9 713.7L1228.6 713.6L1230.4 713.5L1232.2 713.4L1234 713.4L1235.7 713.3L1237.5 713.2L1239.3 713.2L1241.1 713.1L1242.8 713.1L1244.6 713L1246.4 713L1248.2 712.9L1249.9 712.9L1251.7 712.8L1253.5 712.8L1255.3 712.7L1257 712.7L1258.8 712.6L1260.6 712.6L1262.4 712.6L1264.1 712.5L1265.9 712.5L1267.7 712.5L1269.5 712.4L1271.2 712.4L1273 712.4L1274.8 712.4L1276.6 712.3L1278.3 712.3L1280.1 712.3L1281.9 712.3L1283.6 712.3L1285.4 712.2L1287.2 712.2L1289 712.2L1290.7 712.2L1292.5 712.2L1294.3 712.2L1296.1 712.2L1297.8 712.2L1299.6 712.2L1301.4 712.2L1303.2 712.2L1304.9 712.2L1306.7 712.2L1308.5 712.2L1310.3 712.2L1312 712.2L1313.8 712.2L1315.6 712.3L1317.4 712.3L1319.1 712.3L1320.9 712.3L1322.7 712.3L1324.5 712.3L1326.2 712.4L1328 712.4L1329.8 712.4L1331.6 712.5L1333.3 712.5L1335.1 712.5L1336.9 712.6L1338.7 712.6L1340.4 712.6L1342.2 712.7L1344 712.7L1345.8 712.7L1347.5 712.8L1349.3 712.8L1351.1 712.9L1352.9 712.9L1354.6 713L1356.4 713.1L1358.2 713.1L1360 713.2L1361.7 713.2L1363.5 713.3L1365.3 713.4L1367.1 713.4L1368.8 713.5L1370.6 713.6L1372.4 713.6L1374.2 713.7L1375.9 713.8L1377.7 713.9L1379.5 714L1381.3 714.1L1383 714.1L1384.8 714.2L1386.6 714.3L1388.4 714.4L1390.1 714.5L1391.9 714.6L1393.7 714.7L1395.5 714.8L1397.2 715L1399 715.1L1400.8 715.2L1402.6 715.3L1404.3 715.4L1406.1 715.6L1407.9 715.7L1409.7 715.8L1411.4 716L1413.2 716.1L1415 716.2L1416.8 716.4L1418.5 716.5L1420.3 716.7L1422.1 716.9L1423.9 717L1425.6 717.2L1427.4 717.4L1429.2 717.5L1431 717.7L1432.7 717.9L1434.5 718.1L1436.3 718.3L1438.1 718.5L1439.8 718.7L1441.6 718.9L1443.4 719.1L1445.2 719.3L1446.9 719.6L1448.7 719.8L1450.5 720L1452.3 720.3L1454 720.5L1455.8 720.8L1457.6 721.1L1459.4 721.3L1461.1 721.6L1462.9 721.9L1464.7 722.2L1466.4 722.5L1468.2 722.8L1470 723.1L1471.8 723.4L1473.5 723.7L1475.3 724.1L1477.1 724.4L1478.9 724.8L1480.6 725.2L1482.4 725.5L1484.2 725.9L1486 726.3L1487.7 726.7L1489.5 727.1L1491.3 727.5L1493.1 728L1494.8 728.4L1496.6 728.9L1498.4 729.4L1500.2 729.9L1501.9 730.3L1503.7 730.9L1505.5 731.4L1507.3 731.9L1509 732.5L1510.8 733L1512.6 733.6L1514.4 734.2L1516.1 734.8L1517.9 735.5L1519.7 736.1L1521.5 736.8L1523.2 737.5L1525 738.2L1526.8 738.9L1528.6 739.7L1530.3 740.4L1532.1 741.2L1533.9 742L1535.7 742.8L1537.4 743.7L1539.2 744.6L1541 745.5L1542.8 746.4L1544.5 747.4L1546.3 748.4L1548.1 749.4L1549.9 750.4L1551.6 751.5L1553.4 752.6L1555.2 753.8L1557 754.9L1558.7 756.1L1560.5 757.4L1562.3 758.7L1564.1 760L1565.8 761.3L1567.6 762.7L1569.4 764.2L1571.2 765.7L1572.9 767.2L1574.7 768.8L1576.5 770.4L1578.3 772.1L1580 773.8L1581.8 775.6L1583.6 777.5L1585.4 779.4L1587.1 781.3L1588.9 783.3L1590.7 785.4L1592.5 787.6L1594.2 789.8L1596 792.1L1597.8 794.5L1599.6 796.9L1601.3 799.5L1603.1 802.1L1604.9 804.8L1606.7 807.6L1608.4 810.4L1610.2 813.4L1612 816.5L1613.8 819.7L1615.5 822.9L1617.3 826.3L1619.1 829.9L1620.9 833.5L1622.6 837.2L1624.4 841.1L1626.2 845.2L1628 849.3L1629.7 853.6L1631.5 858.1L1633.3 862.7L1635.1 867.5L1636.8 872.4L1638.6 877.5L1640.4 882.8L1642.2 888.3L1643.9 894L1645.7 899.9" stroke="#000" stroke-width="2.6" fill="none" stroke-dasharray="11.2 11.65" stroke-dashoffset="3.2"/><path d="M1299.8 520.9V875.6M900.2 698.5H1681.9" stroke="#AEAEAE" stroke-width="2.84" fill="none"/></g><text x="88.4" y="136.8" font-size="23.47" fill="#363636" text-anchor="end">1.0</text><text x="88.4" y="215.1" font-size="23.47" fill="#363636" text-anchor="end">0.5</text><text x="88.4" y="293.4" font-size="23.47" fill="#363636" text-anchor="end">0.0</text><text x="88.4" y="371.6" font-size="23.47" fill="#363636" text-anchor="end">-0.5</text><text x="88.4" y="449.9" font-size="23.47" fill="#363636" text-anchor="end">-1.0</text><path d="M95.6 127.7H102.9M95.6 206H102.9M95.6 284.2H102.9M95.6 362.5H102.9M95.6 440.8H102.9" stroke="#1F1F1F" stroke-width="2.84"/><text x="88.4" y="551.1" font-size="23.47" fill="#363636" text-anchor="end">1.0</text><text x="88.4" y="629.4" font-size="23.47" fill="#363636" text-anchor="end">0.5</text><text x="88.4" y="707.6" font-size="23.47" fill="#363636" text-anchor="end">0.0</text><text x="88.4" y="785.9" font-size="23.47" fill="#363636" text-anchor="end">-0.5</text><text x="88.4" y="864.2" font-size="23.47" fill="#363636" text-anchor="end">-1.0</text><path d="M95.6 542H102.9M95.6 620.3H102.9M95.6 698.5H102.9M95.6 776.8H102.9M95.6 855.1H102.9" stroke="#1F1F1F" stroke-width="2.84"/><text x="111.5" y="905.6" font-size="23.47" fill="#363636" text-anchor="middle">-4</text><text x="307.2" y="905.6" font-size="23.47" fill="#363636" text-anchor="middle">-2</text><text x="502.9" y="905.6" font-size="23.47" fill="#363636" text-anchor="middle">0</text><text x="698.5" y="905.6" font-size="23.47" fill="#363636" text-anchor="middle">2</text><path d="M111.5 875.6V882.9M307.2 875.6V882.9M502.9 875.6V882.9M698.5 875.6V882.9" stroke="#1F1F1F" stroke-width="2.84"/><text x="908.4" y="905.6" font-size="23.47" fill="#363636" text-anchor="middle">-4</text><text x="1104.1" y="905.6" font-size="23.47" fill="#363636" text-anchor="middle">-2</text><text x="1299.8" y="905.6" font-size="23.47" fill="#363636" text-anchor="middle">0</text><text x="1495.5" y="905.6" font-size="23.47" fill="#363636" text-anchor="middle">2</text><path d="M908.4 875.6V882.9M1104.1 875.6V882.9M1299.8 875.6V882.9M1495.5 875.6V882.9" stroke="#1F1F1F" stroke-width="2.84"/><text x="102.3" y="39.7" font-size="34.4" letter-spacing="0.36" fill="#000">worm-plots of residuals from different models</text><text x="892.4" y="940" font-size="29.33" fill="#000" text-anchor="middle">Unit normal quantile</text><text transform="translate(35.7 491.3) rotate(-90)" font-size="29.33" fill="#000" text-anchor="middle">Deviation</text><text x="1726.3" y="380.2" font-size="29.33" fill="#000">model</text><rect x="1727.5" y="398.8" width="42.4" height="42.3" fill="#D9D9D9" stroke="#F65E54" stroke-width="2.84"/><path d="M1731.5 420.1H1763.6" stroke="#F65E54" stroke-width="2.84" stroke-linecap="round"/><circle cx="1748.6" cy="420.1" r="5.7" fill="#E25C53"/><circle cx="1748.6" cy="420.1" r="4.3" fill="#E1716A"/><text x="1786.3" y="428.8" font-size="23.47" fill="#000">mfA</text><rect x="1727.5" y="445" width="42.4" height="42.3" fill="#D9D9D9" stroke="#8F9100" stroke-width="2.84"/><path d="M1731.5 466.2H1763.6" stroke="#8F9100" stroke-width="2.84" stroke-linecap="round"/><circle cx="1748.6" cy="466.2" r="5.7" fill="#878909"/><circle cx="1748.6" cy="466.2" r="4.3" fill="#95972C"/><text x="1786.3" y="474.9" font-size="23.47" fill="#000">mfA1</text><rect x="1727.5" y="491.1" width="42.4" height="42.3" fill="#D9D9D9" stroke="#00AF65" stroke-width="2.84"/><path d="M1731.5 512.4H1763.6" stroke="#00AF65" stroke-width="2.84" stroke-linecap="round"/><circle cx="1748.6" cy="512.4" r="5.7" fill="#09A362"/><circle cx="1748.6" cy="512.4" r="4.3" fill="#2CAD76"/><text x="1786.3" y="521.1" font-size="23.47" fill="#000">mfLASSO</text><rect x="1727.5" y="537.3" width="42.4" height="42.3" fill="#D9D9D9" stroke="#009DF3" stroke-width="2.84"/><path d="M1731.5 558.5H1763.6" stroke="#009DF3" stroke-width="2.84" stroke-linecap="round"/><circle cx="1748.6" cy="558.5" r="5.7" fill="#0993DF"/><circle cx="1748.6" cy="558.5" r="4.3" fill="#2C9FDF"/><text x="1786.3" y="567.2" font-size="23.47" fill="#000">mfNN</text><rect x="1727.5" y="583.4" width="42.4" height="42.3" fill="#D9D9D9" stroke="#E04CF0" stroke-width="2.84"/><path d="M1731.5 604.7H1763.6" stroke="#E04CF0" stroke-width="2.84" stroke-linecap="round"/><circle cx="1748.6" cy="604.7" r="5.7" fill="#CF4CDD"/><circle cx="1748.6" cy="604.7" r="4.3" fill="#D164DC"/><text x="1786.3" y="613.4" font-size="23.47" fill="#000">mfPCR</text></svg></body></html>
